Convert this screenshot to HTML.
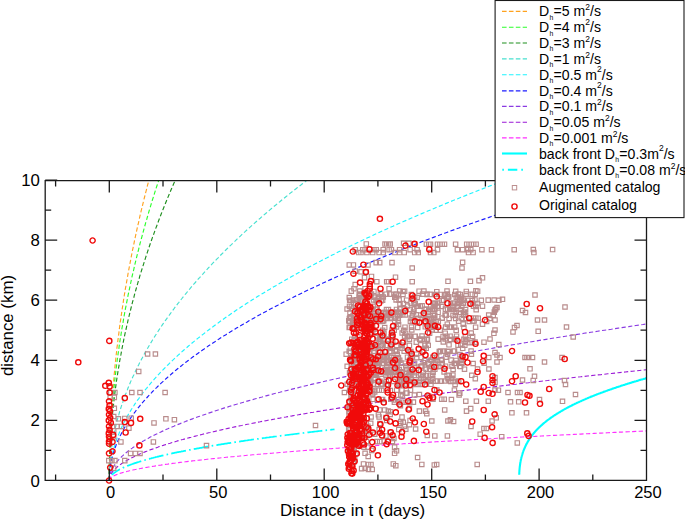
<!DOCTYPE html><html><head><meta charset="utf-8"><title>chart</title><style>html,body{margin:0;padding:0;background:#fff}svg{display:block}text{font-family:"Liberation Sans",sans-serif;fill:#000}</style></head><body>
<svg width="685" height="520" viewBox="0 0 685 520">
<rect width="685" height="520" fill="#fff"/>
<defs><clipPath id="c"><rect x="45.2" y="180.6" width="601.3" height="299.79999999999995"/></clipPath></defs>
<g clip-path="url(#c)" fill="none">
<path d="M109.3,480.4 L109.3,476.7 L109.3,473.0 L109.4,469.3 L109.4,465.6 L109.4,462.0 L109.5,458.3 L109.6,454.6 L109.7,450.9 L109.8,447.2 L109.9,443.5 L110.0,439.8 L110.2,436.1 L110.3,432.5 L110.5,428.8 L110.6,425.1 L110.8,421.4 L111.0,417.7 L111.2,414.0 L111.5,410.3 L111.7,406.6 L111.9,403.0 L112.2,399.3 L112.5,395.6 L112.7,391.9 L113.0,388.2 L113.3,384.5 L113.7,380.8 L114.0,377.1 L114.3,373.5 L114.7,369.8 L115.0,366.1 L115.4,362.4 L115.8,358.7 L116.2,355.0 L116.6,351.3 L117.0,347.6 L117.5,344.0 L117.9,340.3 L118.4,336.6 L118.9,332.9 L119.3,329.2 L119.8,325.5 L120.3,321.8 L120.9,318.1 L121.4,314.5 L121.9,310.8 L122.5,307.1 L123.1,303.4 L123.6,299.7 L124.2,296.0 L124.8,292.3 L125.4,288.6 L126.1,285.0 L126.7,281.3 L127.4,277.6 L128.0,273.9 L128.7,270.2 L129.4,266.5 L130.1,262.8 L130.8,259.1 L131.5,255.5 L132.2,251.8 L133.0,248.1 L133.8,244.4 L134.5,240.7 L135.3,237.0 L136.1,233.3 L136.9,229.6 L137.7,226.0 L138.6,222.3 L139.4,218.6 L140.2,214.9 L141.1,211.2 L142.0,207.5 L142.9,203.8 L143.8,200.1 L144.7,196.5 L145.6,192.8 L146.6,189.1 L147.5,185.4 L148.5,181.7 L149.4,178.0 L150.4,174.3 L151.4,170.6 L152.4,166.9 L153.5,163.3 L154.5,159.6 L155.5,155.9 L156.6,152.2 L157.7,148.5 L158.7,144.8 L159.8,141.1 L160.9,137.4 L162.0,133.8 L163.2,130.1 L164.3,126.4 L165.5,122.7 L166.6,119.0 L167.8,115.3 L169.0,111.6 L170.2,107.9 L171.4,104.3 L172.6,100.6 L173.9,96.9 L175.1,93.2 L176.4,89.5 L177.6,85.8 L178.9,82.1 L180.2,78.4 L181.5,74.8 L182.8,71.1 L184.2,67.4 L185.5,63.7 L186.9,60.0 L188.2,56.3 L189.6,52.6 L191.0,48.9 L192.4,45.3 L193.8,41.6 L195.3,37.9 L196.7,34.2 L198.1,30.5 L199.6,26.8 L201.1,23.1 L202.6,19.4 L204.1,15.8 L205.6,12.1 L207.1,8.4 L208.6,4.7 L210.2,1.0 L211.7,-2.7 L213.3,-6.4 L214.9,-10.1 L216.5,-13.7 L218.1,-17.4 L219.7,-21.1 L221.3,-24.8 L223.0,-28.5 L224.6,-32.2 L226.3,-35.9 L228.0,-39.6 L229.7,-43.2 L231.4,-46.9 L233.1,-50.6 L234.8,-54.3 L236.5,-58.0 L238.3,-61.7 L240.1,-65.4 L241.8,-69.1 L243.6,-72.7 L245.4,-76.4 L247.2,-80.1 L249.0,-83.8 L250.9,-87.5 L252.7,-91.2 L254.6,-94.9 L256.4,-98.6 L258.3,-102.3 L260.2,-105.9 L262.1,-109.6 L264.0,-113.3 L266.0,-117.0 L267.9,-120.7 L269.9,-124.4 L271.8,-128.1 L273.8,-131.8 L275.8,-135.4 L277.8,-139.1 L279.8,-142.8 L281.8,-146.5 L283.9,-150.2 L285.9,-153.9 L288.0,-157.6 L290.0,-161.3 L292.1,-164.9 L294.2,-168.6 L296.3,-172.3 L298.4,-176.0 L300.6,-179.7 L302.7,-183.4 L304.9,-187.1 L307.0,-190.8 L309.2,-194.4 L311.4,-198.1 L313.6,-201.8 L315.8,-205.5 L318.0,-209.2 L320.3,-212.9 L322.5,-216.6 L324.8,-220.3 L327.1,-223.9 L329.4,-227.6 L331.7,-231.3 L334.0,-235.0 L336.3,-238.7 L338.6,-242.4 L341.0,-246.1 L343.3,-249.8 L345.7,-253.4 L348.1,-257.1 L350.5,-260.8 L352.9,-264.5 L355.3,-268.2 L357.7,-271.9 L360.2,-275.6 L362.6,-279.3 L365.1,-282.9 L367.6,-286.6 L370.1,-290.3 L372.6,-294.0 L375.1,-297.7 L377.6,-301.4 L380.1,-305.1 L382.7,-308.8 L385.2,-312.4 L387.8,-316.1 L390.4,-319.8 L393.0,-323.5 L395.6,-327.2 L398.2,-330.9 L400.9,-334.6 L403.5,-338.3 L406.2,-341.9 L408.8,-345.6 L411.5,-349.3 L414.2,-353.0 L416.9,-356.7 L419.6,-360.4 L422.3,-364.1 L425.1,-367.8 L427.8,-371.4 L430.6,-375.1 L433.4,-378.8 L436.2,-382.5 L439.0,-386.2 L441.8,-389.9 L444.6,-393.6 L447.4,-397.3 L450.3,-401.0 L453.1,-404.6 L456.0,-408.3 L458.9,-412.0 L461.8,-415.7 L464.7,-419.4 L467.6,-423.1 L470.5,-426.8 L473.5,-430.5 L476.4,-434.1 L479.4,-437.8 L482.4,-441.5 L485.4,-445.2 L488.4,-448.9 L491.4,-452.6 L494.4,-456.3 L497.5,-460.0 L500.5,-463.6 L503.6,-467.3 L506.7,-471.0 L509.7,-474.7 L512.8,-478.4 L515.9,-482.1 L519.1,-485.8 L522.2,-489.5 L525.3,-493.1 L528.5,-496.8 L531.7,-500.5 L534.9,-504.2 L538.0,-507.9 L541.3,-511.6 L544.5,-515.3 L547.7,-519.0 L550.9,-522.6 L554.2,-526.3 L557.5,-530.0 L560.7,-533.7 L564.0,-537.4 L567.3,-541.1 L570.6,-544.8 L574.0,-548.5 L577.3,-552.1 L580.7,-555.8 L584.0,-559.5 L587.4,-563.2 L590.8,-566.9 L594.2,-570.6 L597.6,-574.3 L601.0,-578.0 L604.4,-581.6 L607.9,-585.3 L611.3,-589.0 L614.8,-592.7 L618.3,-596.4 L621.8,-600.1 L625.3,-603.8 L628.8,-607.5 L632.3,-611.1 L635.9,-614.8 L639.4,-618.5 L643.0,-622.2 L646.5,-625.9" stroke="#ffa21f" stroke-width="1.15" stroke-dasharray="4.2 2.4"/>
<path d="M109.3,480.4 L109.3,477.1 L109.3,473.8 L109.4,470.5 L109.4,467.2 L109.4,463.9 L109.5,460.6 L109.6,457.3 L109.7,454.0 L109.8,450.7 L109.9,447.4 L110.0,444.1 L110.2,440.8 L110.3,437.5 L110.5,434.2 L110.6,430.9 L110.8,427.6 L111.0,424.3 L111.2,421.0 L111.5,417.7 L111.7,414.4 L111.9,411.1 L112.2,407.8 L112.5,404.5 L112.7,401.2 L113.0,397.9 L113.3,394.6 L113.7,391.3 L114.0,388.0 L114.3,384.7 L114.7,381.4 L115.0,378.2 L115.4,374.9 L115.8,371.6 L116.2,368.3 L116.6,365.0 L117.0,361.7 L117.5,358.4 L117.9,355.1 L118.4,351.8 L118.9,348.5 L119.3,345.2 L119.8,341.9 L120.3,338.6 L120.9,335.3 L121.4,332.0 L121.9,328.7 L122.5,325.4 L123.1,322.1 L123.6,318.8 L124.2,315.5 L124.8,312.2 L125.4,308.9 L126.1,305.6 L126.7,302.3 L127.4,299.0 L128.0,295.7 L128.7,292.4 L129.4,289.1 L130.1,285.8 L130.8,282.5 L131.5,279.2 L132.2,275.9 L133.0,272.6 L133.8,269.3 L134.5,266.0 L135.3,262.7 L136.1,259.4 L136.9,256.1 L137.7,252.8 L138.6,249.5 L139.4,246.2 L140.2,242.9 L141.1,239.6 L142.0,236.3 L142.9,233.0 L143.8,229.7 L144.7,226.4 L145.6,223.1 L146.6,219.8 L147.5,216.5 L148.5,213.2 L149.4,209.9 L150.4,206.6 L151.4,203.3 L152.4,200.0 L153.5,196.7 L154.5,193.4 L155.5,190.1 L156.6,186.8 L157.7,183.5 L158.7,180.3 L159.8,177.0 L160.9,173.7 L162.0,170.4 L163.2,167.1 L164.3,163.8 L165.5,160.5 L166.6,157.2 L167.8,153.9 L169.0,150.6 L170.2,147.3 L171.4,144.0 L172.6,140.7 L173.9,137.4 L175.1,134.1 L176.4,130.8 L177.6,127.5 L178.9,124.2 L180.2,120.9 L181.5,117.6 L182.8,114.3 L184.2,111.0 L185.5,107.7 L186.9,104.4 L188.2,101.1 L189.6,97.8 L191.0,94.5 L192.4,91.2 L193.8,87.9 L195.3,84.6 L196.7,81.3 L198.1,78.0 L199.6,74.7 L201.1,71.4 L202.6,68.1 L204.1,64.8 L205.6,61.5 L207.1,58.2 L208.6,54.9 L210.2,51.6 L211.7,48.3 L213.3,45.0 L214.9,41.7 L216.5,38.4 L218.1,35.1 L219.7,31.8 L221.3,28.5 L223.0,25.2 L224.6,21.9 L226.3,18.6 L228.0,15.3 L229.7,12.0 L231.4,8.7 L233.1,5.4 L234.8,2.1 L236.5,-1.2 L238.3,-4.5 L240.1,-7.8 L241.8,-11.1 L243.6,-14.4 L245.4,-17.6 L247.2,-20.9 L249.0,-24.2 L250.9,-27.5 L252.7,-30.8 L254.6,-34.1 L256.4,-37.4 L258.3,-40.7 L260.2,-44.0 L262.1,-47.3 L264.0,-50.6 L266.0,-53.9 L267.9,-57.2 L269.9,-60.5 L271.8,-63.8 L273.8,-67.1 L275.8,-70.4 L277.8,-73.7 L279.8,-77.0 L281.8,-80.3 L283.9,-83.6 L285.9,-86.9 L288.0,-90.2 L290.0,-93.5 L292.1,-96.8 L294.2,-100.1 L296.3,-103.4 L298.4,-106.7 L300.6,-110.0 L302.7,-113.3 L304.9,-116.6 L307.0,-119.9 L309.2,-123.2 L311.4,-126.5 L313.6,-129.8 L315.8,-133.1 L318.0,-136.4 L320.3,-139.7 L322.5,-143.0 L324.8,-146.3 L327.1,-149.6 L329.4,-152.9 L331.7,-156.2 L334.0,-159.5 L336.3,-162.8 L338.6,-166.1 L341.0,-169.4 L343.3,-172.7 L345.7,-176.0 L348.1,-179.3 L350.5,-182.6 L352.9,-185.9 L355.3,-189.2 L357.7,-192.5 L360.2,-195.8 L362.6,-199.1 L365.1,-202.4 L367.6,-205.7 L370.1,-209.0 L372.6,-212.3 L375.1,-215.6 L377.6,-218.8 L380.1,-222.1 L382.7,-225.4 L385.2,-228.7 L387.8,-232.0 L390.4,-235.3 L393.0,-238.6 L395.6,-241.9 L398.2,-245.2 L400.9,-248.5 L403.5,-251.8 L406.2,-255.1 L408.8,-258.4 L411.5,-261.7 L414.2,-265.0 L416.9,-268.3 L419.6,-271.6 L422.3,-274.9 L425.1,-278.2 L427.8,-281.5 L430.6,-284.8 L433.4,-288.1 L436.2,-291.4 L439.0,-294.7 L441.8,-298.0 L444.6,-301.3 L447.4,-304.6 L450.3,-307.9 L453.1,-311.2 L456.0,-314.5 L458.9,-317.8 L461.8,-321.1 L464.7,-324.4 L467.6,-327.7 L470.5,-331.0 L473.5,-334.3 L476.4,-337.6 L479.4,-340.9 L482.4,-344.2 L485.4,-347.5 L488.4,-350.8 L491.4,-354.1 L494.4,-357.4 L497.5,-360.7 L500.5,-364.0 L503.6,-367.3 L506.7,-370.6 L509.7,-373.9 L512.8,-377.2 L515.9,-380.5 L519.1,-383.8 L522.2,-387.1 L525.3,-390.4 L528.5,-393.7 L531.7,-397.0 L534.9,-400.3 L538.0,-403.6 L541.3,-406.9 L544.5,-410.2 L547.7,-413.5 L550.9,-416.7 L554.2,-420.0 L557.5,-423.3 L560.7,-426.6 L564.0,-429.9 L567.3,-433.2 L570.6,-436.5 L574.0,-439.8 L577.3,-443.1 L580.7,-446.4 L584.0,-449.7 L587.4,-453.0 L590.8,-456.3 L594.2,-459.6 L597.6,-462.9 L601.0,-466.2 L604.4,-469.5 L607.9,-472.8 L611.3,-476.1 L614.8,-479.4 L618.3,-482.7 L621.8,-486.0 L625.3,-489.3 L628.8,-492.6 L632.3,-495.9 L635.9,-499.2 L639.4,-502.5 L643.0,-505.8 L646.5,-509.1" stroke="#2bff2b" stroke-width="1.15" stroke-dasharray="4.2 2.4"/>
<path d="M109.3,480.4 L109.3,477.5 L109.3,474.7 L109.4,471.8 L109.4,469.0 L109.4,466.1 L109.5,463.3 L109.6,460.4 L109.7,457.5 L109.8,454.7 L109.9,451.8 L110.0,449.0 L110.2,446.1 L110.3,443.3 L110.5,440.4 L110.6,437.6 L110.8,434.7 L111.0,431.8 L111.2,429.0 L111.5,426.1 L111.7,423.3 L111.9,420.4 L112.2,417.6 L112.5,414.7 L112.7,411.8 L113.0,409.0 L113.3,406.1 L113.7,403.3 L114.0,400.4 L114.3,397.6 L114.7,394.7 L115.0,391.9 L115.4,389.0 L115.8,386.1 L116.2,383.3 L116.6,380.4 L117.0,377.6 L117.5,374.7 L117.9,371.9 L118.4,369.0 L118.9,366.1 L119.3,363.3 L119.8,360.4 L120.3,357.6 L120.9,354.7 L121.4,351.9 L121.9,349.0 L122.5,346.1 L123.1,343.3 L123.6,340.4 L124.2,337.6 L124.8,334.7 L125.4,331.9 L126.1,329.0 L126.7,326.2 L127.4,323.3 L128.0,320.4 L128.7,317.6 L129.4,314.7 L130.1,311.9 L130.8,309.0 L131.5,306.2 L132.2,303.3 L133.0,300.4 L133.8,297.6 L134.5,294.7 L135.3,291.9 L136.1,289.0 L136.9,286.2 L137.7,283.3 L138.6,280.4 L139.4,277.6 L140.2,274.7 L141.1,271.9 L142.0,269.0 L142.9,266.2 L143.8,263.3 L144.7,260.5 L145.6,257.6 L146.6,254.7 L147.5,251.9 L148.5,249.0 L149.4,246.2 L150.4,243.3 L151.4,240.5 L152.4,237.6 L153.5,234.7 L154.5,231.9 L155.5,229.0 L156.6,226.2 L157.7,223.3 L158.7,220.5 L159.8,217.6 L160.9,214.8 L162.0,211.9 L163.2,209.0 L164.3,206.2 L165.5,203.3 L166.6,200.5 L167.8,197.6 L169.0,194.8 L170.2,191.9 L171.4,189.0 L172.6,186.2 L173.9,183.3 L175.1,180.5 L176.4,177.6 L177.6,174.8 L178.9,171.9 L180.2,169.0 L181.5,166.2 L182.8,163.3 L184.2,160.5 L185.5,157.6 L186.9,154.8 L188.2,151.9 L189.6,149.1 L191.0,146.2 L192.4,143.3 L193.8,140.5 L195.3,137.6 L196.7,134.8 L198.1,131.9 L199.6,129.1 L201.1,126.2 L202.6,123.3 L204.1,120.5 L205.6,117.6 L207.1,114.8 L208.6,111.9 L210.2,109.1 L211.7,106.2 L213.3,103.3 L214.9,100.5 L216.5,97.6 L218.1,94.8 L219.7,91.9 L221.3,89.1 L223.0,86.2 L224.6,83.4 L226.3,80.5 L228.0,77.6 L229.7,74.8 L231.4,71.9 L233.1,69.1 L234.8,66.2 L236.5,63.4 L238.3,60.5 L240.1,57.6 L241.8,54.8 L243.6,51.9 L245.4,49.1 L247.2,46.2 L249.0,43.4 L250.9,40.5 L252.7,37.7 L254.6,34.8 L256.4,31.9 L258.3,29.1 L260.2,26.2 L262.1,23.4 L264.0,20.5 L266.0,17.7 L267.9,14.8 L269.9,11.9 L271.8,9.1 L273.8,6.2 L275.8,3.4 L277.8,0.5 L279.8,-2.3 L281.8,-5.2 L283.9,-8.1 L285.9,-10.9 L288.0,-13.8 L290.0,-16.6 L292.1,-19.5 L294.2,-22.3 L296.3,-25.2 L298.4,-28.0 L300.6,-30.9 L302.7,-33.8 L304.9,-36.6 L307.0,-39.5 L309.2,-42.3 L311.4,-45.2 L313.6,-48.0 L315.8,-50.9 L318.0,-53.8 L320.3,-56.6 L322.5,-59.5 L324.8,-62.3 L327.1,-65.2 L329.4,-68.0 L331.7,-70.9 L334.0,-73.8 L336.3,-76.6 L338.6,-79.5 L341.0,-82.3 L343.3,-85.2 L345.7,-88.0 L348.1,-90.9 L350.5,-93.7 L352.9,-96.6 L355.3,-99.5 L357.7,-102.3 L360.2,-105.2 L362.6,-108.0 L365.1,-110.9 L367.6,-113.7 L370.1,-116.6 L372.6,-119.5 L375.1,-122.3 L377.6,-125.2 L380.1,-128.0 L382.7,-130.9 L385.2,-133.7 L387.8,-136.6 L390.4,-139.4 L393.0,-142.3 L395.6,-145.2 L398.2,-148.0 L400.9,-150.9 L403.5,-153.7 L406.2,-156.6 L408.8,-159.4 L411.5,-162.3 L414.2,-165.2 L416.9,-168.0 L419.6,-170.9 L422.3,-173.7 L425.1,-176.6 L427.8,-179.4 L430.6,-182.3 L433.4,-185.2 L436.2,-188.0 L439.0,-190.9 L441.8,-193.7 L444.6,-196.6 L447.4,-199.4 L450.3,-202.3 L453.1,-205.1 L456.0,-208.0 L458.9,-210.9 L461.8,-213.7 L464.7,-216.6 L467.6,-219.4 L470.5,-222.3 L473.5,-225.1 L476.4,-228.0 L479.4,-230.9 L482.4,-233.7 L485.4,-236.6 L488.4,-239.4 L491.4,-242.3 L494.4,-245.1 L497.5,-248.0 L500.5,-250.9 L503.6,-253.7 L506.7,-256.6 L509.7,-259.4 L512.8,-262.3 L515.9,-265.1 L519.1,-268.0 L522.2,-270.8 L525.3,-273.7 L528.5,-276.6 L531.7,-279.4 L534.9,-282.3 L538.0,-285.1 L541.3,-288.0 L544.5,-290.8 L547.7,-293.7 L550.9,-296.6 L554.2,-299.4 L557.5,-302.3 L560.7,-305.1 L564.0,-308.0 L567.3,-310.8 L570.6,-313.7 L574.0,-316.5 L577.3,-319.4 L580.7,-322.3 L584.0,-325.1 L587.4,-328.0 L590.8,-330.8 L594.2,-333.7 L597.6,-336.5 L601.0,-339.4 L604.4,-342.3 L607.9,-345.1 L611.3,-348.0 L614.8,-350.8 L618.3,-353.7 L621.8,-356.5 L625.3,-359.4 L628.8,-362.3 L632.3,-365.1 L635.9,-368.0 L639.4,-370.8 L643.0,-373.7 L646.5,-376.5" stroke="#1f8f1f" stroke-width="1.15" stroke-dasharray="4.2 2.4"/>
<path d="M109.3,480.4 L109.3,478.8 L109.3,477.1 L109.4,475.5 L109.4,473.8 L109.4,472.2 L109.5,470.5 L109.6,468.9 L109.7,467.2 L109.8,465.6 L109.9,463.9 L110.0,462.3 L110.2,460.6 L110.3,459.0 L110.5,457.3 L110.6,455.7 L110.8,454.0 L111.0,452.4 L111.2,450.7 L111.5,449.1 L111.7,447.4 L111.9,445.8 L112.2,444.1 L112.5,442.5 L112.7,440.8 L113.0,439.2 L113.3,437.5 L113.7,435.9 L114.0,434.2 L114.3,432.6 L114.7,430.9 L115.0,429.3 L115.4,427.6 L115.8,426.0 L116.2,424.3 L116.6,422.7 L117.0,421.0 L117.5,419.4 L117.9,417.7 L118.4,416.1 L118.9,414.4 L119.3,412.8 L119.8,411.1 L120.3,409.5 L120.9,407.8 L121.4,406.2 L121.9,404.5 L122.5,402.9 L123.1,401.2 L123.6,399.6 L124.2,397.9 L124.8,396.3 L125.4,394.6 L126.1,393.0 L126.7,391.3 L127.4,389.7 L128.0,388.0 L128.7,386.4 L129.4,384.7 L130.1,383.1 L130.8,381.4 L131.5,379.8 L132.2,378.2 L133.0,376.5 L133.8,374.9 L134.5,373.2 L135.3,371.6 L136.1,369.9 L136.9,368.3 L137.7,366.6 L138.6,365.0 L139.4,363.3 L140.2,361.7 L141.1,360.0 L142.0,358.4 L142.9,356.7 L143.8,355.1 L144.7,353.4 L145.6,351.8 L146.6,350.1 L147.5,348.5 L148.5,346.8 L149.4,345.2 L150.4,343.5 L151.4,341.9 L152.4,340.2 L153.5,338.6 L154.5,336.9 L155.5,335.3 L156.6,333.6 L157.7,332.0 L158.7,330.3 L159.8,328.7 L160.9,327.0 L162.0,325.4 L163.2,323.7 L164.3,322.1 L165.5,320.4 L166.6,318.8 L167.8,317.1 L169.0,315.5 L170.2,313.8 L171.4,312.2 L172.6,310.5 L173.9,308.9 L175.1,307.2 L176.4,305.6 L177.6,303.9 L178.9,302.3 L180.2,300.6 L181.5,299.0 L182.8,297.3 L184.2,295.7 L185.5,294.0 L186.9,292.4 L188.2,290.7 L189.6,289.1 L191.0,287.4 L192.4,285.8 L193.8,284.1 L195.3,282.5 L196.7,280.9 L198.1,279.2 L199.6,277.6 L201.1,275.9 L202.6,274.3 L204.1,272.6 L205.6,271.0 L207.1,269.3 L208.6,267.7 L210.2,266.0 L211.7,264.4 L213.3,262.7 L214.9,261.1 L216.5,259.4 L218.1,257.8 L219.7,256.1 L221.3,254.5 L223.0,252.8 L224.6,251.2 L226.3,249.5 L228.0,247.9 L229.7,246.2 L231.4,244.6 L233.1,242.9 L234.8,241.3 L236.5,239.6 L238.3,238.0 L240.1,236.3 L241.8,234.7 L243.6,233.0 L245.4,231.4 L247.2,229.7 L249.0,228.1 L250.9,226.4 L252.7,224.8 L254.6,223.1 L256.4,221.5 L258.3,219.8 L260.2,218.2 L262.1,216.5 L264.0,214.9 L266.0,213.2 L267.9,211.6 L269.9,209.9 L271.8,208.3 L273.8,206.6 L275.8,205.0 L277.8,203.3 L279.8,201.7 L281.8,200.0 L283.9,198.4 L285.9,196.7 L288.0,195.1 L290.0,193.4 L292.1,191.8 L294.2,190.1 L296.3,188.5 L298.4,186.8 L300.6,185.2 L302.7,183.5 L304.9,181.9 L307.0,180.3 L309.2,178.6 L311.4,177.0 L313.6,175.3 L315.8,173.7 L318.0,172.0 L320.3,170.4 L322.5,168.7 L324.8,167.1 L327.1,165.4 L329.4,163.8 L331.7,162.1 L334.0,160.5 L336.3,158.8 L338.6,157.2 L341.0,155.5 L343.3,153.9 L345.7,152.2 L348.1,150.6 L350.5,148.9 L352.9,147.3 L355.3,145.6 L357.7,144.0 L360.2,142.3 L362.6,140.7 L365.1,139.0 L367.6,137.4 L370.1,135.7 L372.6,134.1 L375.1,132.4 L377.6,130.8 L380.1,129.1 L382.7,127.5 L385.2,125.8 L387.8,124.2 L390.4,122.5 L393.0,120.9 L395.6,119.2 L398.2,117.6 L400.9,115.9 L403.5,114.3 L406.2,112.6 L408.8,111.0 L411.5,109.3 L414.2,107.7 L416.9,106.0 L419.6,104.4 L422.3,102.7 L425.1,101.1 L427.8,99.4 L430.6,97.8 L433.4,96.1 L436.2,94.5 L439.0,92.8 L441.8,91.2 L444.6,89.5 L447.4,87.9 L450.3,86.2 L453.1,84.6 L456.0,82.9 L458.9,81.3 L461.8,79.7 L464.7,78.0 L467.6,76.4 L470.5,74.7 L473.5,73.1 L476.4,71.4 L479.4,69.8 L482.4,68.1 L485.4,66.5 L488.4,64.8 L491.4,63.2 L494.4,61.5 L497.5,59.9 L500.5,58.2 L503.6,56.6 L506.7,54.9 L509.7,53.3 L512.8,51.6 L515.9,50.0 L519.1,48.3 L522.2,46.7 L525.3,45.0 L528.5,43.4 L531.7,41.7 L534.9,40.1 L538.0,38.4 L541.3,36.8 L544.5,35.1 L547.7,33.5 L550.9,31.8 L554.2,30.2 L557.5,28.5 L560.7,26.9 L564.0,25.2 L567.3,23.6 L570.6,21.9 L574.0,20.3 L577.3,18.6 L580.7,17.0 L584.0,15.3 L587.4,13.7 L590.8,12.0 L594.2,10.4 L597.6,8.7 L601.0,7.1 L604.4,5.4 L607.9,3.8 L611.3,2.1 L614.8,0.5 L618.3,-1.2 L621.8,-2.8 L625.3,-4.5 L628.8,-6.1 L632.3,-7.8 L635.9,-9.4 L639.4,-11.1 L643.0,-12.7 L646.5,-14.4" stroke="#48e0d0" stroke-width="1.15" stroke-dasharray="4.2 2.4"/>
<path d="M109.3,480.4 L109.3,479.2 L109.3,478.1 L109.4,476.9 L109.4,475.7 L109.4,474.6 L109.5,473.4 L109.6,472.2 L109.7,471.1 L109.8,469.9 L109.9,468.7 L110.0,467.6 L110.2,466.4 L110.3,465.2 L110.5,464.1 L110.6,462.9 L110.8,461.7 L111.0,460.6 L111.2,459.4 L111.5,458.2 L111.7,457.1 L111.9,455.9 L112.2,454.7 L112.5,453.6 L112.7,452.4 L113.0,451.2 L113.3,450.1 L113.7,448.9 L114.0,447.7 L114.3,446.6 L114.7,445.4 L115.0,444.2 L115.4,443.1 L115.8,441.9 L116.2,440.8 L116.6,439.6 L117.0,438.4 L117.5,437.3 L117.9,436.1 L118.4,434.9 L118.9,433.8 L119.3,432.6 L119.8,431.4 L120.3,430.3 L120.9,429.1 L121.4,427.9 L121.9,426.8 L122.5,425.6 L123.1,424.4 L123.6,423.3 L124.2,422.1 L124.8,420.9 L125.4,419.8 L126.1,418.6 L126.7,417.4 L127.4,416.3 L128.0,415.1 L128.7,413.9 L129.4,412.8 L130.1,411.6 L130.8,410.4 L131.5,409.3 L132.2,408.1 L133.0,406.9 L133.8,405.8 L134.5,404.6 L135.3,403.4 L136.1,402.3 L136.9,401.1 L137.7,399.9 L138.6,398.8 L139.4,397.6 L140.2,396.4 L141.1,395.3 L142.0,394.1 L142.9,392.9 L143.8,391.8 L144.7,390.6 L145.6,389.4 L146.6,388.3 L147.5,387.1 L148.5,385.9 L149.4,384.8 L150.4,383.6 L151.4,382.4 L152.4,381.3 L153.5,380.1 L154.5,378.9 L155.5,377.8 L156.6,376.6 L157.7,375.4 L158.7,374.3 L159.8,373.1 L160.9,371.9 L162.0,370.8 L163.2,369.6 L164.3,368.5 L165.5,367.3 L166.6,366.1 L167.8,365.0 L169.0,363.8 L170.2,362.6 L171.4,361.5 L172.6,360.3 L173.9,359.1 L175.1,358.0 L176.4,356.8 L177.6,355.6 L178.9,354.5 L180.2,353.3 L181.5,352.1 L182.8,351.0 L184.2,349.8 L185.5,348.6 L186.9,347.5 L188.2,346.3 L189.6,345.1 L191.0,344.0 L192.4,342.8 L193.8,341.6 L195.3,340.5 L196.7,339.3 L198.1,338.1 L199.6,337.0 L201.1,335.8 L202.6,334.6 L204.1,333.5 L205.6,332.3 L207.1,331.1 L208.6,330.0 L210.2,328.8 L211.7,327.6 L213.3,326.5 L214.9,325.3 L216.5,324.1 L218.1,323.0 L219.7,321.8 L221.3,320.6 L223.0,319.5 L224.6,318.3 L226.3,317.1 L228.0,316.0 L229.7,314.8 L231.4,313.6 L233.1,312.5 L234.8,311.3 L236.5,310.1 L238.3,309.0 L240.1,307.8 L241.8,306.6 L243.6,305.5 L245.4,304.3 L247.2,303.1 L249.0,302.0 L250.9,300.8 L252.7,299.6 L254.6,298.5 L256.4,297.3 L258.3,296.1 L260.2,295.0 L262.1,293.8 L264.0,292.7 L266.0,291.5 L267.9,290.3 L269.9,289.2 L271.8,288.0 L273.8,286.8 L275.8,285.7 L277.8,284.5 L279.8,283.3 L281.8,282.2 L283.9,281.0 L285.9,279.8 L288.0,278.7 L290.0,277.5 L292.1,276.3 L294.2,275.2 L296.3,274.0 L298.4,272.8 L300.6,271.7 L302.7,270.5 L304.9,269.3 L307.0,268.2 L309.2,267.0 L311.4,265.8 L313.6,264.7 L315.8,263.5 L318.0,262.3 L320.3,261.2 L322.5,260.0 L324.8,258.8 L327.1,257.7 L329.4,256.5 L331.7,255.3 L334.0,254.2 L336.3,253.0 L338.6,251.8 L341.0,250.7 L343.3,249.5 L345.7,248.3 L348.1,247.2 L350.5,246.0 L352.9,244.8 L355.3,243.7 L357.7,242.5 L360.2,241.3 L362.6,240.2 L365.1,239.0 L367.6,237.8 L370.1,236.7 L372.6,235.5 L375.1,234.3 L377.6,233.2 L380.1,232.0 L382.7,230.8 L385.2,229.7 L387.8,228.5 L390.4,227.3 L393.0,226.2 L395.6,225.0 L398.2,223.8 L400.9,222.7 L403.5,221.5 L406.2,220.4 L408.8,219.2 L411.5,218.0 L414.2,216.9 L416.9,215.7 L419.6,214.5 L422.3,213.4 L425.1,212.2 L427.8,211.0 L430.6,209.9 L433.4,208.7 L436.2,207.5 L439.0,206.4 L441.8,205.2 L444.6,204.0 L447.4,202.9 L450.3,201.7 L453.1,200.5 L456.0,199.4 L458.9,198.2 L461.8,197.0 L464.7,195.9 L467.6,194.7 L470.5,193.5 L473.5,192.4 L476.4,191.2 L479.4,190.0 L482.4,188.9 L485.4,187.7 L488.4,186.5 L491.4,185.4 L494.4,184.2 L497.5,183.0 L500.5,181.9 L503.6,180.7 L506.7,179.5 L509.7,178.4 L512.8,177.2 L515.9,176.0 L519.1,174.9 L522.2,173.7 L525.3,172.5 L528.5,171.4 L531.7,170.2 L534.9,169.0 L538.0,167.9 L541.3,166.7 L544.5,165.5 L547.7,164.4 L550.9,163.2 L554.2,162.0 L557.5,160.9 L560.7,159.7 L564.0,158.5 L567.3,157.4 L570.6,156.2 L574.0,155.0 L577.3,153.9 L580.7,152.7 L584.0,151.5 L587.4,150.4 L590.8,149.2 L594.2,148.0 L597.6,146.9 L601.0,145.7 L604.4,144.6 L607.9,143.4 L611.3,142.2 L614.8,141.1 L618.3,139.9 L621.8,138.7 L625.3,137.6 L628.8,136.4 L632.3,135.2 L635.9,134.1 L639.4,132.9 L643.0,131.7 L646.5,130.6" stroke="#1ff4ff" stroke-width="1.15" stroke-dasharray="4.2 2.4"/>
<path d="M109.3,480.4 L109.3,479.4 L109.3,478.3 L109.4,477.3 L109.4,476.2 L109.4,475.2 L109.5,474.1 L109.6,473.1 L109.7,472.1 L109.8,471.0 L109.9,470.0 L110.0,468.9 L110.2,467.9 L110.3,466.8 L110.5,465.8 L110.6,464.8 L110.8,463.7 L111.0,462.7 L111.2,461.6 L111.5,460.6 L111.7,459.5 L111.9,458.5 L112.2,457.5 L112.5,456.4 L112.7,455.4 L113.0,454.3 L113.3,453.3 L113.7,452.2 L114.0,451.2 L114.3,450.2 L114.7,449.1 L115.0,448.1 L115.4,447.0 L115.8,446.0 L116.2,444.9 L116.6,443.9 L117.0,442.9 L117.5,441.8 L117.9,440.8 L118.4,439.7 L118.9,438.7 L119.3,437.6 L119.8,436.6 L120.3,435.5 L120.9,434.5 L121.4,433.5 L121.9,432.4 L122.5,431.4 L123.1,430.3 L123.6,429.3 L124.2,428.2 L124.8,427.2 L125.4,426.2 L126.1,425.1 L126.7,424.1 L127.4,423.0 L128.0,422.0 L128.7,420.9 L129.4,419.9 L130.1,418.9 L130.8,417.8 L131.5,416.8 L132.2,415.7 L133.0,414.7 L133.8,413.6 L134.5,412.6 L135.3,411.6 L136.1,410.5 L136.9,409.5 L137.7,408.4 L138.6,407.4 L139.4,406.3 L140.2,405.3 L141.1,404.3 L142.0,403.2 L142.9,402.2 L143.8,401.1 L144.7,400.1 L145.6,399.0 L146.6,398.0 L147.5,397.0 L148.5,395.9 L149.4,394.9 L150.4,393.8 L151.4,392.8 L152.4,391.7 L153.5,390.7 L154.5,389.7 L155.5,388.6 L156.6,387.6 L157.7,386.5 L158.7,385.5 L159.8,384.4 L160.9,383.4 L162.0,382.4 L163.2,381.3 L164.3,380.3 L165.5,379.2 L166.6,378.2 L167.8,377.1 L169.0,376.1 L170.2,375.1 L171.4,374.0 L172.6,373.0 L173.9,371.9 L175.1,370.9 L176.4,369.8 L177.6,368.8 L178.9,367.8 L180.2,366.7 L181.5,365.7 L182.8,364.6 L184.2,363.6 L185.5,362.5 L186.9,361.5 L188.2,360.5 L189.6,359.4 L191.0,358.4 L192.4,357.3 L193.8,356.3 L195.3,355.2 L196.7,354.2 L198.1,353.2 L199.6,352.1 L201.1,351.1 L202.6,350.0 L204.1,349.0 L205.6,347.9 L207.1,346.9 L208.6,345.8 L210.2,344.8 L211.7,343.8 L213.3,342.7 L214.9,341.7 L216.5,340.6 L218.1,339.6 L219.7,338.5 L221.3,337.5 L223.0,336.5 L224.6,335.4 L226.3,334.4 L228.0,333.3 L229.7,332.3 L231.4,331.2 L233.1,330.2 L234.8,329.2 L236.5,328.1 L238.3,327.1 L240.1,326.0 L241.8,325.0 L243.6,323.9 L245.4,322.9 L247.2,321.9 L249.0,320.8 L250.9,319.8 L252.7,318.7 L254.6,317.7 L256.4,316.6 L258.3,315.6 L260.2,314.6 L262.1,313.5 L264.0,312.5 L266.0,311.4 L267.9,310.4 L269.9,309.3 L271.8,308.3 L273.8,307.3 L275.8,306.2 L277.8,305.2 L279.8,304.1 L281.8,303.1 L283.9,302.0 L285.9,301.0 L288.0,300.0 L290.0,298.9 L292.1,297.9 L294.2,296.8 L296.3,295.8 L298.4,294.7 L300.6,293.7 L302.7,292.7 L304.9,291.6 L307.0,290.6 L309.2,289.5 L311.4,288.5 L313.6,287.4 L315.8,286.4 L318.0,285.4 L320.3,284.3 L322.5,283.3 L324.8,282.2 L327.1,281.2 L329.4,280.1 L331.7,279.1 L334.0,278.1 L336.3,277.0 L338.6,276.0 L341.0,274.9 L343.3,273.9 L345.7,272.8 L348.1,271.8 L350.5,270.8 L352.9,269.7 L355.3,268.7 L357.7,267.6 L360.2,266.6 L362.6,265.5 L365.1,264.5 L367.6,263.5 L370.1,262.4 L372.6,261.4 L375.1,260.3 L377.6,259.3 L380.1,258.2 L382.7,257.2 L385.2,256.1 L387.8,255.1 L390.4,254.1 L393.0,253.0 L395.6,252.0 L398.2,250.9 L400.9,249.9 L403.5,248.8 L406.2,247.8 L408.8,246.8 L411.5,245.7 L414.2,244.7 L416.9,243.6 L419.6,242.6 L422.3,241.5 L425.1,240.5 L427.8,239.5 L430.6,238.4 L433.4,237.4 L436.2,236.3 L439.0,235.3 L441.8,234.2 L444.6,233.2 L447.4,232.2 L450.3,231.1 L453.1,230.1 L456.0,229.0 L458.9,228.0 L461.8,226.9 L464.7,225.9 L467.6,224.9 L470.5,223.8 L473.5,222.8 L476.4,221.7 L479.4,220.7 L482.4,219.6 L485.4,218.6 L488.4,217.6 L491.4,216.5 L494.4,215.5 L497.5,214.4 L500.5,213.4 L503.6,212.3 L506.7,211.3 L509.7,210.3 L512.8,209.2 L515.9,208.2 L519.1,207.1 L522.2,206.1 L525.3,205.0 L528.5,204.0 L531.7,203.0 L534.9,201.9 L538.0,200.9 L541.3,199.8 L544.5,198.8 L547.7,197.7 L550.9,196.7 L554.2,195.7 L557.5,194.6 L560.7,193.6 L564.0,192.5 L567.3,191.5 L570.6,190.4 L574.0,189.4 L577.3,188.4 L580.7,187.3 L584.0,186.3 L587.4,185.2 L590.8,184.2 L594.2,183.1 L597.6,182.1 L601.0,181.1 L604.4,180.0 L607.9,179.0 L611.3,177.9 L614.8,176.9 L618.3,175.8 L621.8,174.8 L625.3,173.7 L628.8,172.7 L632.3,171.7 L635.9,170.6 L639.4,169.6 L643.0,168.5 L646.5,167.5" stroke="#1c1cff" stroke-width="1.15" stroke-dasharray="4.2 2.4"/>
<path d="M109.3,480.4 L109.3,479.9 L109.3,479.4 L109.4,478.8 L109.4,478.3 L109.4,477.8 L109.5,477.3 L109.6,476.7 L109.7,476.2 L109.8,475.7 L109.9,475.2 L110.0,474.7 L110.2,474.1 L110.3,473.6 L110.5,473.1 L110.6,472.6 L110.8,472.1 L111.0,471.5 L111.2,471.0 L111.5,470.5 L111.7,470.0 L111.9,469.4 L112.2,468.9 L112.5,468.4 L112.7,467.9 L113.0,467.4 L113.3,466.8 L113.7,466.3 L114.0,465.8 L114.3,465.3 L114.7,464.8 L115.0,464.2 L115.4,463.7 L115.8,463.2 L116.2,462.7 L116.6,462.1 L117.0,461.6 L117.5,461.1 L117.9,460.6 L118.4,460.1 L118.9,459.5 L119.3,459.0 L119.8,458.5 L120.3,458.0 L120.9,457.5 L121.4,456.9 L121.9,456.4 L122.5,455.9 L123.1,455.4 L123.6,454.8 L124.2,454.3 L124.8,453.8 L125.4,453.3 L126.1,452.8 L126.7,452.2 L127.4,451.7 L128.0,451.2 L128.7,450.7 L129.4,450.2 L130.1,449.6 L130.8,449.1 L131.5,448.6 L132.2,448.1 L133.0,447.5 L133.8,447.0 L134.5,446.5 L135.3,446.0 L136.1,445.5 L136.9,444.9 L137.7,444.4 L138.6,443.9 L139.4,443.4 L140.2,442.9 L141.1,442.3 L142.0,441.8 L142.9,441.3 L143.8,440.8 L144.7,440.2 L145.6,439.7 L146.6,439.2 L147.5,438.7 L148.5,438.2 L149.4,437.6 L150.4,437.1 L151.4,436.6 L152.4,436.1 L153.5,435.5 L154.5,435.0 L155.5,434.5 L156.6,434.0 L157.7,433.5 L158.7,432.9 L159.8,432.4 L160.9,431.9 L162.0,431.4 L163.2,430.9 L164.3,430.3 L165.5,429.8 L166.6,429.3 L167.8,428.8 L169.0,428.2 L170.2,427.7 L171.4,427.2 L172.6,426.7 L173.9,426.2 L175.1,425.6 L176.4,425.1 L177.6,424.6 L178.9,424.1 L180.2,423.6 L181.5,423.0 L182.8,422.5 L184.2,422.0 L185.5,421.5 L186.9,420.9 L188.2,420.4 L189.6,419.9 L191.0,419.4 L192.4,418.9 L193.8,418.3 L195.3,417.8 L196.7,417.3 L198.1,416.8 L199.6,416.3 L201.1,415.7 L202.6,415.2 L204.1,414.7 L205.6,414.2 L207.1,413.6 L208.6,413.1 L210.2,412.6 L211.7,412.1 L213.3,411.6 L214.9,411.0 L216.5,410.5 L218.1,410.0 L219.7,409.5 L221.3,409.0 L223.0,408.4 L224.6,407.9 L226.3,407.4 L228.0,406.9 L229.7,406.3 L231.4,405.8 L233.1,405.3 L234.8,404.8 L236.5,404.3 L238.3,403.7 L240.1,403.2 L241.8,402.7 L243.6,402.2 L245.4,401.7 L247.2,401.1 L249.0,400.6 L250.9,400.1 L252.7,399.6 L254.6,399.0 L256.4,398.5 L258.3,398.0 L260.2,397.5 L262.1,397.0 L264.0,396.4 L266.0,395.9 L267.9,395.4 L269.9,394.9 L271.8,394.4 L273.8,393.8 L275.8,393.3 L277.8,392.8 L279.8,392.3 L281.8,391.7 L283.9,391.2 L285.9,390.7 L288.0,390.2 L290.0,389.7 L292.1,389.1 L294.2,388.6 L296.3,388.1 L298.4,387.6 L300.6,387.0 L302.7,386.5 L304.9,386.0 L307.0,385.5 L309.2,385.0 L311.4,384.4 L313.6,383.9 L315.8,383.4 L318.0,382.9 L320.3,382.4 L322.5,381.8 L324.8,381.3 L327.1,380.8 L329.4,380.3 L331.7,379.7 L334.0,379.2 L336.3,378.7 L338.6,378.2 L341.0,377.7 L343.3,377.1 L345.7,376.6 L348.1,376.1 L350.5,375.6 L352.9,375.1 L355.3,374.5 L357.7,374.0 L360.2,373.5 L362.6,373.0 L365.1,372.4 L367.6,371.9 L370.1,371.4 L372.6,370.9 L375.1,370.4 L377.6,369.8 L380.1,369.3 L382.7,368.8 L385.2,368.3 L387.8,367.8 L390.4,367.2 L393.0,366.7 L395.6,366.2 L398.2,365.7 L400.9,365.1 L403.5,364.6 L406.2,364.1 L408.8,363.6 L411.5,363.1 L414.2,362.5 L416.9,362.0 L419.6,361.5 L422.3,361.0 L425.1,360.5 L427.8,359.9 L430.6,359.4 L433.4,358.9 L436.2,358.4 L439.0,357.8 L441.8,357.3 L444.6,356.8 L447.4,356.3 L450.3,355.8 L453.1,355.2 L456.0,354.7 L458.9,354.2 L461.8,353.7 L464.7,353.2 L467.6,352.6 L470.5,352.1 L473.5,351.6 L476.4,351.1 L479.4,350.5 L482.4,350.0 L485.4,349.5 L488.4,349.0 L491.4,348.5 L494.4,347.9 L497.5,347.4 L500.5,346.9 L503.6,346.4 L506.7,345.8 L509.7,345.3 L512.8,344.8 L515.9,344.3 L519.1,343.8 L522.2,343.2 L525.3,342.7 L528.5,342.2 L531.7,341.7 L534.9,341.2 L538.0,340.6 L541.3,340.1 L544.5,339.6 L547.7,339.1 L550.9,338.5 L554.2,338.0 L557.5,337.5 L560.7,337.0 L564.0,336.5 L567.3,335.9 L570.6,335.4 L574.0,334.9 L577.3,334.4 L580.7,333.9 L584.0,333.3 L587.4,332.8 L590.8,332.3 L594.2,331.8 L597.6,331.2 L601.0,330.7 L604.4,330.2 L607.9,329.7 L611.3,329.2 L614.8,328.6 L618.3,328.1 L621.8,327.6 L625.3,327.1 L628.8,326.6 L632.3,326.0 L635.9,325.5 L639.4,325.0 L643.0,324.5 L646.5,323.9" stroke="#8a3be2" stroke-width="1.15" stroke-dasharray="4.2 2.4"/>
<path d="M109.3,480.4 L109.3,480.0 L109.3,479.7 L109.4,479.3 L109.4,478.9 L109.4,478.6 L109.5,478.2 L109.6,477.8 L109.7,477.4 L109.8,477.1 L109.9,476.7 L110.0,476.3 L110.2,476.0 L110.3,475.6 L110.5,475.2 L110.6,474.9 L110.8,474.5 L111.0,474.1 L111.2,473.8 L111.5,473.4 L111.7,473.0 L111.9,472.7 L112.2,472.3 L112.5,471.9 L112.7,471.5 L113.0,471.2 L113.3,470.8 L113.7,470.4 L114.0,470.1 L114.3,469.7 L114.7,469.3 L115.0,469.0 L115.4,468.6 L115.8,468.2 L116.2,467.9 L116.6,467.5 L117.0,467.1 L117.5,466.8 L117.9,466.4 L118.4,466.0 L118.9,465.6 L119.3,465.3 L119.8,464.9 L120.3,464.5 L120.9,464.2 L121.4,463.8 L121.9,463.4 L122.5,463.1 L123.1,462.7 L123.6,462.3 L124.2,462.0 L124.8,461.6 L125.4,461.2 L126.1,460.9 L126.7,460.5 L127.4,460.1 L128.0,459.7 L128.7,459.4 L129.4,459.0 L130.1,458.6 L130.8,458.3 L131.5,457.9 L132.2,457.5 L133.0,457.2 L133.8,456.8 L134.5,456.4 L135.3,456.1 L136.1,455.7 L136.9,455.3 L137.7,455.0 L138.6,454.6 L139.4,454.2 L140.2,453.8 L141.1,453.5 L142.0,453.1 L142.9,452.7 L143.8,452.4 L144.7,452.0 L145.6,451.6 L146.6,451.3 L147.5,450.9 L148.5,450.5 L149.4,450.2 L150.4,449.8 L151.4,449.4 L152.4,449.1 L153.5,448.7 L154.5,448.3 L155.5,447.9 L156.6,447.6 L157.7,447.2 L158.7,446.8 L159.8,446.5 L160.9,446.1 L162.0,445.7 L163.2,445.4 L164.3,445.0 L165.5,444.6 L166.6,444.3 L167.8,443.9 L169.0,443.5 L170.2,443.2 L171.4,442.8 L172.6,442.4 L173.9,442.0 L175.1,441.7 L176.4,441.3 L177.6,440.9 L178.9,440.6 L180.2,440.2 L181.5,439.8 L182.8,439.5 L184.2,439.1 L185.5,438.7 L186.9,438.4 L188.2,438.0 L189.6,437.6 L191.0,437.3 L192.4,436.9 L193.8,436.5 L195.3,436.1 L196.7,435.8 L198.1,435.4 L199.6,435.0 L201.1,434.7 L202.6,434.3 L204.1,433.9 L205.6,433.6 L207.1,433.2 L208.6,432.8 L210.2,432.5 L211.7,432.1 L213.3,431.7 L214.9,431.4 L216.5,431.0 L218.1,430.6 L219.7,430.2 L221.3,429.9 L223.0,429.5 L224.6,429.1 L226.3,428.8 L228.0,428.4 L229.7,428.0 L231.4,427.7 L233.1,427.3 L234.8,426.9 L236.5,426.6 L238.3,426.2 L240.1,425.8 L241.8,425.5 L243.6,425.1 L245.4,424.7 L247.2,424.3 L249.0,424.0 L250.9,423.6 L252.7,423.2 L254.6,422.9 L256.4,422.5 L258.3,422.1 L260.2,421.8 L262.1,421.4 L264.0,421.0 L266.0,420.7 L267.9,420.3 L269.9,419.9 L271.8,419.6 L273.8,419.2 L275.8,418.8 L277.8,418.4 L279.8,418.1 L281.8,417.7 L283.9,417.3 L285.9,417.0 L288.0,416.6 L290.0,416.2 L292.1,415.9 L294.2,415.5 L296.3,415.1 L298.4,414.8 L300.6,414.4 L302.7,414.0 L304.9,413.7 L307.0,413.3 L309.2,412.9 L311.4,412.5 L313.6,412.2 L315.8,411.8 L318.0,411.4 L320.3,411.1 L322.5,410.7 L324.8,410.3 L327.1,410.0 L329.4,409.6 L331.7,409.2 L334.0,408.9 L336.3,408.5 L338.6,408.1 L341.0,407.8 L343.3,407.4 L345.7,407.0 L348.1,406.6 L350.5,406.3 L352.9,405.9 L355.3,405.5 L357.7,405.2 L360.2,404.8 L362.6,404.4 L365.1,404.1 L367.6,403.7 L370.1,403.3 L372.6,403.0 L375.1,402.6 L377.6,402.2 L380.1,401.9 L382.7,401.5 L385.2,401.1 L387.8,400.7 L390.4,400.4 L393.0,400.0 L395.6,399.6 L398.2,399.3 L400.9,398.9 L403.5,398.5 L406.2,398.2 L408.8,397.8 L411.5,397.4 L414.2,397.1 L416.9,396.7 L419.6,396.3 L422.3,396.0 L425.1,395.6 L427.8,395.2 L430.6,394.8 L433.4,394.5 L436.2,394.1 L439.0,393.7 L441.8,393.4 L444.6,393.0 L447.4,392.6 L450.3,392.3 L453.1,391.9 L456.0,391.5 L458.9,391.2 L461.8,390.8 L464.7,390.4 L467.6,390.1 L470.5,389.7 L473.5,389.3 L476.4,388.9 L479.4,388.6 L482.4,388.2 L485.4,387.8 L488.4,387.5 L491.4,387.1 L494.4,386.7 L497.5,386.4 L500.5,386.0 L503.6,385.6 L506.7,385.3 L509.7,384.9 L512.8,384.5 L515.9,384.2 L519.1,383.8 L522.2,383.4 L525.3,383.0 L528.5,382.7 L531.7,382.3 L534.9,381.9 L538.0,381.6 L541.3,381.2 L544.5,380.8 L547.7,380.5 L550.9,380.1 L554.2,379.7 L557.5,379.4 L560.7,379.0 L564.0,378.6 L567.3,378.3 L570.6,377.9 L574.0,377.5 L577.3,377.1 L580.7,376.8 L584.0,376.4 L587.4,376.0 L590.8,375.7 L594.2,375.3 L597.6,374.9 L601.0,374.6 L604.4,374.2 L607.9,373.8 L611.3,373.5 L614.8,373.1 L618.3,372.7 L621.8,372.4 L625.3,372.0 L628.8,371.6 L632.3,371.2 L635.9,370.9 L639.4,370.5 L643.0,370.1 L646.5,369.8" stroke="#9a18d6" stroke-width="1.15" stroke-dasharray="4.2 2.4"/>
<path d="M109.3,480.4 L109.3,480.2 L109.3,480.1 L109.4,479.9 L109.4,479.7 L109.4,479.6 L109.5,479.4 L109.6,479.2 L109.7,479.1 L109.8,478.9 L109.9,478.8 L110.0,478.6 L110.2,478.4 L110.3,478.3 L110.5,478.1 L110.6,477.9 L110.8,477.8 L111.0,477.6 L111.2,477.4 L111.5,477.3 L111.7,477.1 L111.9,476.9 L112.2,476.8 L112.5,476.6 L112.7,476.4 L113.0,476.3 L113.3,476.1 L113.7,475.9 L114.0,475.8 L114.3,475.6 L114.7,475.5 L115.0,475.3 L115.4,475.1 L115.8,475.0 L116.2,474.8 L116.6,474.6 L117.0,474.5 L117.5,474.3 L117.9,474.1 L118.4,474.0 L118.9,473.8 L119.3,473.6 L119.8,473.5 L120.3,473.3 L120.9,473.1 L121.4,473.0 L121.9,472.8 L122.5,472.6 L123.1,472.5 L123.6,472.3 L124.2,472.2 L124.8,472.0 L125.4,471.8 L126.1,471.7 L126.7,471.5 L127.4,471.3 L128.0,471.2 L128.7,471.0 L129.4,470.8 L130.1,470.7 L130.8,470.5 L131.5,470.3 L132.2,470.2 L133.0,470.0 L133.8,469.8 L134.5,469.7 L135.3,469.5 L136.1,469.4 L136.9,469.2 L137.7,469.0 L138.6,468.9 L139.4,468.7 L140.2,468.5 L141.1,468.4 L142.0,468.2 L142.9,468.0 L143.8,467.9 L144.7,467.7 L145.6,467.5 L146.6,467.4 L147.5,467.2 L148.5,467.0 L149.4,466.9 L150.4,466.7 L151.4,466.5 L152.4,466.4 L153.5,466.2 L154.5,466.1 L155.5,465.9 L156.6,465.7 L157.7,465.6 L158.7,465.4 L159.8,465.2 L160.9,465.1 L162.0,464.9 L163.2,464.7 L164.3,464.6 L165.5,464.4 L166.6,464.2 L167.8,464.1 L169.0,463.9 L170.2,463.7 L171.4,463.6 L172.6,463.4 L173.9,463.2 L175.1,463.1 L176.4,462.9 L177.6,462.8 L178.9,462.6 L180.2,462.4 L181.5,462.3 L182.8,462.1 L184.2,461.9 L185.5,461.8 L186.9,461.6 L188.2,461.4 L189.6,461.3 L191.0,461.1 L192.4,460.9 L193.8,460.8 L195.3,460.6 L196.7,460.4 L198.1,460.3 L199.6,460.1 L201.1,460.0 L202.6,459.8 L204.1,459.6 L205.6,459.5 L207.1,459.3 L208.6,459.1 L210.2,459.0 L211.7,458.8 L213.3,458.6 L214.9,458.5 L216.5,458.3 L218.1,458.1 L219.7,458.0 L221.3,457.8 L223.0,457.6 L224.6,457.5 L226.3,457.3 L228.0,457.1 L229.7,457.0 L231.4,456.8 L233.1,456.7 L234.8,456.5 L236.5,456.3 L238.3,456.2 L240.1,456.0 L241.8,455.8 L243.6,455.7 L245.4,455.5 L247.2,455.3 L249.0,455.2 L250.9,455.0 L252.7,454.8 L254.6,454.7 L256.4,454.5 L258.3,454.3 L260.2,454.2 L262.1,454.0 L264.0,453.8 L266.0,453.7 L267.9,453.5 L269.9,453.4 L271.8,453.2 L273.8,453.0 L275.8,452.9 L277.8,452.7 L279.8,452.5 L281.8,452.4 L283.9,452.2 L285.9,452.0 L288.0,451.9 L290.0,451.7 L292.1,451.5 L294.2,451.4 L296.3,451.2 L298.4,451.0 L300.6,450.9 L302.7,450.7 L304.9,450.5 L307.0,450.4 L309.2,450.2 L311.4,450.1 L313.6,449.9 L315.8,449.7 L318.0,449.6 L320.3,449.4 L322.5,449.2 L324.8,449.1 L327.1,448.9 L329.4,448.7 L331.7,448.6 L334.0,448.4 L336.3,448.2 L338.6,448.1 L341.0,447.9 L343.3,447.7 L345.7,447.6 L348.1,447.4 L350.5,447.3 L352.9,447.1 L355.3,446.9 L357.7,446.8 L360.2,446.6 L362.6,446.4 L365.1,446.3 L367.6,446.1 L370.1,445.9 L372.6,445.8 L375.1,445.6 L377.6,445.4 L380.1,445.3 L382.7,445.1 L385.2,444.9 L387.8,444.8 L390.4,444.6 L393.0,444.4 L395.6,444.3 L398.2,444.1 L400.9,444.0 L403.5,443.8 L406.2,443.6 L408.8,443.5 L411.5,443.3 L414.2,443.1 L416.9,443.0 L419.6,442.8 L422.3,442.6 L425.1,442.5 L427.8,442.3 L430.6,442.1 L433.4,442.0 L436.2,441.8 L439.0,441.6 L441.8,441.5 L444.6,441.3 L447.4,441.1 L450.3,441.0 L453.1,440.8 L456.0,440.7 L458.9,440.5 L461.8,440.3 L464.7,440.2 L467.6,440.0 L470.5,439.8 L473.5,439.7 L476.4,439.5 L479.4,439.3 L482.4,439.2 L485.4,439.0 L488.4,438.8 L491.4,438.7 L494.4,438.5 L497.5,438.3 L500.5,438.2 L503.6,438.0 L506.7,437.9 L509.7,437.7 L512.8,437.5 L515.9,437.4 L519.1,437.2 L522.2,437.0 L525.3,436.9 L528.5,436.7 L531.7,436.5 L534.9,436.4 L538.0,436.2 L541.3,436.0 L544.5,435.9 L547.7,435.7 L550.9,435.5 L554.2,435.4 L557.5,435.2 L560.7,435.0 L564.0,434.9 L567.3,434.7 L570.6,434.6 L574.0,434.4 L577.3,434.2 L580.7,434.1 L584.0,433.9 L587.4,433.7 L590.8,433.6 L594.2,433.4 L597.6,433.2 L601.0,433.1 L604.4,432.9 L607.9,432.7 L611.3,432.6 L614.8,432.4 L618.3,432.2 L621.8,432.1 L625.3,431.9 L628.8,431.7 L632.3,431.6 L635.9,431.4 L639.4,431.3 L643.0,431.1 L646.5,430.9" stroke="#ff30ff" stroke-width="1.15" stroke-dasharray="4.2 2.4"/>
<path d="M519.2,474.8 L519.2,474.7 L519.2,474.7 L519.2,474.6 L519.2,474.4 L519.2,474.2 L519.2,474.0 L519.2,473.8 L519.3,473.5 L519.3,473.2 L519.3,472.9 L519.3,472.6 L519.3,472.2 L519.3,471.9 L519.4,471.6 L519.4,471.2 L519.4,470.8 L519.4,470.5 L519.5,470.1 L519.5,469.7 L519.5,469.4 L519.6,469.0 L519.6,468.6 L519.6,468.2 L519.7,467.9 L519.7,467.5 L519.7,467.1 L519.8,466.7 L519.8,466.4 L519.9,466.0 L519.9,465.6 L520.0,465.3 L520.0,464.9 L520.1,464.5 L520.1,464.2 L520.2,463.8 L520.2,463.4 L520.3,463.1 L520.3,462.7 L520.4,462.3 L520.5,462.0 L520.5,461.6 L520.6,461.3 L520.7,460.9 L520.7,460.6 L520.8,460.2 L520.9,459.9 L521.0,459.5 L521.0,459.2 L521.1,458.8 L521.2,458.5 L521.3,458.1 L521.4,457.8 L521.4,457.5 L521.5,457.1 L521.6,456.8 L521.7,456.5 L521.8,456.1 L521.9,455.8 L522.0,455.5 L522.1,455.1 L522.2,454.8 L522.3,454.5 L522.4,454.1 L522.5,453.8 L522.6,453.5 L522.7,453.2 L522.8,452.8 L522.9,452.5 L523.0,452.2 L523.1,451.9 L523.2,451.6 L523.3,451.3 L523.4,450.9 L523.6,450.6 L523.7,450.3 L523.8,450.0 L523.9,449.7 L524.0,449.4 L524.2,449.1 L524.3,448.8 L524.4,448.5 L524.6,448.2 L524.7,447.9 L524.8,447.6 L525.0,447.3 L525.1,447.0 L525.2,446.7 L525.4,446.4 L525.5,446.1 L525.6,445.8 L525.8,445.5 L525.9,445.2 L526.1,444.9 L526.2,444.6 L526.4,444.3 L526.5,444.0 L526.7,443.7 L526.8,443.4 L527.0,443.1 L527.2,442.9 L527.3,442.6 L527.5,442.3 L527.6,442.0 L527.8,441.7 L528.0,441.4 L528.1,441.2 L528.3,440.9 L528.5,440.6 L528.7,440.3 L528.8,440.0 L529.0,439.8 L529.2,439.5 L529.4,439.2 L529.5,438.9 L529.7,438.7 L529.9,438.4 L530.1,438.1 L530.3,437.8 L530.5,437.6 L530.7,437.3 L530.9,437.0 L531.0,436.8 L531.2,436.5 L531.4,436.2 L531.6,436.0 L531.8,435.7 L532.0,435.4 L532.2,435.2 L532.4,434.9 L532.7,434.6 L532.9,434.4 L533.1,434.1 L533.3,433.8 L533.5,433.6 L533.7,433.3 L533.9,433.1 L534.1,432.8 L534.4,432.6 L534.6,432.3 L534.8,432.0 L535.0,431.8 L535.2,431.5 L535.5,431.3 L535.7,431.0 L535.9,430.8 L536.2,430.5 L536.4,430.3 L536.6,430.0 L536.9,429.8 L537.1,429.5 L537.3,429.3 L537.6,429.0 L537.8,428.8 L538.1,428.5 L538.3,428.3 L538.6,428.0 L538.8,427.8 L539.1,427.5 L539.3,427.3 L539.6,427.0 L539.8,426.8 L540.1,426.6 L540.3,426.3 L540.6,426.1 L540.9,425.8 L541.1,425.6 L541.4,425.3 L541.7,425.1 L541.9,424.9 L542.2,424.6 L542.5,424.4 L542.7,424.2 L543.0,423.9 L543.3,423.7 L543.6,423.4 L543.9,423.2 L544.1,423.0 L544.4,422.7 L544.7,422.5 L545.0,422.3 L545.3,422.0 L545.6,421.8 L545.9,421.6 L546.1,421.3 L546.4,421.1 L546.7,420.9 L547.0,420.6 L547.3,420.4 L547.6,420.2 L547.9,420.0 L548.2,419.7 L548.5,419.5 L548.8,419.3 L549.2,419.0 L549.5,418.8 L549.8,418.6 L550.1,418.4 L550.4,418.1 L550.7,417.9 L551.0,417.7 L551.4,417.5 L551.7,417.2 L552.0,417.0 L552.3,416.8 L552.6,416.6 L553.0,416.3 L553.3,416.1 L553.6,415.9 L554.0,415.7 L554.3,415.5 L554.6,415.2 L555.0,415.0 L555.3,414.8 L555.7,414.6 L556.0,414.4 L556.3,414.1 L556.7,413.9 L557.0,413.7 L557.4,413.5 L557.7,413.3 L558.1,413.0 L558.4,412.8 L558.8,412.6 L559.1,412.4 L559.5,412.2 L559.9,412.0 L560.2,411.8 L560.6,411.5 L560.9,411.3 L561.3,411.1 L561.7,410.9 L562.0,410.7 L562.4,410.5 L562.8,410.3 L563.2,410.0 L563.5,409.8 L563.9,409.6 L564.3,409.4 L564.7,409.2 L565.0,409.0 L565.4,408.8 L565.8,408.6 L566.2,408.4 L566.6,408.1 L567.0,407.9 L567.4,407.7 L567.8,407.5 L568.2,407.3 L568.5,407.1 L568.9,406.9 L569.3,406.7 L569.7,406.5 L570.1,406.3 L570.6,406.1 L571.0,405.9 L571.4,405.7 L571.8,405.5 L572.2,405.2 L572.6,405.0 L573.0,404.8 L573.4,404.6 L573.8,404.4 L574.3,404.2 L574.7,404.0 L575.1,403.8 L575.5,403.6 L575.9,403.4 L576.4,403.2 L576.8,403.0 L577.2,402.8 L577.7,402.6 L578.1,402.4 L578.5,402.2 L579.0,402.0 L579.4,401.8 L579.8,401.6 L580.3,401.4 L580.7,401.2 L581.2,401.0 L581.6,400.8 L582.0,400.6 L582.5,400.4 L582.9,400.2 L583.4,400.0 L583.9,399.8 L584.3,399.6 L584.8,399.4 L585.2,399.2 L585.7,399.0 L586.1,398.8 L586.6,398.6 L587.1,398.4 L587.5,398.2 L588.0,398.0 L588.5,397.8 L588.9,397.6 L589.4,397.4 L589.9,397.2 L590.4,397.0 L590.8,396.8 L591.3,396.6 L591.8,396.5 L592.3,396.3 L592.8,396.1 L593.2,395.9 L593.7,395.7 L594.2,395.5 L594.7,395.3 L595.2,395.1 L595.7,394.9 L596.2,394.7 L596.7,394.5 L597.2,394.3 L597.7,394.1 L598.2,393.9 L598.7,393.7 L599.2,393.6 L599.7,393.4 L600.2,393.2 L600.7,393.0 L601.2,392.8 L601.7,392.6 L602.2,392.4 L602.8,392.2 L603.3,392.0 L603.8,391.8 L604.3,391.6 L604.8,391.5 L605.4,391.3 L605.9,391.1 L606.4,390.9 L606.9,390.7 L607.5,390.5 L608.0,390.3 L608.5,390.1 L609.1,389.9 L609.6,389.7 L610.1,389.6 L610.7,389.4 L611.2,389.2 L611.8,389.0 L612.3,388.8 L612.8,388.6 L613.4,388.4 L613.9,388.2 L614.5,388.1 L615.0,387.9 L615.6,387.7 L616.1,387.5 L616.7,387.3 L617.3,387.1 L617.8,386.9 L618.4,386.7 L618.9,386.6 L619.5,386.4 L620.1,386.2 L620.6,386.0 L621.2,385.8 L621.8,385.6 L622.4,385.4 L622.9,385.3 L623.5,385.1 L624.1,384.9 L624.7,384.7 L625.2,384.5 L625.8,384.3 L626.4,384.2 L627.0,384.0 L627.6,383.8 L628.2,383.6 L628.8,383.4 L629.3,383.2 L629.9,383.0 L630.5,382.9 L631.1,382.7 L631.7,382.5 L632.3,382.3 L632.9,382.1 L633.5,382.0 L634.1,381.8 L634.7,381.6 L635.3,381.4 L636.0,381.2 L636.6,381.0 L637.2,380.9 L637.8,380.7 L638.4,380.5 L639.0,380.3 L639.6,380.1 L640.3,379.9 L640.9,379.8 L641.5,379.6 L642.1,379.4 L642.8,379.2 L643.4,379.0 L644.0,378.9 L644.6,378.7 L645.3,378.5 L645.9,378.3 L646.5,378.1" stroke="#00ffff" stroke-width="2.1"/>
<path d="M111.9,474.9 L111.9,474.9 L111.9,474.9 L111.9,474.9 L111.9,474.9 L111.9,474.9 L112.0,474.8 L112.0,474.8 L112.0,474.8 L112.1,474.7 L112.1,474.7 L112.2,474.6 L112.2,474.6 L112.3,474.5 L112.4,474.4 L112.4,474.4 L112.5,474.3 L112.6,474.2 L112.7,474.1 L112.8,474.1 L112.9,474.0 L113.0,473.9 L113.1,473.8 L113.2,473.7 L113.3,473.6 L113.4,473.5 L113.6,473.4 L113.7,473.3 L113.8,473.2 L114.0,473.0 L114.1,472.9 L114.3,472.8 L114.4,472.7 L114.6,472.6 L114.7,472.5 L114.9,472.3 L115.1,472.2 L115.3,472.1 L115.5,472.0 L115.6,471.8 L115.8,471.7 L116.0,471.6 L116.2,471.4 L116.5,471.3 L116.7,471.2 L116.9,471.0 L117.1,470.9 L117.3,470.7 L117.6,470.6 L117.8,470.5 L118.1,470.3 L118.3,470.2 L118.6,470.0 L118.8,469.9 L119.1,469.7 L119.4,469.6 L119.6,469.4 L119.9,469.3 L120.2,469.2 L120.5,469.0 L120.8,468.9 L121.1,468.7 L121.4,468.6 L121.7,468.4 L122.0,468.3 L122.3,468.1 L122.7,468.0 L123.0,467.8 L123.3,467.6 L123.7,467.5 L124.0,467.3 L124.3,467.2 L124.7,467.0 L125.1,466.9 L125.4,466.7 L125.8,466.6 L126.2,466.4 L126.5,466.3 L126.9,466.1 L127.3,465.9 L127.7,465.8 L128.1,465.6 L128.5,465.5 L128.9,465.3 L129.3,465.2 L129.8,465.0 L130.2,464.8 L130.6,464.7 L131.0,464.5 L131.5,464.4 L131.9,464.2 L132.4,464.0 L132.8,463.9 L133.3,463.7 L133.7,463.6 L134.2,463.4 L134.7,463.2 L135.2,463.1 L135.6,462.9 L136.1,462.8 L136.6,462.6 L137.1,462.4 L137.6,462.3 L138.1,462.1 L138.6,462.0 L139.2,461.8 L139.7,461.6 L140.2,461.5 L140.7,461.3 L141.3,461.1 L141.8,461.0 L142.4,460.8 L142.9,460.7 L143.5,460.5 L144.0,460.3 L144.6,460.2 L145.2,460.0 L145.7,459.8 L146.3,459.7 L146.9,459.5 L147.5,459.3 L148.1,459.2 L148.7,459.0 L149.3,458.9 L149.9,458.7 L150.5,458.5 L151.2,458.4 L151.8,458.2 L152.4,458.0 L153.0,457.9 L153.7,457.7 L154.3,457.5 L155.0,457.4 L155.6,457.2 L156.3,457.0 L157.0,456.9 L157.6,456.7 L158.3,456.6 L159.0,456.4 L159.7,456.2 L160.4,456.1 L161.1,455.9 L161.8,455.7 L162.5,455.6 L163.2,455.4 L163.9,455.2 L164.6,455.1 L165.3,454.9 L166.1,454.7 L166.8,454.6 L167.5,454.4 L168.3,454.2 L169.0,454.1 L169.8,453.9 L170.5,453.7 L171.3,453.6 L172.1,453.4 L172.9,453.2 L173.6,453.1 L174.4,452.9 L175.2,452.7 L176.0,452.6 L176.8,452.4 L177.6,452.2 L178.4,452.1 L179.2,451.9 L180.0,451.8 L180.9,451.6 L181.7,451.4 L182.5,451.3 L183.4,451.1 L184.2,450.9 L185.1,450.8 L185.9,450.6 L186.8,450.4 L187.6,450.3 L188.5,450.1 L189.4,449.9 L190.3,449.8 L191.1,449.6 L192.0,449.4 L192.9,449.3 L193.8,449.1 L194.7,448.9 L195.6,448.8 L196.5,448.6 L197.5,448.4 L198.4,448.3 L199.3,448.1 L200.2,447.9 L201.2,447.8 L202.1,447.6 L203.1,447.4 L204.0,447.2 L205.0,447.1 L205.9,446.9 L206.9,446.7 L207.9,446.6 L208.9,446.4 L209.8,446.2 L210.8,446.1 L211.8,445.9 L212.8,445.7 L213.8,445.6 L214.8,445.4 L215.8,445.2 L216.9,445.1 L217.9,444.9 L218.9,444.7 L219.9,444.6 L221.0,444.4 L222.0,444.2 L223.1,444.1 L224.1,443.9 L225.2,443.7 L226.2,443.6 L227.3,443.4 L228.4,443.2 L229.4,443.1 L230.5,442.9 L231.6,442.7 L232.7,442.6 L233.8,442.4 L234.9,442.2 L236.0,442.1 L237.1,441.9 L238.2,441.7 L239.3,441.6 L240.5,441.4 L241.6,441.2 L242.7,441.1 L243.9,440.9 L245.0,440.7 L246.2,440.5 L247.3,440.4 L248.5,440.2 L249.7,440.0 L250.8,439.9 L252.0,439.7 L253.2,439.5 L254.4,439.4 L255.6,439.2 L256.8,439.0 L258.0,438.9 L259.2,438.7 L260.4,438.5 L261.6,438.4 L262.8,438.2 L264.0,438.0 L265.3,437.9 L266.5,437.7 L267.7,437.5 L269.0,437.4 L270.2,437.2 L271.5,437.0 L272.7,436.9 L274.0,436.7 L275.3,436.5 L276.5,436.4 L277.8,436.2 L279.1,436.0 L280.4,435.8 L281.7,435.7 L283.0,435.5 L284.3,435.3 L285.6,435.2 L286.9,435.0 L288.2,434.8 L289.6,434.7 L290.9,434.5 L292.2,434.3 L293.6,434.2 L294.9,434.0 L296.2,433.8 L297.6,433.7 L299.0,433.5 L300.3,433.3 L301.7,433.2 L303.1,433.0 L304.4,432.8 L305.8,432.7 L307.2,432.5 L308.6,432.3 L310.0,432.1 L311.4,432.0 L312.8,431.8 L314.2,431.6 L315.6,431.5 L317.1,431.3 L318.5,431.1 L319.9,431.0 L321.4,430.8 L322.8,430.6 L324.2,430.5 L325.7,430.3 L327.2,430.1 L328.6,430.0 L330.1,429.8 L331.6,429.6 L333.0,429.5 L334.5,429.3" stroke="#00ffff" stroke-width="1.75" stroke-dasharray="15 3.2 1.6 3.2" stroke-dashoffset="5"/>
</g>
<path d="M145.4,351.8h4.4v4.4h-4.4zM153.2,351.8h4.4v4.4h-4.4zM136.5,369.2h4.4v4.4h-4.4zM129.6,390.3h4.4v4.4h-4.4zM137.8,390.3h4.4v4.4h-4.4zM162.9,390.3h4.4v4.4h-4.4zM112.7,390.3h4.4v4.4h-4.4zM108.6,390.3h4.4v4.4h-4.4zM112.1,395.2h4.4v4.4h-4.4zM112.1,406.1h4.4v4.4h-4.4zM116.2,416.6h4.4v4.4h-4.4zM122.6,416.2h4.4v4.4h-4.4zM129.0,416.0h4.4v4.4h-4.4zM163.7,416.6h4.4v4.4h-4.4zM172.2,417.5h4.4v4.4h-4.4zM151.8,420.7h4.4v4.4h-4.4zM115.0,424.2h4.4v4.4h-4.4zM119.1,424.2h4.4v4.4h-4.4zM126.7,425.9h4.4v4.4h-4.4zM110.3,424.2h4.4v4.4h-4.4zM111.5,414.3h4.4v4.4h-4.4zM108.0,395.2h4.4v4.4h-4.4zM118.7,439.7h4.4v4.4h-4.4zM151.2,439.7h4.4v4.4h-4.4zM128.4,451.2h4.4v4.4h-4.4zM133.1,451.2h4.4v4.4h-4.4zM137.8,451.2h4.4v4.4h-4.4zM106.6,458.4h4.4v4.4h-4.4zM109.7,458.4h4.4v4.4h-4.4zM112.7,458.4h4.4v4.4h-4.4zM122.6,458.4h4.4v4.4h-4.4zM111.5,466.0h4.4v4.4h-4.4zM111.5,428.6h4.4v4.4h-4.4zM111.5,434.5h4.4v4.4h-4.4zM204.3,443.4h4.4v4.4h-4.4zM313.3,423.3h4.4v4.4h-4.4zM364.1,241.7h4.4v4.4h-4.4zM382.8,241.9h4.4v4.4h-4.4zM384.5,241.9h4.4v4.4h-4.4zM386.3,241.9h4.4v4.4h-4.4zM388.0,241.9h4.4v4.4h-4.4zM401.4,241.1h4.4v4.4h-4.4zM406.7,241.1h4.4v4.4h-4.4zM412.5,241.7h4.4v4.4h-4.4zM353.0,247.5h4.4v4.4h-4.4zM360.6,247.5h4.4v4.4h-4.4zM362.9,247.5h4.4v4.4h-4.4zM371.7,247.5h4.4v4.4h-4.4zM374.0,247.5h4.4v4.4h-4.4zM381.0,247.5h4.4v4.4h-4.4zM386.9,247.5h4.4v4.4h-4.4zM389.2,247.5h4.4v4.4h-4.4zM397.4,247.5h4.4v4.4h-4.4zM407.9,247.5h4.4v4.4h-4.4zM414.9,247.5h4.4v4.4h-4.4zM356.5,250.4h4.4v4.4h-4.4zM358.8,250.4h4.4v4.4h-4.4zM364.7,250.4h4.4v4.4h-4.4zM370.5,250.4h4.4v4.4h-4.4zM376.9,250.4h4.4v4.4h-4.4zM381.0,250.4h4.4v4.4h-4.4zM392.7,250.4h4.4v4.4h-4.4zM397.4,250.4h4.4v4.4h-4.4zM402.0,250.4h4.4v4.4h-4.4zM412.5,250.4h4.4v4.4h-4.4zM416.0,250.4h4.4v4.4h-4.4zM347.1,262.7h4.4v4.4h-4.4zM351.2,262.7h4.4v4.4h-4.4zM365.8,262.7h4.4v4.4h-4.4zM374.0,260.4h4.4v4.4h-4.4zM377.5,260.4h4.4v4.4h-4.4zM389.8,260.4h4.4v4.4h-4.4zM410.0,265.8h4.4v4.4h-4.4zM424.2,242.0h4.4v4.4h-4.4zM426.6,242.0h4.4v4.4h-4.4zM428.3,242.0h4.4v4.4h-4.4zM435.3,242.0h4.4v4.4h-4.4zM437.7,242.0h4.4v4.4h-4.4zM440.0,242.0h4.4v4.4h-4.4zM442.3,242.0h4.4v4.4h-4.4zM453.4,242.0h4.4v4.4h-4.4zM464.5,242.0h4.4v4.4h-4.4zM466.9,242.0h4.4v4.4h-4.4zM469.2,242.0h4.4v4.4h-4.4zM471.5,242.0h4.4v4.4h-4.4zM473.9,242.0h4.4v4.4h-4.4zM435.3,247.5h4.4v4.4h-4.4zM455.2,247.5h4.4v4.4h-4.4zM460.4,247.5h4.4v4.4h-4.4zM465.7,247.5h4.4v4.4h-4.4zM468.6,247.5h4.4v4.4h-4.4zM479.7,247.5h4.4v4.4h-4.4zM489.3,247.5h4.4v4.4h-4.4zM428.3,250.4h4.4v4.4h-4.4zM431.6,250.4h4.4v4.4h-4.4zM466.3,250.4h4.4v4.4h-4.4zM470.9,250.4h4.4v4.4h-4.4zM460.4,260.1h4.4v4.4h-4.4zM459.8,265.8h4.4v4.4h-4.4zM512.0,247.5h4.4v4.4h-4.4zM531.1,247.3h4.4v4.4h-4.4zM531.7,250.4h4.4v4.4h-4.4zM550.4,247.3h4.4v4.4h-4.4zM363.7,269.6h4.4v4.4h-4.4zM358.8,269.6h4.4v4.4h-4.4zM353.0,269.0h4.4v4.4h-4.4zM369.3,274.2h4.4v4.4h-4.4zM362.3,275.4h4.4v4.4h-4.4zM393.3,275.0h4.4v4.4h-4.4zM374.6,279.5h4.4v4.4h-4.4zM384.5,279.5h4.4v4.4h-4.4zM386.3,279.5h4.4v4.4h-4.4zM410.0,279.5h4.4v4.4h-4.4zM353.0,282.4h4.4v4.4h-4.4zM351.8,286.5h4.4v4.4h-4.4zM362.9,286.5h4.4v4.4h-4.4zM386.9,286.5h4.4v4.4h-4.4zM445.8,279.1h4.4v4.4h-4.4zM468.2,279.1h4.4v4.4h-4.4zM476.8,278.4h4.4v4.4h-4.4zM480.3,275.6h4.4v4.4h-4.4zM500.3,297.1h4.4v4.4h-4.4zM532.8,292.8h4.4v4.4h-4.4zM494.8,305.3h4.4v4.4h-4.4zM492.8,307.8h4.4v4.4h-4.4zM520.3,308.3h4.4v4.4h-4.4zM523.3,310.3h4.4v4.4h-4.4zM562.8,304.8h4.4v4.4h-4.4zM535.3,317.8h4.4v4.4h-4.4zM542.3,317.8h4.4v4.4h-4.4zM492.8,317.8h4.4v4.4h-4.4zM514.8,323.3h4.4v4.4h-4.4zM512.3,325.3h4.4v4.4h-4.4zM564.3,324.8h4.4v4.4h-4.4zM510.8,329.8h4.4v4.4h-4.4zM536.0,329.1h4.4v4.4h-4.4zM492.8,327.8h4.4v4.4h-4.4zM571.0,334.8h4.4v4.4h-4.4zM496.6,342.3h4.4v4.4h-4.4zM492.8,350.3h4.4v4.4h-4.4zM494.8,352.8h4.4v4.4h-4.4zM497.8,355.3h4.4v4.4h-4.4zM494.8,359.8h4.4v4.4h-4.4zM522.8,355.3h4.4v4.4h-4.4zM524.8,355.3h4.4v4.4h-4.4zM526.5,355.3h4.4v4.4h-4.4zM530.3,355.3h4.4v4.4h-4.4zM542.3,359.8h4.4v4.4h-4.4zM559.8,355.3h4.4v4.4h-4.4zM527.8,366.6h4.4v4.4h-4.4zM532.3,374.1h4.4v4.4h-4.4zM520.3,377.8h4.4v4.4h-4.4zM531.0,378.3h4.4v4.4h-4.4zM562.3,378.3h4.4v4.4h-4.4zM563.3,382.3h4.4v4.4h-4.4zM492.8,375.3h4.4v4.4h-4.4zM492.8,380.3h4.4v4.4h-4.4zM505.8,390.3h4.4v4.4h-4.4zM515.3,390.3h4.4v4.4h-4.4zM517.8,390.3h4.4v4.4h-4.4zM492.8,387.8h4.4v4.4h-4.4zM573.3,392.3h4.4v4.4h-4.4zM537.3,397.3h4.4v4.4h-4.4zM508.3,399.6h4.4v4.4h-4.4zM516.5,399.6h4.4v4.4h-4.4zM560.3,399.1h4.4v4.4h-4.4zM342.2,390.3h4.4v4.4h-4.4zM372.5,389.8h4.4v4.4h-4.4zM398.6,392.8h4.4v4.4h-4.4zM404.8,390.8h4.4v4.4h-4.4zM412.2,392.8h4.4v4.4h-4.4zM417.2,392.3h4.4v4.4h-4.4zM456.9,392.8h4.4v4.4h-4.4zM439.5,397.0h4.4v4.4h-4.4zM442.0,397.0h4.4v4.4h-4.4zM463.6,399.0h4.4v4.4h-4.4zM474.2,399.0h4.4v4.4h-4.4zM486.1,399.0h4.4v4.4h-4.4zM377.5,407.7h4.4v4.4h-4.4zM382.4,407.7h4.4v4.4h-4.4zM386.1,408.9h4.4v4.4h-4.4zM417.2,408.9h4.4v4.4h-4.4zM423.4,408.9h4.4v4.4h-4.4zM424.6,411.4h4.4v4.4h-4.4zM442.5,407.7h4.4v4.4h-4.4zM468.5,406.4h4.4v4.4h-4.4zM464.3,408.9h4.4v4.4h-4.4zM376.2,412.6h4.4v4.4h-4.4zM398.6,419.3h4.4v4.4h-4.4zM401.0,420.1h4.4v4.4h-4.4zM407.2,422.5h4.4v4.4h-4.4zM429.6,418.8h4.4v4.4h-4.4zM445.7,418.8h4.4v4.4h-4.4zM448.2,417.6h4.4v4.4h-4.4zM451.4,419.3h4.4v4.4h-4.4zM489.9,418.8h4.4v4.4h-4.4zM468.8,424.3h4.4v4.4h-4.4zM481.7,426.3h4.4v4.4h-4.4zM484.2,426.3h4.4v4.4h-4.4zM413.4,426.8h4.4v4.4h-4.4zM372.5,432.0h4.4v4.4h-4.4zM383.7,433.7h4.4v4.4h-4.4zM425.1,433.2h4.4v4.4h-4.4zM432.6,433.7h4.4v4.4h-4.4zM445.2,433.7h4.4v4.4h-4.4zM478.0,432.0h4.4v4.4h-4.4zM499.5,434.5h4.4v4.4h-4.4zM375.0,439.4h4.4v4.4h-4.4zM392.4,444.9h4.4v4.4h-4.4zM394.3,448.6h4.4v4.4h-4.4zM392.4,451.1h4.4v4.4h-4.4zM415.4,455.3h4.4v4.4h-4.4zM361.3,461.7h4.4v4.4h-4.4zM366.3,462.2h4.4v4.4h-4.4zM368.8,462.2h4.4v4.4h-4.4zM391.1,461.7h4.4v4.4h-4.4zM393.6,463.5h4.4v4.4h-4.4zM419.6,462.2h4.4v4.4h-4.4zM432.1,462.7h4.4v4.4h-4.4zM434.5,462.2h4.4v4.4h-4.4zM475.0,462.2h4.4v4.4h-4.4zM366.3,467.2h4.4v4.4h-4.4zM370.0,467.2h4.4v4.4h-4.4zM509.7,410.6h4.4v4.4h-4.4zM524.3,410.6h4.4v4.4h-4.4zM494.0,415.6h4.4v4.4h-4.4zM515.1,440.7h4.4v4.4h-4.4zM355.6,346.0h4.4v4.4h-4.4zM421.8,348.9h4.4v4.4h-4.4zM384.3,307.3h4.4v4.4h-4.4zM369.7,343.1h4.4v4.4h-4.4zM399.7,343.0h4.4v4.4h-4.4zM356.6,370.3h4.4v4.4h-4.4zM421.3,313.1h4.4v4.4h-4.4zM388.8,334.4h4.4v4.4h-4.4zM373.4,313.0h4.4v4.4h-4.4zM458.6,342.8h4.4v4.4h-4.4zM400.5,312.8h4.4v4.4h-4.4zM461.3,310.2h4.4v4.4h-4.4zM421.2,370.2h4.4v4.4h-4.4zM398.8,378.9h4.4v4.4h-4.4zM351.0,354.9h4.4v4.4h-4.4zM487.8,336.8h4.4v4.4h-4.4zM378.9,343.1h4.4v4.4h-4.4zM473.6,304.2h4.4v4.4h-4.4zM459.5,297.8h4.4v4.4h-4.4zM398.0,310.3h4.4v4.4h-4.4zM362.6,319.2h4.4v4.4h-4.4zM357.7,393.8h4.4v4.4h-4.4zM381.5,310.6h4.4v4.4h-4.4zM352.0,388.2h4.4v4.4h-4.4zM359.5,319.4h4.4v4.4h-4.4zM368.5,355.2h4.4v4.4h-4.4zM389.7,357.9h4.4v4.4h-4.4zM491.7,331.1h4.4v4.4h-4.4zM427.0,316.4h4.4v4.4h-4.4zM440.0,361.1h4.4v4.4h-4.4zM393.9,297.4h4.4v4.4h-4.4zM360.4,373.3h4.4v4.4h-4.4zM453.0,313.3h4.4v4.4h-4.4zM473.7,288.6h4.4v4.4h-4.4zM486.7,366.8h4.4v4.4h-4.4zM351.2,373.3h4.4v4.4h-4.4zM367.7,385.0h4.4v4.4h-4.4zM385.4,369.9h4.4v4.4h-4.4zM419.8,363.7h4.4v4.4h-4.4zM429.5,316.3h4.4v4.4h-4.4zM417.5,337.2h4.4v4.4h-4.4zM464.1,289.2h4.4v4.4h-4.4zM462.1,298.0h4.4v4.4h-4.4zM347.0,349.1h4.4v4.4h-4.4zM473.6,315.8h4.4v4.4h-4.4zM355.2,309.8h4.4v4.4h-4.4zM376.1,339.9h4.4v4.4h-4.4zM454.0,310.1h4.4v4.4h-4.4zM376.4,348.8h4.4v4.4h-4.4zM384.2,358.2h4.4v4.4h-4.4zM378.3,334.2h4.4v4.4h-4.4zM386.1,337.2h4.4v4.4h-4.4zM426.3,361.5h4.4v4.4h-4.4zM381.7,337.4h4.4v4.4h-4.4zM354.4,355.0h4.4v4.4h-4.4zM454.0,328.1h4.4v4.4h-4.4zM470.4,334.3h4.4v4.4h-4.4zM419.8,333.8h4.4v4.4h-4.4zM405.8,334.1h4.4v4.4h-4.4zM434.0,327.9h4.4v4.4h-4.4zM458.1,307.2h4.4v4.4h-4.4zM359.8,366.7h4.4v4.4h-4.4zM432.2,292.3h4.4v4.4h-4.4zM481.9,361.0h4.4v4.4h-4.4zM380.2,381.8h4.4v4.4h-4.4zM415.7,316.0h4.4v4.4h-4.4zM439.8,315.9h4.4v4.4h-4.4zM390.7,358.2h4.4v4.4h-4.4zM367.0,328.1h4.4v4.4h-4.4zM414.9,295.3h4.4v4.4h-4.4zM371.7,289.2h4.4v4.4h-4.4zM362.6,358.0h4.4v4.4h-4.4zM359.0,361.0h4.4v4.4h-4.4zM372.4,388.0h4.4v4.4h-4.4zM432.1,307.3h4.4v4.4h-4.4zM452.6,292.2h4.4v4.4h-4.4zM357.0,292.3h4.4v4.4h-4.4zM366.8,376.0h4.4v4.4h-4.4zM433.6,319.0h4.4v4.4h-4.4zM462.6,343.1h4.4v4.4h-4.4zM366.0,354.9h4.4v4.4h-4.4zM369.2,322.2h4.4v4.4h-4.4zM484.4,319.2h4.4v4.4h-4.4zM380.4,397.2h4.4v4.4h-4.4zM398.6,369.6h4.4v4.4h-4.4zM470.0,340.3h4.4v4.4h-4.4zM389.3,315.8h4.4v4.4h-4.4zM349.1,288.9h4.4v4.4h-4.4zM367.8,342.8h4.4v4.4h-4.4zM431.7,360.9h4.4v4.4h-4.4zM491.9,297.8h4.4v4.4h-4.4zM391.0,379.2h4.4v4.4h-4.4zM352.8,370.1h4.4v4.4h-4.4zM431.7,316.2h4.4v4.4h-4.4zM411.8,361.2h4.4v4.4h-4.4zM469.2,352.0h4.4v4.4h-4.4zM405.3,355.0h4.4v4.4h-4.4zM444.1,313.1h4.4v4.4h-4.4zM487.6,316.3h4.4v4.4h-4.4zM470.2,298.3h4.4v4.4h-4.4zM382.1,355.1h4.4v4.4h-4.4zM418.8,355.2h4.4v4.4h-4.4zM369.3,291.8h4.4v4.4h-4.4zM370.4,355.3h4.4v4.4h-4.4zM370.9,397.1h4.4v4.4h-4.4zM454.0,361.1h4.4v4.4h-4.4zM461.2,300.9h4.4v4.4h-4.4zM355.4,367.1h4.4v4.4h-4.4zM378.7,339.7h4.4v4.4h-4.4zM355.5,370.6h4.4v4.4h-4.4zM426.3,309.9h4.4v4.4h-4.4zM374.0,373.0h4.4v4.4h-4.4zM360.0,354.8h4.4v4.4h-4.4zM408.4,370.2h4.4v4.4h-4.4zM402.2,306.8h4.4v4.4h-4.4zM395.3,367.3h4.4v4.4h-4.4zM427.9,292.1h4.4v4.4h-4.4zM470.2,292.2h4.4v4.4h-4.4zM349.5,355.4h4.4v4.4h-4.4zM442.4,378.8h4.4v4.4h-4.4zM408.2,319.2h4.4v4.4h-4.4zM429.6,358.1h4.4v4.4h-4.4zM380.3,345.8h4.4v4.4h-4.4zM363.3,313.0h4.4v4.4h-4.4zM418.6,376.1h4.4v4.4h-4.4zM422.2,337.2h4.4v4.4h-4.4zM370.4,322.2h4.4v4.4h-4.4zM437.9,328.0h4.4v4.4h-4.4zM408.9,376.0h4.4v4.4h-4.4zM387.0,360.9h4.4v4.4h-4.4zM408.9,301.1h4.4v4.4h-4.4zM425.7,378.9h4.4v4.4h-4.4zM348.7,373.2h4.4v4.4h-4.4zM375.0,397.4h4.4v4.4h-4.4zM427.4,331.1h4.4v4.4h-4.4zM383.8,310.2h4.4v4.4h-4.4zM447.1,325.0h4.4v4.4h-4.4zM366.1,336.7h4.4v4.4h-4.4zM400.1,370.3h4.4v4.4h-4.4zM387.6,373.3h4.4v4.4h-4.4zM395.3,360.9h4.4v4.4h-4.4zM384.3,382.3h4.4v4.4h-4.4zM364.2,391.2h4.4v4.4h-4.4zM385.3,336.9h4.4v4.4h-4.4zM406.2,373.3h4.4v4.4h-4.4zM428.9,316.1h4.4v4.4h-4.4zM397.2,379.0h4.4v4.4h-4.4zM416.4,373.0h4.4v4.4h-4.4zM401.2,310.0h4.4v4.4h-4.4zM363.9,325.1h4.4v4.4h-4.4zM357.6,288.9h4.4v4.4h-4.4zM431.9,301.0h4.4v4.4h-4.4zM351.0,375.8h4.4v4.4h-4.4zM396.1,309.9h4.4v4.4h-4.4zM430.0,327.8h4.4v4.4h-4.4zM422.2,307.3h4.4v4.4h-4.4zM450.7,307.2h4.4v4.4h-4.4zM392.0,328.0h4.4v4.4h-4.4zM364.1,307.1h4.4v4.4h-4.4zM455.8,300.8h4.4v4.4h-4.4zM355.5,316.1h4.4v4.4h-4.4zM398.4,372.8h4.4v4.4h-4.4zM403.1,370.0h4.4v4.4h-4.4zM364.0,292.2h4.4v4.4h-4.4zM430.5,322.2h4.4v4.4h-4.4zM450.9,379.1h4.4v4.4h-4.4zM369.6,343.2h4.4v4.4h-4.4zM379.5,388.1h4.4v4.4h-4.4zM388.1,343.7h4.4v4.4h-4.4zM393.4,369.9h4.4v4.4h-4.4zM357.0,343.2h4.4v4.4h-4.4zM387.3,367.3h4.4v4.4h-4.4zM444.8,334.0h4.4v4.4h-4.4zM355.3,357.9h4.4v4.4h-4.4zM415.2,319.3h4.4v4.4h-4.4zM445.8,376.6h4.4v4.4h-4.4zM461.0,297.8h4.4v4.4h-4.4zM467.7,340.4h4.4v4.4h-4.4zM381.7,310.2h4.4v4.4h-4.4zM432.8,306.7h4.4v4.4h-4.4zM391.7,292.1h4.4v4.4h-4.4zM457.9,298.3h4.4v4.4h-4.4zM351.8,312.9h4.4v4.4h-4.4zM411.8,301.1h4.4v4.4h-4.4zM379.3,397.2h4.4v4.4h-4.4zM405.0,334.6h4.4v4.4h-4.4zM441.9,369.8h4.4v4.4h-4.4zM449.1,324.9h4.4v4.4h-4.4zM470.3,300.8h4.4v4.4h-4.4zM369.4,364.3h4.4v4.4h-4.4zM402.8,325.0h4.4v4.4h-4.4zM373.7,367.3h4.4v4.4h-4.4zM472.8,297.7h4.4v4.4h-4.4zM400.0,330.8h4.4v4.4h-4.4zM357.5,373.4h4.4v4.4h-4.4zM350.7,355.1h4.4v4.4h-4.4zM424.1,379.4h4.4v4.4h-4.4zM430.4,373.0h4.4v4.4h-4.4zM358.4,379.0h4.4v4.4h-4.4zM354.7,349.2h4.4v4.4h-4.4zM432.1,325.0h4.4v4.4h-4.4zM357.7,355.5h4.4v4.4h-4.4zM378.7,382.2h4.4v4.4h-4.4zM353.1,382.2h4.4v4.4h-4.4zM437.1,349.4h4.4v4.4h-4.4zM361.5,361.3h4.4v4.4h-4.4zM396.9,382.4h4.4v4.4h-4.4zM364.5,343.0h4.4v4.4h-4.4zM371.6,349.0h4.4v4.4h-4.4zM366.0,315.9h4.4v4.4h-4.4zM450.8,313.2h4.4v4.4h-4.4zM382.1,354.8h4.4v4.4h-4.4zM383.9,354.9h4.4v4.4h-4.4zM398.5,379.2h4.4v4.4h-4.4zM457.6,364.1h4.4v4.4h-4.4zM376.9,357.8h4.4v4.4h-4.4zM384.9,382.1h4.4v4.4h-4.4zM360.0,360.9h4.4v4.4h-4.4zM473.1,376.4h4.4v4.4h-4.4zM410.0,355.1h4.4v4.4h-4.4zM400.2,382.1h4.4v4.4h-4.4zM375.4,382.3h4.4v4.4h-4.4zM403.7,391.0h4.4v4.4h-4.4zM368.6,355.0h4.4v4.4h-4.4zM459.7,360.9h4.4v4.4h-4.4zM433.6,378.9h4.4v4.4h-4.4zM492.1,309.9h4.4v4.4h-4.4zM386.0,373.2h4.4v4.4h-4.4zM400.2,393.8h4.4v4.4h-4.4zM388.0,313.1h4.4v4.4h-4.4zM473.4,325.0h4.4v4.4h-4.4zM363.5,312.9h4.4v4.4h-4.4zM468.9,348.9h4.4v4.4h-4.4zM356.3,357.8h4.4v4.4h-4.4zM415.5,325.2h4.4v4.4h-4.4zM424.7,337.4h4.4v4.4h-4.4zM404.8,379.2h4.4v4.4h-4.4zM353.3,388.1h4.4v4.4h-4.4zM453.6,336.9h4.4v4.4h-4.4zM418.0,303.9h4.4v4.4h-4.4zM422.7,358.3h4.4v4.4h-4.4zM390.7,334.1h4.4v4.4h-4.4zM362.1,327.6h4.4v4.4h-4.4zM453.5,316.2h4.4v4.4h-4.4zM427.0,361.3h4.4v4.4h-4.4zM348.9,315.4h4.4v4.4h-4.4zM384.3,316.0h4.4v4.4h-4.4zM392.7,295.0h4.4v4.4h-4.4zM388.1,372.8h4.4v4.4h-4.4zM414.0,370.4h4.4v4.4h-4.4zM445.3,352.1h4.4v4.4h-4.4zM467.0,319.3h4.4v4.4h-4.4zM376.1,312.6h4.4v4.4h-4.4zM354.4,361.0h4.4v4.4h-4.4zM413.0,301.2h4.4v4.4h-4.4zM373.0,313.1h4.4v4.4h-4.4zM401.3,340.1h4.4v4.4h-4.4zM378.9,298.5h4.4v4.4h-4.4zM457.2,297.9h4.4v4.4h-4.4zM364.9,397.1h4.4v4.4h-4.4zM368.7,378.8h4.4v4.4h-4.4zM374.2,312.8h4.4v4.4h-4.4zM379.6,292.0h4.4v4.4h-4.4zM371.3,382.1h4.4v4.4h-4.4zM434.6,387.9h4.4v4.4h-4.4zM435.3,378.8h4.4v4.4h-4.4zM385.4,316.3h4.4v4.4h-4.4zM441.1,339.7h4.4v4.4h-4.4zM418.6,364.4h4.4v4.4h-4.4zM382.0,337.0h4.4v4.4h-4.4zM447.0,373.1h4.4v4.4h-4.4zM373.3,343.1h4.4v4.4h-4.4zM456.4,319.0h4.4v4.4h-4.4zM381.5,318.5h4.4v4.4h-4.4zM425.7,325.1h4.4v4.4h-4.4zM371.3,297.8h4.4v4.4h-4.4zM361.0,355.1h4.4v4.4h-4.4zM360.9,361.0h4.4v4.4h-4.4zM434.8,300.8h4.4v4.4h-4.4zM456.2,291.9h4.4v4.4h-4.4zM443.4,364.0h4.4v4.4h-4.4zM386.2,307.4h4.4v4.4h-4.4zM455.7,294.9h4.4v4.4h-4.4zM388.9,292.0h4.4v4.4h-4.4zM463.2,337.1h4.4v4.4h-4.4zM390.3,373.2h4.4v4.4h-4.4zM371.6,349.1h4.4v4.4h-4.4zM397.8,301.6h4.4v4.4h-4.4zM386.0,370.4h4.4v4.4h-4.4zM390.4,339.7h4.4v4.4h-4.4zM384.2,316.1h4.4v4.4h-4.4zM372.9,370.2h4.4v4.4h-4.4zM470.5,319.0h4.4v4.4h-4.4zM404.3,382.3h4.4v4.4h-4.4zM381.1,294.8h4.4v4.4h-4.4zM419.9,333.9h4.4v4.4h-4.4zM401.5,328.1h4.4v4.4h-4.4zM436.0,336.9h4.4v4.4h-4.4zM425.9,379.1h4.4v4.4h-4.4zM459.8,316.3h4.4v4.4h-4.4zM357.3,375.7h4.4v4.4h-4.4zM397.5,373.2h4.4v4.4h-4.4zM408.7,358.2h4.4v4.4h-4.4zM394.5,343.3h4.4v4.4h-4.4zM347.8,382.3h4.4v4.4h-4.4zM350.8,325.1h4.4v4.4h-4.4zM428.2,319.0h4.4v4.4h-4.4zM376.0,294.9h4.4v4.4h-4.4zM355.5,319.3h4.4v4.4h-4.4zM486.0,297.9h4.4v4.4h-4.4zM460.6,355.1h4.4v4.4h-4.4zM453.8,358.2h4.4v4.4h-4.4zM351.9,337.3h4.4v4.4h-4.4zM347.5,378.9h4.4v4.4h-4.4zM362.3,319.0h4.4v4.4h-4.4zM354.9,397.0h4.4v4.4h-4.4zM443.0,331.0h4.4v4.4h-4.4zM367.4,379.2h4.4v4.4h-4.4zM397.6,307.0h4.4v4.4h-4.4zM442.1,348.9h4.4v4.4h-4.4zM416.8,379.0h4.4v4.4h-4.4zM408.0,307.2h4.4v4.4h-4.4zM394.2,291.8h4.4v4.4h-4.4zM392.1,397.7h4.4v4.4h-4.4zM348.3,349.2h4.4v4.4h-4.4zM347.1,295.3h4.4v4.4h-4.4zM395.6,397.4h4.4v4.4h-4.4zM363.5,370.2h4.4v4.4h-4.4zM445.5,307.2h4.4v4.4h-4.4zM368.2,307.2h4.4v4.4h-4.4zM371.0,343.0h4.4v4.4h-4.4zM355.6,334.4h4.4v4.4h-4.4zM471.2,315.9h4.4v4.4h-4.4zM396.9,297.9h4.4v4.4h-4.4zM353.7,301.0h4.4v4.4h-4.4zM423.9,306.8h4.4v4.4h-4.4zM376.8,298.0h4.4v4.4h-4.4zM380.4,333.9h4.4v4.4h-4.4zM357.4,348.8h4.4v4.4h-4.4zM376.1,364.1h4.4v4.4h-4.4zM353.6,367.3h4.4v4.4h-4.4zM388.6,397.1h4.4v4.4h-4.4zM455.0,301.2h4.4v4.4h-4.4zM422.7,343.2h4.4v4.4h-4.4zM424.9,316.0h4.4v4.4h-4.4zM448.9,357.9h4.4v4.4h-4.4zM413.1,334.1h4.4v4.4h-4.4zM411.3,309.8h4.4v4.4h-4.4zM461.7,325.3h4.4v4.4h-4.4zM382.0,355.0h4.4v4.4h-4.4zM395.9,361.1h4.4v4.4h-4.4zM496.7,298.1h4.4v4.4h-4.4zM360.9,297.9h4.4v4.4h-4.4zM397.5,358.0h4.4v4.4h-4.4zM415.8,382.2h4.4v4.4h-4.4zM449.8,364.1h4.4v4.4h-4.4zM372.9,361.3h4.4v4.4h-4.4zM372.7,346.3h4.4v4.4h-4.4zM429.3,357.7h4.4v4.4h-4.4zM470.9,361.3h4.4v4.4h-4.4zM356.8,295.0h4.4v4.4h-4.4zM350.8,372.7h4.4v4.4h-4.4zM361.0,318.9h4.4v4.4h-4.4zM412.7,364.0h4.4v4.4h-4.4zM405.4,303.8h4.4v4.4h-4.4zM379.7,376.4h4.4v4.4h-4.4zM433.3,360.9h4.4v4.4h-4.4zM359.8,343.2h4.4v4.4h-4.4zM402.9,376.3h4.4v4.4h-4.4zM363.1,366.4h4.4v4.4h-4.4zM352.3,373.1h4.4v4.4h-4.4zM408.4,361.0h4.4v4.4h-4.4zM383.8,349.5h4.4v4.4h-4.4zM348.8,357.8h4.4v4.4h-4.4zM366.6,321.9h4.4v4.4h-4.4zM373.9,331.1h4.4v4.4h-4.4zM406.2,372.7h4.4v4.4h-4.4zM377.5,336.9h4.4v4.4h-4.4zM425.2,336.9h4.4v4.4h-4.4zM454.1,295.0h4.4v4.4h-4.4zM349.2,304.1h4.4v4.4h-4.4zM367.5,379.2h4.4v4.4h-4.4zM408.4,355.0h4.4v4.4h-4.4zM389.3,355.2h4.4v4.4h-4.4zM359.7,378.9h4.4v4.4h-4.4zM385.9,358.3h4.4v4.4h-4.4zM361.3,361.1h4.4v4.4h-4.4zM432.6,313.1h4.4v4.4h-4.4zM392.5,319.0h4.4v4.4h-4.4zM422.9,316.6h4.4v4.4h-4.4zM496.2,388.0h4.4v4.4h-4.4zM432.4,325.0h4.4v4.4h-4.4zM397.1,367.4h4.4v4.4h-4.4zM414.1,339.9h4.4v4.4h-4.4zM493.5,306.8h4.4v4.4h-4.4zM423.1,324.6h4.4v4.4h-4.4zM356.7,349.3h4.4v4.4h-4.4zM427.3,367.1h4.4v4.4h-4.4zM356.5,325.0h4.4v4.4h-4.4zM365.2,379.1h4.4v4.4h-4.4zM448.5,301.2h4.4v4.4h-4.4zM463.3,340.0h4.4v4.4h-4.4zM452.4,301.0h4.4v4.4h-4.4zM395.9,318.8h4.4v4.4h-4.4zM404.5,381.9h4.4v4.4h-4.4zM363.0,295.0h4.4v4.4h-4.4zM394.4,343.1h4.4v4.4h-4.4zM370.8,327.6h4.4v4.4h-4.4zM464.6,337.3h4.4v4.4h-4.4zM356.9,349.0h4.4v4.4h-4.4zM420.4,291.9h4.4v4.4h-4.4zM374.9,306.8h4.4v4.4h-4.4zM399.3,379.0h4.4v4.4h-4.4zM397.3,313.0h4.4v4.4h-4.4zM442.9,336.8h4.4v4.4h-4.4zM456.8,310.2h4.4v4.4h-4.4zM364.4,372.9h4.4v4.4h-4.4zM431.5,315.9h4.4v4.4h-4.4zM350.4,382.1h4.4v4.4h-4.4zM364.4,328.1h4.4v4.4h-4.4zM382.8,349.0h4.4v4.4h-4.4zM353.0,319.1h4.4v4.4h-4.4zM404.9,379.1h4.4v4.4h-4.4zM366.6,334.1h4.4v4.4h-4.4zM410.2,318.7h4.4v4.4h-4.4zM424.0,346.1h4.4v4.4h-4.4zM396.4,322.2h4.4v4.4h-4.4zM364.7,313.2h4.4v4.4h-4.4zM414.6,355.4h4.4v4.4h-4.4zM416.1,304.1h4.4v4.4h-4.4zM439.9,298.3h4.4v4.4h-4.4zM365.2,313.3h4.4v4.4h-4.4zM413.2,379.6h4.4v4.4h-4.4zM396.2,355.2h4.4v4.4h-4.4zM385.3,355.1h4.4v4.4h-4.4zM357.2,316.4h4.4v4.4h-4.4zM396.1,316.1h4.4v4.4h-4.4zM452.2,388.0h4.4v4.4h-4.4zM371.6,315.9h4.4v4.4h-4.4zM385.5,382.3h4.4v4.4h-4.4zM359.9,397.2h4.4v4.4h-4.4zM423.9,307.0h4.4v4.4h-4.4zM481.8,340.0h4.4v4.4h-4.4zM370.2,361.2h4.4v4.4h-4.4zM388.1,388.3h4.4v4.4h-4.4zM352.7,379.1h4.4v4.4h-4.4zM408.7,349.3h4.4v4.4h-4.4zM443.6,378.7h4.4v4.4h-4.4zM348.4,316.1h4.4v4.4h-4.4zM403.1,400.1h4.4v4.4h-4.4zM456.5,379.2h4.4v4.4h-4.4zM350.3,319.1h4.4v4.4h-4.4zM450.9,367.3h4.4v4.4h-4.4zM453.8,361.3h4.4v4.4h-4.4zM366.7,316.0h4.4v4.4h-4.4zM382.6,355.1h4.4v4.4h-4.4zM452.5,324.9h4.4v4.4h-4.4zM366.2,354.9h4.4v4.4h-4.4zM380.4,358.3h4.4v4.4h-4.4zM459.3,358.0h4.4v4.4h-4.4zM357.6,291.9h4.4v4.4h-4.4zM428.6,319.0h4.4v4.4h-4.4zM438.8,378.9h4.4v4.4h-4.4zM456.4,378.8h4.4v4.4h-4.4zM348.8,298.1h4.4v4.4h-4.4zM365.0,325.1h4.4v4.4h-4.4zM377.9,369.9h4.4v4.4h-4.4zM372.8,319.0h4.4v4.4h-4.4zM366.6,291.9h4.4v4.4h-4.4zM347.2,316.2h4.4v4.4h-4.4zM377.8,379.0h4.4v4.4h-4.4zM395.0,357.8h4.4v4.4h-4.4zM404.4,298.0h4.4v4.4h-4.4zM427.5,307.1h4.4v4.4h-4.4zM399.7,387.9h4.4v4.4h-4.4zM350.8,297.9h4.4v4.4h-4.4zM463.5,316.2h4.4v4.4h-4.4zM461.6,312.9h4.4v4.4h-4.4zM400.8,292.2h4.4v4.4h-4.4zM357.5,307.1h4.4v4.4h-4.4zM421.3,376.0h4.4v4.4h-4.4zM443.7,354.9h4.4v4.4h-4.4zM403.2,361.0h4.4v4.4h-4.4zM380.4,319.1h4.4v4.4h-4.4zM363.1,318.7h4.4v4.4h-4.4zM362.6,340.0h4.4v4.4h-4.4zM389.0,397.1h4.4v4.4h-4.4zM486.5,312.9h4.4v4.4h-4.4zM359.8,298.0h4.4v4.4h-4.4zM396.2,382.0h4.4v4.4h-4.4zM439.0,358.2h4.4v4.4h-4.4zM443.2,306.9h4.4v4.4h-4.4zM449.3,324.8h4.4v4.4h-4.4zM351.5,360.9h4.4v4.4h-4.4zM353.5,300.9h4.4v4.4h-4.4zM356.9,319.0h4.4v4.4h-4.4zM354.1,367.0h4.4v4.4h-4.4zM424.0,367.1h4.4v4.4h-4.4zM428.7,373.0h4.4v4.4h-4.4zM358.0,297.9h4.4v4.4h-4.4zM353.6,361.1h4.4v4.4h-4.4zM352.8,364.4h4.4v4.4h-4.4zM409.0,367.0h4.4v4.4h-4.4zM411.6,298.1h4.4v4.4h-4.4zM374.5,361.1h4.4v4.4h-4.4zM360.1,376.0h4.4v4.4h-4.4zM439.8,357.9h4.4v4.4h-4.4zM381.9,358.1h4.4v4.4h-4.4zM351.8,370.2h4.4v4.4h-4.4zM348.8,394.1h4.4v4.4h-4.4zM472.9,339.9h4.4v4.4h-4.4zM445.6,349.0h4.4v4.4h-4.4zM360.7,349.1h4.4v4.4h-4.4zM410.2,313.1h4.4v4.4h-4.4zM446.8,342.6h4.4v4.4h-4.4zM424.9,292.3h4.4v4.4h-4.4zM393.5,370.1h4.4v4.4h-4.4zM453.1,379.2h4.4v4.4h-4.4zM388.7,358.0h4.4v4.4h-4.4zM352.1,373.4h4.4v4.4h-4.4zM395.3,313.1h4.4v4.4h-4.4zM382.8,367.3h4.4v4.4h-4.4zM386.0,310.3h4.4v4.4h-4.4zM387.4,349.1h4.4v4.4h-4.4zM392.8,367.2h4.4v4.4h-4.4zM407.2,343.1h4.4v4.4h-4.4zM351.7,376.3h4.4v4.4h-4.4zM347.5,319.3h4.4v4.4h-4.4zM431.8,304.2h4.4v4.4h-4.4zM394.4,349.1h4.4v4.4h-4.4zM394.5,361.4h4.4v4.4h-4.4zM384.5,343.1h4.4v4.4h-4.4zM449.7,307.1h4.4v4.4h-4.4zM445.1,322.0h4.4v4.4h-4.4zM491.0,313.3h4.4v4.4h-4.4zM368.8,361.0h4.4v4.4h-4.4zM347.8,310.2h4.4v4.4h-4.4zM408.9,315.9h4.4v4.4h-4.4zM354.6,319.0h4.4v4.4h-4.4zM383.2,292.0h4.4v4.4h-4.4zM370.9,304.1h4.4v4.4h-4.4zM423.4,373.2h4.4v4.4h-4.4zM475.3,366.9h4.4v4.4h-4.4zM462.3,367.0h4.4v4.4h-4.4zM409.3,325.0h4.4v4.4h-4.4zM360.6,366.8h4.4v4.4h-4.4zM420.3,373.1h4.4v4.4h-4.4zM354.0,307.1h4.4v4.4h-4.4zM404.4,367.1h4.4v4.4h-4.4zM400.0,370.1h4.4v4.4h-4.4zM450.6,307.2h4.4v4.4h-4.4zM448.4,337.2h4.4v4.4h-4.4zM358.1,319.2h4.4v4.4h-4.4zM356.2,307.0h4.4v4.4h-4.4zM412.5,294.7h4.4v4.4h-4.4zM348.9,367.0h4.4v4.4h-4.4zM398.2,381.7h4.4v4.4h-4.4zM364.6,313.1h4.4v4.4h-4.4zM460.5,346.1h4.4v4.4h-4.4zM354.4,343.2h4.4v4.4h-4.4zM457.8,352.4h4.4v4.4h-4.4zM375.7,357.9h4.4v4.4h-4.4zM426.8,321.9h4.4v4.4h-4.4zM434.3,355.0h4.4v4.4h-4.4zM380.4,297.9h4.4v4.4h-4.4zM480.3,321.9h4.4v4.4h-4.4zM412.4,319.0h4.4v4.4h-4.4zM364.4,379.5h4.4v4.4h-4.4zM355.6,348.8h4.4v4.4h-4.4zM419.9,382.3h4.4v4.4h-4.4zM409.1,292.3h4.4v4.4h-4.4zM373.1,343.3h4.4v4.4h-4.4zM381.5,360.9h4.4v4.4h-4.4zM403.0,312.8h4.4v4.4h-4.4zM357.6,291.8h4.4v4.4h-4.4zM366.8,354.8h4.4v4.4h-4.4zM371.9,388.1h4.4v4.4h-4.4zM346.9,400.6h4.4v4.4h-4.4zM360.6,382.2h4.4v4.4h-4.4zM418.6,342.7h4.4v4.4h-4.4zM438.1,292.2h4.4v4.4h-4.4zM364.6,381.9h4.4v4.4h-4.4zM426.1,361.3h4.4v4.4h-4.4zM395.9,318.9h4.4v4.4h-4.4zM434.4,364.4h4.4v4.4h-4.4zM408.3,387.9h4.4v4.4h-4.4zM440.9,334.2h4.4v4.4h-4.4zM456.1,304.1h4.4v4.4h-4.4zM400.4,375.8h4.4v4.4h-4.4zM364.2,343.3h4.4v4.4h-4.4zM424.4,379.1h4.4v4.4h-4.4zM358.5,349.0h4.4v4.4h-4.4zM442.9,312.8h4.4v4.4h-4.4zM416.9,289.0h4.4v4.4h-4.4zM371.5,370.2h4.4v4.4h-4.4zM444.9,373.1h4.4v4.4h-4.4zM424.1,382.1h4.4v4.4h-4.4zM403.6,363.8h4.4v4.4h-4.4zM450.7,373.0h4.4v4.4h-4.4zM380.1,361.3h4.4v4.4h-4.4zM405.3,378.5h4.4v4.4h-4.4zM486.6,355.3h4.4v4.4h-4.4zM364.5,361.3h4.4v4.4h-4.4zM363.0,358.0h4.4v4.4h-4.4zM440.1,315.8h4.4v4.4h-4.4zM432.5,292.2h4.4v4.4h-4.4zM430.6,355.1h4.4v4.4h-4.4zM451.7,307.1h4.4v4.4h-4.4zM394.7,373.1h4.4v4.4h-4.4zM429.2,364.2h4.4v4.4h-4.4zM370.9,381.9h4.4v4.4h-4.4zM479.1,298.1h4.4v4.4h-4.4zM381.8,331.1h4.4v4.4h-4.4zM443.4,324.9h4.4v4.4h-4.4zM387.4,370.4h4.4v4.4h-4.4zM385.5,367.1h4.4v4.4h-4.4zM441.4,298.0h4.4v4.4h-4.4zM417.2,379.1h4.4v4.4h-4.4zM351.3,300.9h4.4v4.4h-4.4zM360.9,322.1h4.4v4.4h-4.4zM351.4,379.1h4.4v4.4h-4.4zM375.1,363.8h4.4v4.4h-4.4zM427.5,324.9h4.4v4.4h-4.4zM374.7,370.3h4.4v4.4h-4.4zM369.7,388.3h4.4v4.4h-4.4zM450.4,304.1h4.4v4.4h-4.4zM405.3,376.0h4.4v4.4h-4.4zM382.1,370.3h4.4v4.4h-4.4zM384.0,379.3h4.4v4.4h-4.4zM363.4,337.4h4.4v4.4h-4.4zM393.1,348.7h4.4v4.4h-4.4zM430.9,370.0h4.4v4.4h-4.4zM426.0,343.1h4.4v4.4h-4.4zM431.2,300.8h4.4v4.4h-4.4zM463.9,291.9h4.4v4.4h-4.4zM407.7,372.9h4.4v4.4h-4.4zM368.8,355.4h4.4v4.4h-4.4zM368.6,316.0h4.4v4.4h-4.4zM408.4,367.5h4.4v4.4h-4.4zM461.7,337.1h4.4v4.4h-4.4zM370.1,313.5h4.4v4.4h-4.4zM452.9,382.2h4.4v4.4h-4.4zM383.8,292.0h4.4v4.4h-4.4zM372.9,375.9h4.4v4.4h-4.4zM387.8,315.9h4.4v4.4h-4.4zM349.6,337.0h4.4v4.4h-4.4zM350.6,370.3h4.4v4.4h-4.4zM463.4,313.0h4.4v4.4h-4.4zM436.6,364.3h4.4v4.4h-4.4zM392.2,309.7h4.4v4.4h-4.4zM364.6,355.1h4.4v4.4h-4.4zM355.4,355.0h4.4v4.4h-4.4zM374.4,319.1h4.4v4.4h-4.4zM402.4,289.0h4.4v4.4h-4.4zM397.5,288.7h4.4v4.4h-4.4zM361.9,349.2h4.4v4.4h-4.4zM407.3,349.0h4.4v4.4h-4.4zM379.0,298.1h4.4v4.4h-4.4zM386.8,370.2h4.4v4.4h-4.4zM449.5,376.1h4.4v4.4h-4.4zM361.8,319.1h4.4v4.4h-4.4zM347.2,319.2h4.4v4.4h-4.4zM421.1,360.5h4.4v4.4h-4.4zM362.2,361.0h4.4v4.4h-4.4zM463.2,334.2h4.4v4.4h-4.4zM350.6,391.1h4.4v4.4h-4.4zM379.6,294.6h4.4v4.4h-4.4zM368.6,358.5h4.4v4.4h-4.4zM366.1,316.0h4.4v4.4h-4.4zM414.3,352.0h4.4v4.4h-4.4zM360.3,370.2h4.4v4.4h-4.4zM391.9,370.4h4.4v4.4h-4.4zM453.3,361.1h4.4v4.4h-4.4zM398.8,360.9h4.4v4.4h-4.4zM358.7,313.5h4.4v4.4h-4.4zM402.0,348.9h4.4v4.4h-4.4zM455.8,342.9h4.4v4.4h-4.4zM447.9,334.0h4.4v4.4h-4.4zM432.6,367.1h4.4v4.4h-4.4zM424.6,337.0h4.4v4.4h-4.4zM392.5,318.7h4.4v4.4h-4.4zM396.6,382.1h4.4v4.4h-4.4zM360.1,343.1h4.4v4.4h-4.4zM383.8,373.1h4.4v4.4h-4.4zM469.0,330.9h4.4v4.4h-4.4zM368.0,291.9h4.4v4.4h-4.4zM390.0,346.1h4.4v4.4h-4.4zM386.9,367.1h4.4v4.4h-4.4zM347.5,298.0h4.4v4.4h-4.4zM352.9,373.2h4.4v4.4h-4.4zM369.2,370.4h4.4v4.4h-4.4zM350.5,306.8h4.4v4.4h-4.4zM368.2,382.0h4.4v4.4h-4.4zM430.8,397.0h4.4v4.4h-4.4zM448.6,307.0h4.4v4.4h-4.4zM372.6,319.0h4.4v4.4h-4.4zM411.8,306.9h4.4v4.4h-4.4zM435.9,304.0h4.4v4.4h-4.4zM348.2,346.2h4.4v4.4h-4.4zM448.6,379.2h4.4v4.4h-4.4zM352.6,313.3h4.4v4.4h-4.4zM413.6,382.3h4.4v4.4h-4.4zM392.1,361.2h4.4v4.4h-4.4zM353.2,322.4h4.4v4.4h-4.4zM462.4,309.9h4.4v4.4h-4.4zM377.1,388.0h4.4v4.4h-4.4zM444.8,295.0h4.4v4.4h-4.4zM375.1,298.6h4.4v4.4h-4.4zM351.0,313.3h4.4v4.4h-4.4zM389.6,333.7h4.4v4.4h-4.4zM372.9,313.1h4.4v4.4h-4.4zM471.9,318.8h4.4v4.4h-4.4zM435.9,310.1h4.4v4.4h-4.4zM352.6,313.0h4.4v4.4h-4.4zM367.7,349.4h4.4v4.4h-4.4zM440.4,349.0h4.4v4.4h-4.4zM430.6,376.3h4.4v4.4h-4.4zM408.1,369.6h4.4v4.4h-4.4zM393.0,316.0h4.4v4.4h-4.4zM372.6,295.0h4.4v4.4h-4.4zM387.8,316.3h4.4v4.4h-4.4zM377.7,319.2h4.4v4.4h-4.4zM407.2,337.0h4.4v4.4h-4.4zM408.1,379.3h4.4v4.4h-4.4zM412.6,334.1h4.4v4.4h-4.4zM409.6,327.8h4.4v4.4h-4.4zM377.5,315.9h4.4v4.4h-4.4zM446.9,316.2h4.4v4.4h-4.4zM354.5,297.6h4.4v4.4h-4.4zM354.9,307.1h4.4v4.4h-4.4zM362.3,357.8h4.4v4.4h-4.4zM418.1,382.0h4.4v4.4h-4.4zM373.9,318.7h4.4v4.4h-4.4zM404.4,367.0h4.4v4.4h-4.4zM349.1,361.4h4.4v4.4h-4.4zM374.8,333.8h4.4v4.4h-4.4zM384.6,364.2h4.4v4.4h-4.4zM373.8,298.0h4.4v4.4h-4.4zM375.1,361.3h4.4v4.4h-4.4zM428.7,382.1h4.4v4.4h-4.4zM430.2,306.9h4.4v4.4h-4.4zM398.7,309.7h4.4v4.4h-4.4zM347.6,315.8h4.4v4.4h-4.4zM375.4,316.0h4.4v4.4h-4.4zM392.6,294.9h4.4v4.4h-4.4zM469.6,373.1h4.4v4.4h-4.4zM421.7,288.9h4.4v4.4h-4.4zM384.1,354.8h4.4v4.4h-4.4zM394.5,388.0h4.4v4.4h-4.4zM459.6,361.1h4.4v4.4h-4.4zM396.0,292.0h4.4v4.4h-4.4zM377.9,345.9h4.4v4.4h-4.4zM365.7,327.9h4.4v4.4h-4.4zM378.1,291.9h4.4v4.4h-4.4zM454.3,334.0h4.4v4.4h-4.4zM433.9,319.3h4.4v4.4h-4.4zM426.4,393.9h4.4v4.4h-4.4zM430.9,313.3h4.4v4.4h-4.4zM426.7,313.0h4.4v4.4h-4.4zM366.4,388.0h4.4v4.4h-4.4zM385.9,382.3h4.4v4.4h-4.4zM421.9,319.1h4.4v4.4h-4.4zM426.0,310.0h4.4v4.4h-4.4zM348.4,349.1h4.4v4.4h-4.4zM400.9,289.3h4.4v4.4h-4.4zM404.3,382.3h4.4v4.4h-4.4zM351.2,325.2h4.4v4.4h-4.4zM356.8,358.0h4.4v4.4h-4.4zM451.3,349.0h4.4v4.4h-4.4zM380.9,316.4h4.4v4.4h-4.4zM401.1,301.2h4.4v4.4h-4.4zM386.5,313.1h4.4v4.4h-4.4zM393.9,297.8h4.4v4.4h-4.4zM403.4,331.0h4.4v4.4h-4.4zM394.3,324.8h4.4v4.4h-4.4zM351.8,396.9h4.4v4.4h-4.4zM352.5,367.3h4.4v4.4h-4.4zM457.6,390.9h4.4v4.4h-4.4zM356.4,367.0h4.4v4.4h-4.4zM458.4,364.2h4.4v4.4h-4.4zM369.8,367.1h4.4v4.4h-4.4zM452.3,348.9h4.4v4.4h-4.4zM475.3,301.2h4.4v4.4h-4.4zM370.5,391.5h4.4v4.4h-4.4zM446.3,349.3h4.4v4.4h-4.4zM360.6,312.7h4.4v4.4h-4.4zM461.0,321.9h4.4v4.4h-4.4zM385.0,361.0h4.4v4.4h-4.4zM410.7,379.0h4.4v4.4h-4.4zM427.9,378.9h4.4v4.4h-4.4zM407.3,333.9h4.4v4.4h-4.4zM411.9,373.1h4.4v4.4h-4.4zM465.4,298.1h4.4v4.4h-4.4zM361.7,343.3h4.4v4.4h-4.4zM374.8,355.2h4.4v4.4h-4.4zM449.2,397.3h4.4v4.4h-4.4zM375.8,379.0h4.4v4.4h-4.4zM368.0,304.1h4.4v4.4h-4.4zM448.5,378.8h4.4v4.4h-4.4zM436.1,318.9h4.4v4.4h-4.4zM375.2,313.2h4.4v4.4h-4.4zM459.1,295.0h4.4v4.4h-4.4zM414.7,304.1h4.4v4.4h-4.4zM352.6,334.0h4.4v4.4h-4.4zM418.6,336.8h4.4v4.4h-4.4zM364.0,361.1h4.4v4.4h-4.4zM438.3,348.9h4.4v4.4h-4.4zM407.4,358.1h4.4v4.4h-4.4zM353.7,322.1h4.4v4.4h-4.4zM435.2,358.1h4.4v4.4h-4.4zM368.8,316.0h4.4v4.4h-4.4zM394.3,307.2h4.4v4.4h-4.4zM376.2,361.0h4.4v4.4h-4.4zM381.9,313.2h4.4v4.4h-4.4zM385.3,343.1h4.4v4.4h-4.4zM476.0,316.0h4.4v4.4h-4.4zM351.4,366.9h4.4v4.4h-4.4zM350.5,324.7h4.4v4.4h-4.4zM372.0,372.8h4.4v4.4h-4.4zM419.2,364.2h4.4v4.4h-4.4zM402.4,333.9h4.4v4.4h-4.4zM400.1,346.1h4.4v4.4h-4.4zM452.1,361.1h4.4v4.4h-4.4zM390.8,310.0h4.4v4.4h-4.4zM362.7,310.1h4.4v4.4h-4.4zM414.1,312.6h4.4v4.4h-4.4zM383.1,310.1h4.4v4.4h-4.4zM445.2,291.9h4.4v4.4h-4.4zM388.7,349.4h4.4v4.4h-4.4zM393.4,367.2h4.4v4.4h-4.4zM359.9,363.7h4.4v4.4h-4.4zM452.0,337.2h4.4v4.4h-4.4zM391.8,355.4h4.4v4.4h-4.4zM380.4,328.1h4.4v4.4h-4.4zM352.2,355.2h4.4v4.4h-4.4zM428.5,304.3h4.4v4.4h-4.4zM369.8,312.9h4.4v4.4h-4.4zM351.5,316.0h4.4v4.4h-4.4zM389.9,327.9h4.4v4.4h-4.4zM395.0,352.0h4.4v4.4h-4.4zM403.1,382.1h4.4v4.4h-4.4zM394.9,364.0h4.4v4.4h-4.4zM359.7,298.2h4.4v4.4h-4.4zM373.7,307.1h4.4v4.4h-4.4zM354.5,340.0h4.4v4.4h-4.4zM382.5,325.3h4.4v4.4h-4.4zM428.9,319.2h4.4v4.4h-4.4zM396.9,400.2h4.4v4.4h-4.4zM428.7,358.0h4.4v4.4h-4.4zM418.6,312.9h4.4v4.4h-4.4zM442.3,292.5h4.4v4.4h-4.4zM443.3,292.3h4.4v4.4h-4.4zM468.6,292.1h4.4v4.4h-4.4zM424.8,291.8h4.4v4.4h-4.4zM434.6,289.5h4.4v4.4h-4.4zM446.1,295.0h4.4v4.4h-4.4zM458.0,292.2h4.4v4.4h-4.4zM429.2,292.2h4.4v4.4h-4.4zM453.5,289.1h4.4v4.4h-4.4zM446.6,294.5h4.4v4.4h-4.4zM444.8,288.8h4.4v4.4h-4.4zM472.9,292.1h4.4v4.4h-4.4zM475.4,289.0h4.4v4.4h-4.4zM420.9,292.0h4.4v4.4h-4.4zM419.9,303.6h4.4v4.4h-4.4zM433.1,301.2h4.4v4.4h-4.4zM463.4,307.3h4.4v4.4h-4.4zM474.0,307.4h4.4v4.4h-4.4zM471.3,304.0h4.4v4.4h-4.4zM459.6,303.9h4.4v4.4h-4.4zM439.6,304.3h4.4v4.4h-4.4zM467.5,301.2h4.4v4.4h-4.4zM451.1,300.9h4.4v4.4h-4.4zM480.3,304.0h4.4v4.4h-4.4zM369.0,406.1h4.4v4.4h-4.4zM357.6,406.1h4.4v4.4h-4.4zM388.0,412.2h4.4v4.4h-4.4zM350.8,415.0h4.4v4.4h-4.4zM349.5,402.9h4.4v4.4h-4.4zM354.0,403.1h4.4v4.4h-4.4zM368.9,414.8h4.4v4.4h-4.4zM351.4,397.2h4.4v4.4h-4.4zM348.8,430.1h4.4v4.4h-4.4zM358.8,409.0h4.4v4.4h-4.4zM362.7,427.2h4.4v4.4h-4.4zM354.4,424.2h4.4v4.4h-4.4zM364.6,433.3h4.4v4.4h-4.4zM411.2,399.9h4.4v4.4h-4.4zM362.1,402.9h4.4v4.4h-4.4zM349.7,400.0h4.4v4.4h-4.4zM365.6,424.0h4.4v4.4h-4.4zM377.0,427.3h4.4v4.4h-4.4zM383.7,415.3h4.4v4.4h-4.4zM348.0,406.5h4.4v4.4h-4.4zM353.1,421.1h4.4v4.4h-4.4zM368.5,421.1h4.4v4.4h-4.4zM381.6,400.1h4.4v4.4h-4.4zM361.4,400.0h4.4v4.4h-4.4zM402.2,424.2h4.4v4.4h-4.4zM350.3,411.9h4.4v4.4h-4.4zM349.3,400.1h4.4v4.4h-4.4zM361.6,397.1h4.4v4.4h-4.4zM390.2,439.3h4.4v4.4h-4.4zM355.5,409.2h4.4v4.4h-4.4zM361.4,424.2h4.4v4.4h-4.4zM346.9,412.0h4.4v4.4h-4.4zM382.2,439.0h4.4v4.4h-4.4zM361.2,421.2h4.4v4.4h-4.4zM347.5,436.2h4.4v4.4h-4.4zM347.0,409.1h4.4v4.4h-4.4zM351.5,430.3h4.4v4.4h-4.4zM354.6,402.9h4.4v4.4h-4.4zM361.3,415.3h4.4v4.4h-4.4zM388.5,409.6h4.4v4.4h-4.4zM354.5,408.9h4.4v4.4h-4.4zM391.7,436.3h4.4v4.4h-4.4zM349.3,402.8h4.4v4.4h-4.4zM365.1,427.5h4.4v4.4h-4.4zM399.8,414.9h4.4v4.4h-4.4zM377.5,439.4h4.4v4.4h-4.4zM356.3,438.8h4.4v4.4h-4.4zM377.6,421.2h4.4v4.4h-4.4zM404.8,400.1h4.4v4.4h-4.4zM398.2,403.4h4.4v4.4h-4.4zM392.2,400.0h4.4v4.4h-4.4zM384.5,418.3h4.4v4.4h-4.4zM403.6,427.0h4.4v4.4h-4.4zM361.6,433.3h4.4v4.4h-4.4zM357.7,403.1h4.4v4.4h-4.4zM396.6,427.3h4.4v4.4h-4.4zM355.2,415.5h4.4v4.4h-4.4zM354.4,435.8h4.4v4.4h-4.4zM348.6,438.9h4.4v4.4h-4.4zM347.8,427.6h4.4v4.4h-4.4zM398.3,421.2h4.4v4.4h-4.4zM407.2,406.3h4.4v4.4h-4.4zM359.4,424.1h4.4v4.4h-4.4zM407.7,400.3h4.4v4.4h-4.4zM376.9,414.7h4.4v4.4h-4.4zM387.9,430.2h4.4v4.4h-4.4zM347.3,430.2h4.4v4.4h-4.4zM354.5,427.1h4.4v4.4h-4.4zM407.9,418.2h4.4v4.4h-4.4zM355.8,433.1h4.4v4.4h-4.4zM365.7,445.0h4.4v4.4h-4.4zM362.9,451.1h4.4v4.4h-4.4zM351.4,460.1h4.4v4.4h-4.4zM361.8,445.0h4.4v4.4h-4.4zM355.1,442.0h4.4v4.4h-4.4zM347.9,448.3h4.4v4.4h-4.4zM352.0,447.7h4.4v4.4h-4.4zM369.5,448.2h4.4v4.4h-4.4zM348.5,439.4h4.4v4.4h-4.4zM362.9,466.0h4.4v4.4h-4.4zM353.0,442.3h4.4v4.4h-4.4zM364.3,439.3h4.4v4.4h-4.4zM353.7,439.2h4.4v4.4h-4.4zM359.4,466.4h4.4v4.4h-4.4zM351.4,445.3h4.4v4.4h-4.4zM347.2,439.2h4.4v4.4h-4.4zM348.3,453.8h4.4v4.4h-4.4zM354.8,439.3h4.4v4.4h-4.4zM348.7,460.5h4.4v4.4h-4.4zM350.0,448.1h4.4v4.4h-4.4zM353.7,451.1h4.4v4.4h-4.4zM347.1,463.3h4.4v4.4h-4.4zM352.5,457.2h4.4v4.4h-4.4zM346.8,448.3h4.4v4.4h-4.4zM366.0,454.2h4.4v4.4h-4.4zM347.0,325.3h4.4v4.4h-4.4zM346.5,426.6h4.4v4.4h-4.4zM348.1,316.2h4.4v4.4h-4.4zM349.3,394.0h4.4v4.4h-4.4zM347.8,325.1h4.4v4.4h-4.4zM346.6,318.6h4.4v4.4h-4.4zM347.4,370.4h4.4v4.4h-4.4zM347.5,388.0h4.4v4.4h-4.4zM345.1,382.0h4.4v4.4h-4.4zM349.4,421.0h4.4v4.4h-4.4zM347.3,304.0h4.4v4.4h-4.4zM346.8,406.2h4.4v4.4h-4.4zM345.0,364.1h4.4v4.4h-4.4zM347.5,433.2h4.4v4.4h-4.4zM346.7,409.2h4.4v4.4h-4.4zM344.0,352.0h4.4v4.4h-4.4zM344.9,306.8h4.4v4.4h-4.4zM348.4,369.8h4.4v4.4h-4.4z" fill="none" stroke="#b98c8c" stroke-width="1.15"/>
<path d="M90.0,240.5a2.6,2.6 0 1,0 5.2,0a2.6,2.6 0 1,0 -5.2,0M106.7,340.9a2.6,2.6 0 1,0 5.2,0a2.6,2.6 0 1,0 -5.2,0M75.7,362.3a2.6,2.6 0 1,0 5.2,0a2.6,2.6 0 1,0 -5.2,0M106.2,382.9a2.6,2.6 0 1,0 5.2,0a2.6,2.6 0 1,0 -5.2,0M102.7,385.8a2.6,2.6 0 1,0 5.2,0a2.6,2.6 0 1,0 -5.2,0M107.0,386.4a2.6,2.6 0 1,0 5.2,0a2.6,2.6 0 1,0 -5.2,0M122.2,398.1a2.6,2.6 0 1,0 5.2,0a2.6,2.6 0 1,0 -5.2,0M137.6,418.8a2.6,2.6 0 1,0 5.2,0a2.6,2.6 0 1,0 -5.2,0M122.2,422.1a2.6,2.6 0 1,0 5.2,0a2.6,2.6 0 1,0 -5.2,0M128.4,422.9a2.6,2.6 0 1,0 5.2,0a2.6,2.6 0 1,0 -5.2,0M123.0,432.5a2.6,2.6 0 1,0 5.2,0a2.6,2.6 0 1,0 -5.2,0M107.0,392.5a2.6,2.6 0 1,0 5.2,0a2.6,2.6 0 1,0 -5.2,0M106.4,401.3a2.6,2.6 0 1,0 5.2,0a2.6,2.6 0 1,0 -5.2,0M107.0,405.4a2.6,2.6 0 1,0 5.2,0a2.6,2.6 0 1,0 -5.2,0M106.2,408.9a2.6,2.6 0 1,0 5.2,0a2.6,2.6 0 1,0 -5.2,0M107.3,411.2a2.6,2.6 0 1,0 5.2,0a2.6,2.6 0 1,0 -5.2,0M106.4,414.7a2.6,2.6 0 1,0 5.2,0a2.6,2.6 0 1,0 -5.2,0M107.6,417.6a2.6,2.6 0 1,0 5.2,0a2.6,2.6 0 1,0 -5.2,0M106.2,420.5a2.6,2.6 0 1,0 5.2,0a2.6,2.6 0 1,0 -5.2,0M108.2,422.9a2.6,2.6 0 1,0 5.2,0a2.6,2.6 0 1,0 -5.2,0M106.4,426.4a2.6,2.6 0 1,0 5.2,0a2.6,2.6 0 1,0 -5.2,0M107.0,429.9a2.6,2.6 0 1,0 5.2,0a2.6,2.6 0 1,0 -5.2,0M106.2,433.4a2.6,2.6 0 1,0 5.2,0a2.6,2.6 0 1,0 -5.2,0M136.8,445.4a2.6,2.6 0 1,0 5.2,0a2.6,2.6 0 1,0 -5.2,0M106.4,480.5a2.6,2.6 0 1,0 5.2,0a2.6,2.6 0 1,0 -5.2,0M107.6,467.6a2.6,2.6 0 1,0 5.2,0a2.6,2.6 0 1,0 -5.2,0M106.4,453.3a2.6,2.6 0 1,0 5.2,0a2.6,2.6 0 1,0 -5.2,0M109.9,451.3a2.6,2.6 0 1,0 5.2,0a2.6,2.6 0 1,0 -5.2,0M110.5,434.9a2.6,2.6 0 1,0 5.2,0a2.6,2.6 0 1,0 -5.2,0M106.4,436.7a2.6,2.6 0 1,0 5.2,0a2.6,2.6 0 1,0 -5.2,0M106.4,441.4a2.6,2.6 0 1,0 5.2,0a2.6,2.6 0 1,0 -5.2,0M109.9,441.9a2.6,2.6 0 1,0 5.2,0a2.6,2.6 0 1,0 -5.2,0M106.4,443.7a2.6,2.6 0 1,0 5.2,0a2.6,2.6 0 1,0 -5.2,0M106.9,439.0a2.6,2.6 0 1,0 5.2,0a2.6,2.6 0 1,0 -5.2,0M377.3,218.8a2.6,2.6 0 1,0 5.2,0a2.6,2.6 0 1,0 -5.2,0M350.2,251.5a2.6,2.6 0 1,0 5.2,0a2.6,2.6 0 1,0 -5.2,0M366.9,249.4a2.6,2.6 0 1,0 5.2,0a2.6,2.6 0 1,0 -5.2,0M402.8,245.6a2.6,2.6 0 1,0 5.2,0a2.6,2.6 0 1,0 -5.2,0M411.9,243.9a2.6,2.6 0 1,0 5.2,0a2.6,2.6 0 1,0 -5.2,0M360.8,264.7a2.6,2.6 0 1,0 5.2,0a2.6,2.6 0 1,0 -5.2,0M426.7,249.4a2.6,2.6 0 1,0 5.2,0a2.6,2.6 0 1,0 -5.2,0M350.8,273.7a2.6,2.6 0 1,0 5.2,0a2.6,2.6 0 1,0 -5.2,0M363.3,272.1a2.6,2.6 0 1,0 5.2,0a2.6,2.6 0 1,0 -5.2,0M357.5,282.6a2.6,2.6 0 1,0 5.2,0a2.6,2.6 0 1,0 -5.2,0M368.3,281.1a2.6,2.6 0 1,0 5.2,0a2.6,2.6 0 1,0 -5.2,0M367.2,284.0a2.6,2.6 0 1,0 5.2,0a2.6,2.6 0 1,0 -5.2,0M367.2,286.4a2.6,2.6 0 1,0 5.2,0a2.6,2.6 0 1,0 -5.2,0M367.2,288.7a2.6,2.6 0 1,0 5.2,0a2.6,2.6 0 1,0 -5.2,0M390.0,281.7a2.6,2.6 0 1,0 5.2,0a2.6,2.6 0 1,0 -5.2,0M377.9,288.7a2.6,2.6 0 1,0 5.2,0a2.6,2.6 0 1,0 -5.2,0M361.9,292.8a2.6,2.6 0 1,0 5.2,0a2.6,2.6 0 1,0 -5.2,0M363.7,295.1a2.6,2.6 0 1,0 5.2,0a2.6,2.6 0 1,0 -5.2,0M409.8,295.5a2.6,2.6 0 1,0 5.2,0a2.6,2.6 0 1,0 -5.2,0M409.8,298.6a2.6,2.6 0 1,0 5.2,0a2.6,2.6 0 1,0 -5.2,0M376.5,303.3a2.6,2.6 0 1,0 5.2,0a2.6,2.6 0 1,0 -5.2,0M363.1,301.5a2.6,2.6 0 1,0 5.2,0a2.6,2.6 0 1,0 -5.2,0M360.8,307.4a2.6,2.6 0 1,0 5.2,0a2.6,2.6 0 1,0 -5.2,0M366.0,307.4a2.6,2.6 0 1,0 5.2,0a2.6,2.6 0 1,0 -5.2,0M366.6,309.7a2.6,2.6 0 1,0 5.2,0a2.6,2.6 0 1,0 -5.2,0M375.7,311.8a2.6,2.6 0 1,0 5.2,0a2.6,2.6 0 1,0 -5.2,0M388.8,312.6a2.6,2.6 0 1,0 5.2,0a2.6,2.6 0 1,0 -5.2,0M402.6,310.9a2.6,2.6 0 1,0 5.2,0a2.6,2.6 0 1,0 -5.2,0M356.7,315.3a2.6,2.6 0 1,0 5.2,0a2.6,2.6 0 1,0 -5.2,0M361.9,315.5a2.6,2.6 0 1,0 5.2,0a2.6,2.6 0 1,0 -5.2,0M365.4,315.0a2.6,2.6 0 1,0 5.2,0a2.6,2.6 0 1,0 -5.2,0M373.6,319.1a2.6,2.6 0 1,0 5.2,0a2.6,2.6 0 1,0 -5.2,0M378.0,319.1a2.6,2.6 0 1,0 5.2,0a2.6,2.6 0 1,0 -5.2,0M412.4,321.4a2.6,2.6 0 1,0 5.2,0a2.6,2.6 0 1,0 -5.2,0M416.8,322.6a2.6,2.6 0 1,0 5.2,0a2.6,2.6 0 1,0 -5.2,0M367.8,323.1a2.6,2.6 0 1,0 5.2,0a2.6,2.6 0 1,0 -5.2,0M373.4,325.8a2.6,2.6 0 1,0 5.2,0a2.6,2.6 0 1,0 -5.2,0M390.5,326.1a2.6,2.6 0 1,0 5.2,0a2.6,2.6 0 1,0 -5.2,0M350.0,328.4a2.6,2.6 0 1,0 5.2,0a2.6,2.6 0 1,0 -5.2,0M359.6,321.4a2.6,2.6 0 1,0 5.2,0a2.6,2.6 0 1,0 -5.2,0M359.6,324.9a2.6,2.6 0 1,0 5.2,0a2.6,2.6 0 1,0 -5.2,0M359.0,328.4a2.6,2.6 0 1,0 5.2,0a2.6,2.6 0 1,0 -5.2,0M366.6,327.2a2.6,2.6 0 1,0 5.2,0a2.6,2.6 0 1,0 -5.2,0M434.1,296.5a2.6,2.6 0 1,0 5.2,0a2.6,2.6 0 1,0 -5.2,0M426.1,301.8a2.6,2.6 0 1,0 5.2,0a2.6,2.6 0 1,0 -5.2,0M444.9,303.2a2.6,2.6 0 1,0 5.2,0a2.6,2.6 0 1,0 -5.2,0M467.9,303.8a2.6,2.6 0 1,0 5.2,0a2.6,2.6 0 1,0 -5.2,0M421.1,313.0a2.6,2.6 0 1,0 5.2,0a2.6,2.6 0 1,0 -5.2,0M367.4,316.2a2.6,2.6 0 1,0 5.2,0a2.6,2.6 0 1,0 -5.2,0M422.9,321.2a2.6,2.6 0 1,0 5.2,0a2.6,2.6 0 1,0 -5.2,0M466.6,318.2a2.6,2.6 0 1,0 5.2,0a2.6,2.6 0 1,0 -5.2,0M482.4,320.0a2.6,2.6 0 1,0 5.2,0a2.6,2.6 0 1,0 -5.2,0M424.9,325.8a2.6,2.6 0 1,0 5.2,0a2.6,2.6 0 1,0 -5.2,0M432.4,325.8a2.6,2.6 0 1,0 5.2,0a2.6,2.6 0 1,0 -5.2,0M435.6,327.0a2.6,2.6 0 1,0 5.2,0a2.6,2.6 0 1,0 -5.2,0M377.9,332.5a2.6,2.6 0 1,0 5.2,0a2.6,2.6 0 1,0 -5.2,0M389.4,332.5a2.6,2.6 0 1,0 5.2,0a2.6,2.6 0 1,0 -5.2,0M425.4,332.5a2.6,2.6 0 1,0 5.2,0a2.6,2.6 0 1,0 -5.2,0M462.4,332.0a2.6,2.6 0 1,0 5.2,0a2.6,2.6 0 1,0 -5.2,0M379.9,335.5a2.6,2.6 0 1,0 5.2,0a2.6,2.6 0 1,0 -5.2,0M389.9,335.5a2.6,2.6 0 1,0 5.2,0a2.6,2.6 0 1,0 -5.2,0M385.4,340.8a2.6,2.6 0 1,0 5.2,0a2.6,2.6 0 1,0 -5.2,0M393.1,341.5a2.6,2.6 0 1,0 5.2,0a2.6,2.6 0 1,0 -5.2,0M399.9,342.5a2.6,2.6 0 1,0 5.2,0a2.6,2.6 0 1,0 -5.2,0M454.9,340.8a2.6,2.6 0 1,0 5.2,0a2.6,2.6 0 1,0 -5.2,0M346.6,343.2a2.6,2.6 0 1,0 5.2,0a2.6,2.6 0 1,0 -5.2,0M388.6,344.5a2.6,2.6 0 1,0 5.2,0a2.6,2.6 0 1,0 -5.2,0M472.9,343.8a2.6,2.6 0 1,0 5.2,0a2.6,2.6 0 1,0 -5.2,0M416.1,348.8a2.6,2.6 0 1,0 5.2,0a2.6,2.6 0 1,0 -5.2,0M419.9,352.0a2.6,2.6 0 1,0 5.2,0a2.6,2.6 0 1,0 -5.2,0M422.9,355.0a2.6,2.6 0 1,0 5.2,0a2.6,2.6 0 1,0 -5.2,0M377.4,352.5a2.6,2.6 0 1,0 5.2,0a2.6,2.6 0 1,0 -5.2,0M382.4,352.0a2.6,2.6 0 1,0 5.2,0a2.6,2.6 0 1,0 -5.2,0M409.1,353.8a2.6,2.6 0 1,0 5.2,0a2.6,2.6 0 1,0 -5.2,0M431.9,355.5a2.6,2.6 0 1,0 5.2,0a2.6,2.6 0 1,0 -5.2,0M459.9,356.2a2.6,2.6 0 1,0 5.2,0a2.6,2.6 0 1,0 -5.2,0M462.9,357.0a2.6,2.6 0 1,0 5.2,0a2.6,2.6 0 1,0 -5.2,0M481.1,355.8a2.6,2.6 0 1,0 5.2,0a2.6,2.6 0 1,0 -5.2,0M392.4,360.0a2.6,2.6 0 1,0 5.2,0a2.6,2.6 0 1,0 -5.2,0M407.4,360.5a2.6,2.6 0 1,0 5.2,0a2.6,2.6 0 1,0 -5.2,0M390.4,362.5a2.6,2.6 0 1,0 5.2,0a2.6,2.6 0 1,0 -5.2,0M406.9,362.5a2.6,2.6 0 1,0 5.2,0a2.6,2.6 0 1,0 -5.2,0M464.9,362.5a2.6,2.6 0 1,0 5.2,0a2.6,2.6 0 1,0 -5.2,0M480.4,361.2a2.6,2.6 0 1,0 5.2,0a2.6,2.6 0 1,0 -5.2,0M392.4,368.0a2.6,2.6 0 1,0 5.2,0a2.6,2.6 0 1,0 -5.2,0M409.9,369.5a2.6,2.6 0 1,0 5.2,0a2.6,2.6 0 1,0 -5.2,0M416.1,370.0a2.6,2.6 0 1,0 5.2,0a2.6,2.6 0 1,0 -5.2,0M431.6,367.0a2.6,2.6 0 1,0 5.2,0a2.6,2.6 0 1,0 -5.2,0M441.9,368.8a2.6,2.6 0 1,0 5.2,0a2.6,2.6 0 1,0 -5.2,0M474.9,372.0a2.6,2.6 0 1,0 5.2,0a2.6,2.6 0 1,0 -5.2,0M378.6,371.2a2.6,2.6 0 1,0 5.2,0a2.6,2.6 0 1,0 -5.2,0M397.9,375.0a2.6,2.6 0 1,0 5.2,0a2.6,2.6 0 1,0 -5.2,0M392.4,379.2a2.6,2.6 0 1,0 5.2,0a2.6,2.6 0 1,0 -5.2,0M403.6,379.2a2.6,2.6 0 1,0 5.2,0a2.6,2.6 0 1,0 -5.2,0M489.9,376.2a2.6,2.6 0 1,0 5.2,0a2.6,2.6 0 1,0 -5.2,0M489.9,380.0a2.6,2.6 0 1,0 5.2,0a2.6,2.6 0 1,0 -5.2,0M338.6,385.5a2.6,2.6 0 1,0 5.2,0a2.6,2.6 0 1,0 -5.2,0M458.6,381.2a2.6,2.6 0 1,0 5.2,0a2.6,2.6 0 1,0 -5.2,0M463.6,384.5a2.6,2.6 0 1,0 5.2,0a2.6,2.6 0 1,0 -5.2,0M385.4,385.0a2.6,2.6 0 1,0 5.2,0a2.6,2.6 0 1,0 -5.2,0M394.9,385.5a2.6,2.6 0 1,0 5.2,0a2.6,2.6 0 1,0 -5.2,0M403.1,385.5a2.6,2.6 0 1,0 5.2,0a2.6,2.6 0 1,0 -5.2,0M407.4,385.0a2.6,2.6 0 1,0 5.2,0a2.6,2.6 0 1,0 -5.2,0M411.9,382.5a2.6,2.6 0 1,0 5.2,0a2.6,2.6 0 1,0 -5.2,0M422.4,384.5a2.6,2.6 0 1,0 5.2,0a2.6,2.6 0 1,0 -5.2,0M489.9,383.0a2.6,2.6 0 1,0 5.2,0a2.6,2.6 0 1,0 -5.2,0M481.1,387.0a2.6,2.6 0 1,0 5.2,0a2.6,2.6 0 1,0 -5.2,0M384.9,390.0a2.6,2.6 0 1,0 5.2,0a2.6,2.6 0 1,0 -5.2,0M390.4,395.0a2.6,2.6 0 1,0 5.2,0a2.6,2.6 0 1,0 -5.2,0M389.4,397.5a2.6,2.6 0 1,0 5.2,0a2.6,2.6 0 1,0 -5.2,0M431.9,390.0a2.6,2.6 0 1,0 5.2,0a2.6,2.6 0 1,0 -5.2,0M436.9,392.5a2.6,2.6 0 1,0 5.2,0a2.6,2.6 0 1,0 -5.2,0M478.1,391.8a2.6,2.6 0 1,0 5.2,0a2.6,2.6 0 1,0 -5.2,0M486.1,393.0a2.6,2.6 0 1,0 5.2,0a2.6,2.6 0 1,0 -5.2,0M489.9,393.8a2.6,2.6 0 1,0 5.2,0a2.6,2.6 0 1,0 -5.2,0M424.9,395.5a2.6,2.6 0 1,0 5.2,0a2.6,2.6 0 1,0 -5.2,0M426.9,398.0a2.6,2.6 0 1,0 5.2,0a2.6,2.6 0 1,0 -5.2,0M430.4,397.5a2.6,2.6 0 1,0 5.2,0a2.6,2.6 0 1,0 -5.2,0M381.1,402.5a2.6,2.6 0 1,0 5.2,0a2.6,2.6 0 1,0 -5.2,0M396.9,404.5a2.6,2.6 0 1,0 5.2,0a2.6,2.6 0 1,0 -5.2,0M405.6,401.2a2.6,2.6 0 1,0 5.2,0a2.6,2.6 0 1,0 -5.2,0M419.9,401.2a2.6,2.6 0 1,0 5.2,0a2.6,2.6 0 1,0 -5.2,0M424.9,404.5a2.6,2.6 0 1,0 5.2,0a2.6,2.6 0 1,0 -5.2,0M406.1,409.5a2.6,2.6 0 1,0 5.2,0a2.6,2.6 0 1,0 -5.2,0M481.1,410.0a2.6,2.6 0 1,0 5.2,0a2.6,2.6 0 1,0 -5.2,0M524.1,304.0a2.6,2.6 0 1,0 5.2,0a2.6,2.6 0 1,0 -5.2,0M537.4,308.2a2.6,2.6 0 1,0 5.2,0a2.6,2.6 0 1,0 -5.2,0M509.4,351.0a2.6,2.6 0 1,0 5.2,0a2.6,2.6 0 1,0 -5.2,0M562.1,359.0a2.6,2.6 0 1,0 5.2,0a2.6,2.6 0 1,0 -5.2,0M513.1,376.2a2.6,2.6 0 1,0 5.2,0a2.6,2.6 0 1,0 -5.2,0M509.4,381.2a2.6,2.6 0 1,0 5.2,0a2.6,2.6 0 1,0 -5.2,0M546.6,389.0a2.6,2.6 0 1,0 5.2,0a2.6,2.6 0 1,0 -5.2,0M524.9,395.0a2.6,2.6 0 1,0 5.2,0a2.6,2.6 0 1,0 -5.2,0M526.9,395.8a2.6,2.6 0 1,0 5.2,0a2.6,2.6 0 1,0 -5.2,0M522.4,402.5a2.6,2.6 0 1,0 5.2,0a2.6,2.6 0 1,0 -5.2,0M537.4,403.8a2.6,2.6 0 1,0 5.2,0a2.6,2.6 0 1,0 -5.2,0M385.0,392.5a2.6,2.6 0 1,0 5.2,0a2.6,2.6 0 1,0 -5.2,0M393.2,412.3a2.6,2.6 0 1,0 5.2,0a2.6,2.6 0 1,0 -5.2,0M492.0,414.3a2.6,2.6 0 1,0 5.2,0a2.6,2.6 0 1,0 -5.2,0M383.8,417.8a2.6,2.6 0 1,0 5.2,0a2.6,2.6 0 1,0 -5.2,0M410.1,418.5a2.6,2.6 0 1,0 5.2,0a2.6,2.6 0 1,0 -5.2,0M387.5,421.5a2.6,2.6 0 1,0 5.2,0a2.6,2.6 0 1,0 -5.2,0M412.3,422.3a2.6,2.6 0 1,0 5.2,0a2.6,2.6 0 1,0 -5.2,0M421.2,424.0a2.6,2.6 0 1,0 5.2,0a2.6,2.6 0 1,0 -5.2,0M469.6,421.5a2.6,2.6 0 1,0 5.2,0a2.6,2.6 0 1,0 -5.2,0M489.5,427.2a2.6,2.6 0 1,0 5.2,0a2.6,2.6 0 1,0 -5.2,0M379.5,429.7a2.6,2.6 0 1,0 5.2,0a2.6,2.6 0 1,0 -5.2,0M388.2,432.2a2.6,2.6 0 1,0 5.2,0a2.6,2.6 0 1,0 -5.2,0M399.4,432.2a2.6,2.6 0 1,0 5.2,0a2.6,2.6 0 1,0 -5.2,0M423.7,431.7a2.6,2.6 0 1,0 5.2,0a2.6,2.6 0 1,0 -5.2,0M390.0,435.2a2.6,2.6 0 1,0 5.2,0a2.6,2.6 0 1,0 -5.2,0M398.9,436.7a2.6,2.6 0 1,0 5.2,0a2.6,2.6 0 1,0 -5.2,0M482.0,437.9a2.6,2.6 0 1,0 5.2,0a2.6,2.6 0 1,0 -5.2,0M366.6,434.7a2.6,2.6 0 1,0 5.2,0a2.6,2.6 0 1,0 -5.2,0M369.6,442.1a2.6,2.6 0 1,0 5.2,0a2.6,2.6 0 1,0 -5.2,0M385.3,441.6a2.6,2.6 0 1,0 5.2,0a2.6,2.6 0 1,0 -5.2,0M411.3,440.9a2.6,2.6 0 1,0 5.2,0a2.6,2.6 0 1,0 -5.2,0M490.0,442.9a2.6,2.6 0 1,0 5.2,0a2.6,2.6 0 1,0 -5.2,0M370.1,448.8a2.6,2.6 0 1,0 5.2,0a2.6,2.6 0 1,0 -5.2,0M375.3,455.3a2.6,2.6 0 1,0 5.2,0a2.6,2.6 0 1,0 -5.2,0M524.7,433.4a2.6,2.6 0 1,0 5.2,0a2.6,2.6 0 1,0 -5.2,0M525.9,435.9a2.6,2.6 0 1,0 5.2,0a2.6,2.6 0 1,0 -5.2,0M362.7,302.2a2.6,2.6 0 1,0 5.2,0a2.6,2.6 0 1,0 -5.2,0M366.5,295.8a2.6,2.6 0 1,0 5.2,0a2.6,2.6 0 1,0 -5.2,0M365.0,297.4a2.6,2.6 0 1,0 5.2,0a2.6,2.6 0 1,0 -5.2,0M362.8,294.0a2.6,2.6 0 1,0 5.2,0a2.6,2.6 0 1,0 -5.2,0M365.1,291.0a2.6,2.6 0 1,0 5.2,0a2.6,2.6 0 1,0 -5.2,0M364.4,303.3a2.6,2.6 0 1,0 5.2,0a2.6,2.6 0 1,0 -5.2,0M363.0,306.1a2.6,2.6 0 1,0 5.2,0a2.6,2.6 0 1,0 -5.2,0M359.1,317.2a2.6,2.6 0 1,0 5.2,0a2.6,2.6 0 1,0 -5.2,0M356.6,315.6a2.6,2.6 0 1,0 5.2,0a2.6,2.6 0 1,0 -5.2,0M360.0,324.7a2.6,2.6 0 1,0 5.2,0a2.6,2.6 0 1,0 -5.2,0M363.5,340.1a2.6,2.6 0 1,0 5.2,0a2.6,2.6 0 1,0 -5.2,0M354.6,324.9a2.6,2.6 0 1,0 5.2,0a2.6,2.6 0 1,0 -5.2,0M354.8,313.1a2.6,2.6 0 1,0 5.2,0a2.6,2.6 0 1,0 -5.2,0M367.6,324.9a2.6,2.6 0 1,0 5.2,0a2.6,2.6 0 1,0 -5.2,0M359.4,309.6a2.6,2.6 0 1,0 5.2,0a2.6,2.6 0 1,0 -5.2,0M367.8,307.2a2.6,2.6 0 1,0 5.2,0a2.6,2.6 0 1,0 -5.2,0M365.3,305.7a2.6,2.6 0 1,0 5.2,0a2.6,2.6 0 1,0 -5.2,0M357.9,317.0a2.6,2.6 0 1,0 5.2,0a2.6,2.6 0 1,0 -5.2,0M372.8,331.8a2.6,2.6 0 1,0 5.2,0a2.6,2.6 0 1,0 -5.2,0M362.1,324.1a2.6,2.6 0 1,0 5.2,0a2.6,2.6 0 1,0 -5.2,0M361.9,328.6a2.6,2.6 0 1,0 5.2,0a2.6,2.6 0 1,0 -5.2,0M361.4,308.3a2.6,2.6 0 1,0 5.2,0a2.6,2.6 0 1,0 -5.2,0M352.4,311.4a2.6,2.6 0 1,0 5.2,0a2.6,2.6 0 1,0 -5.2,0M361.7,327.0a2.6,2.6 0 1,0 5.2,0a2.6,2.6 0 1,0 -5.2,0M361.3,329.5a2.6,2.6 0 1,0 5.2,0a2.6,2.6 0 1,0 -5.2,0M378.6,316.0a2.6,2.6 0 1,0 5.2,0a2.6,2.6 0 1,0 -5.2,0M357.0,340.2a2.6,2.6 0 1,0 5.2,0a2.6,2.6 0 1,0 -5.2,0M370.1,338.7a2.6,2.6 0 1,0 5.2,0a2.6,2.6 0 1,0 -5.2,0M354.4,318.3a2.6,2.6 0 1,0 5.2,0a2.6,2.6 0 1,0 -5.2,0M354.3,321.6a2.6,2.6 0 1,0 5.2,0a2.6,2.6 0 1,0 -5.2,0M360.4,306.0a2.6,2.6 0 1,0 5.2,0a2.6,2.6 0 1,0 -5.2,0M362.7,342.0a2.6,2.6 0 1,0 5.2,0a2.6,2.6 0 1,0 -5.2,0M348.1,342.5a2.6,2.6 0 1,0 5.2,0a2.6,2.6 0 1,0 -5.2,0M368.7,324.9a2.6,2.6 0 1,0 5.2,0a2.6,2.6 0 1,0 -5.2,0M367.8,334.7a2.6,2.6 0 1,0 5.2,0a2.6,2.6 0 1,0 -5.2,0M362.6,332.6a2.6,2.6 0 1,0 5.2,0a2.6,2.6 0 1,0 -5.2,0M355.8,323.2a2.6,2.6 0 1,0 5.2,0a2.6,2.6 0 1,0 -5.2,0M364.3,309.3a2.6,2.6 0 1,0 5.2,0a2.6,2.6 0 1,0 -5.2,0M355.5,305.5a2.6,2.6 0 1,0 5.2,0a2.6,2.6 0 1,0 -5.2,0M361.6,315.1a2.6,2.6 0 1,0 5.2,0a2.6,2.6 0 1,0 -5.2,0M351.5,329.0a2.6,2.6 0 1,0 5.2,0a2.6,2.6 0 1,0 -5.2,0M363.1,327.9a2.6,2.6 0 1,0 5.2,0a2.6,2.6 0 1,0 -5.2,0M364.5,334.2a2.6,2.6 0 1,0 5.2,0a2.6,2.6 0 1,0 -5.2,0M360.2,309.6a2.6,2.6 0 1,0 5.2,0a2.6,2.6 0 1,0 -5.2,0M357.7,311.6a2.6,2.6 0 1,0 5.2,0a2.6,2.6 0 1,0 -5.2,0M363.0,332.9a2.6,2.6 0 1,0 5.2,0a2.6,2.6 0 1,0 -5.2,0M362.0,322.6a2.6,2.6 0 1,0 5.2,0a2.6,2.6 0 1,0 -5.2,0M363.2,325.7a2.6,2.6 0 1,0 5.2,0a2.6,2.6 0 1,0 -5.2,0M362.9,324.9a2.6,2.6 0 1,0 5.2,0a2.6,2.6 0 1,0 -5.2,0M353.4,332.9a2.6,2.6 0 1,0 5.2,0a2.6,2.6 0 1,0 -5.2,0M351.3,332.9a2.6,2.6 0 1,0 5.2,0a2.6,2.6 0 1,0 -5.2,0M361.8,340.4a2.6,2.6 0 1,0 5.2,0a2.6,2.6 0 1,0 -5.2,0M365.2,337.8a2.6,2.6 0 1,0 5.2,0a2.6,2.6 0 1,0 -5.2,0M368.5,327.1a2.6,2.6 0 1,0 5.2,0a2.6,2.6 0 1,0 -5.2,0M367.9,328.9a2.6,2.6 0 1,0 5.2,0a2.6,2.6 0 1,0 -5.2,0M365.4,315.1a2.6,2.6 0 1,0 5.2,0a2.6,2.6 0 1,0 -5.2,0M367.5,333.7a2.6,2.6 0 1,0 5.2,0a2.6,2.6 0 1,0 -5.2,0M357.2,306.9a2.6,2.6 0 1,0 5.2,0a2.6,2.6 0 1,0 -5.2,0M355.1,341.9a2.6,2.6 0 1,0 5.2,0a2.6,2.6 0 1,0 -5.2,0M362.3,335.7a2.6,2.6 0 1,0 5.2,0a2.6,2.6 0 1,0 -5.2,0M356.9,335.2a2.6,2.6 0 1,0 5.2,0a2.6,2.6 0 1,0 -5.2,0M350.1,342.9a2.6,2.6 0 1,0 5.2,0a2.6,2.6 0 1,0 -5.2,0M362.1,343.4a2.6,2.6 0 1,0 5.2,0a2.6,2.6 0 1,0 -5.2,0M363.9,358.5a2.6,2.6 0 1,0 5.2,0a2.6,2.6 0 1,0 -5.2,0M357.3,346.6a2.6,2.6 0 1,0 5.2,0a2.6,2.6 0 1,0 -5.2,0M360.9,368.5a2.6,2.6 0 1,0 5.2,0a2.6,2.6 0 1,0 -5.2,0M361.3,371.5a2.6,2.6 0 1,0 5.2,0a2.6,2.6 0 1,0 -5.2,0M351.6,373.2a2.6,2.6 0 1,0 5.2,0a2.6,2.6 0 1,0 -5.2,0M358.0,355.4a2.6,2.6 0 1,0 5.2,0a2.6,2.6 0 1,0 -5.2,0M353.3,355.3a2.6,2.6 0 1,0 5.2,0a2.6,2.6 0 1,0 -5.2,0M358.7,369.9a2.6,2.6 0 1,0 5.2,0a2.6,2.6 0 1,0 -5.2,0M359.1,342.5a2.6,2.6 0 1,0 5.2,0a2.6,2.6 0 1,0 -5.2,0M351.8,355.3a2.6,2.6 0 1,0 5.2,0a2.6,2.6 0 1,0 -5.2,0M362.6,347.2a2.6,2.6 0 1,0 5.2,0a2.6,2.6 0 1,0 -5.2,0M370.3,367.9a2.6,2.6 0 1,0 5.2,0a2.6,2.6 0 1,0 -5.2,0M356.4,367.9a2.6,2.6 0 1,0 5.2,0a2.6,2.6 0 1,0 -5.2,0M355.2,367.5a2.6,2.6 0 1,0 5.2,0a2.6,2.6 0 1,0 -5.2,0M350.4,374.9a2.6,2.6 0 1,0 5.2,0a2.6,2.6 0 1,0 -5.2,0M364.9,350.5a2.6,2.6 0 1,0 5.2,0a2.6,2.6 0 1,0 -5.2,0M370.6,370.0a2.6,2.6 0 1,0 5.2,0a2.6,2.6 0 1,0 -5.2,0M352.7,351.6a2.6,2.6 0 1,0 5.2,0a2.6,2.6 0 1,0 -5.2,0M367.3,363.1a2.6,2.6 0 1,0 5.2,0a2.6,2.6 0 1,0 -5.2,0M362.9,364.5a2.6,2.6 0 1,0 5.2,0a2.6,2.6 0 1,0 -5.2,0M370.2,359.2a2.6,2.6 0 1,0 5.2,0a2.6,2.6 0 1,0 -5.2,0M364.6,370.4a2.6,2.6 0 1,0 5.2,0a2.6,2.6 0 1,0 -5.2,0M363.4,365.4a2.6,2.6 0 1,0 5.2,0a2.6,2.6 0 1,0 -5.2,0M347.5,359.9a2.6,2.6 0 1,0 5.2,0a2.6,2.6 0 1,0 -5.2,0M358.6,345.8a2.6,2.6 0 1,0 5.2,0a2.6,2.6 0 1,0 -5.2,0M364.5,351.3a2.6,2.6 0 1,0 5.2,0a2.6,2.6 0 1,0 -5.2,0M362.1,346.3a2.6,2.6 0 1,0 5.2,0a2.6,2.6 0 1,0 -5.2,0M364.6,346.5a2.6,2.6 0 1,0 5.2,0a2.6,2.6 0 1,0 -5.2,0M351.8,348.9a2.6,2.6 0 1,0 5.2,0a2.6,2.6 0 1,0 -5.2,0M353.4,346.3a2.6,2.6 0 1,0 5.2,0a2.6,2.6 0 1,0 -5.2,0M364.0,354.3a2.6,2.6 0 1,0 5.2,0a2.6,2.6 0 1,0 -5.2,0M358.2,362.5a2.6,2.6 0 1,0 5.2,0a2.6,2.6 0 1,0 -5.2,0M353.8,368.9a2.6,2.6 0 1,0 5.2,0a2.6,2.6 0 1,0 -5.2,0M363.8,369.0a2.6,2.6 0 1,0 5.2,0a2.6,2.6 0 1,0 -5.2,0M362.0,359.6a2.6,2.6 0 1,0 5.2,0a2.6,2.6 0 1,0 -5.2,0M363.8,345.9a2.6,2.6 0 1,0 5.2,0a2.6,2.6 0 1,0 -5.2,0M366.3,374.9a2.6,2.6 0 1,0 5.2,0a2.6,2.6 0 1,0 -5.2,0M350.9,373.9a2.6,2.6 0 1,0 5.2,0a2.6,2.6 0 1,0 -5.2,0M348.3,361.2a2.6,2.6 0 1,0 5.2,0a2.6,2.6 0 1,0 -5.2,0M359.1,357.6a2.6,2.6 0 1,0 5.2,0a2.6,2.6 0 1,0 -5.2,0M368.1,372.8a2.6,2.6 0 1,0 5.2,0a2.6,2.6 0 1,0 -5.2,0M358.7,344.4a2.6,2.6 0 1,0 5.2,0a2.6,2.6 0 1,0 -5.2,0M375.6,356.3a2.6,2.6 0 1,0 5.2,0a2.6,2.6 0 1,0 -5.2,0M353.2,350.2a2.6,2.6 0 1,0 5.2,0a2.6,2.6 0 1,0 -5.2,0M364.0,356.7a2.6,2.6 0 1,0 5.2,0a2.6,2.6 0 1,0 -5.2,0M359.6,353.7a2.6,2.6 0 1,0 5.2,0a2.6,2.6 0 1,0 -5.2,0M364.3,345.6a2.6,2.6 0 1,0 5.2,0a2.6,2.6 0 1,0 -5.2,0M361.0,351.2a2.6,2.6 0 1,0 5.2,0a2.6,2.6 0 1,0 -5.2,0M361.6,374.1a2.6,2.6 0 1,0 5.2,0a2.6,2.6 0 1,0 -5.2,0M359.4,344.8a2.6,2.6 0 1,0 5.2,0a2.6,2.6 0 1,0 -5.2,0M350.7,373.7a2.6,2.6 0 1,0 5.2,0a2.6,2.6 0 1,0 -5.2,0M359.8,346.6a2.6,2.6 0 1,0 5.2,0a2.6,2.6 0 1,0 -5.2,0M360.1,357.3a2.6,2.6 0 1,0 5.2,0a2.6,2.6 0 1,0 -5.2,0M363.0,344.3a2.6,2.6 0 1,0 5.2,0a2.6,2.6 0 1,0 -5.2,0M356.9,372.9a2.6,2.6 0 1,0 5.2,0a2.6,2.6 0 1,0 -5.2,0M360.7,343.4a2.6,2.6 0 1,0 5.2,0a2.6,2.6 0 1,0 -5.2,0M362.1,352.6a2.6,2.6 0 1,0 5.2,0a2.6,2.6 0 1,0 -5.2,0M362.8,349.4a2.6,2.6 0 1,0 5.2,0a2.6,2.6 0 1,0 -5.2,0M358.3,361.5a2.6,2.6 0 1,0 5.2,0a2.6,2.6 0 1,0 -5.2,0M354.1,342.9a2.6,2.6 0 1,0 5.2,0a2.6,2.6 0 1,0 -5.2,0M363.6,352.3a2.6,2.6 0 1,0 5.2,0a2.6,2.6 0 1,0 -5.2,0M358.5,373.2a2.6,2.6 0 1,0 5.2,0a2.6,2.6 0 1,0 -5.2,0M357.1,359.9a2.6,2.6 0 1,0 5.2,0a2.6,2.6 0 1,0 -5.2,0M375.8,370.5a2.6,2.6 0 1,0 5.2,0a2.6,2.6 0 1,0 -5.2,0M364.5,342.5a2.6,2.6 0 1,0 5.2,0a2.6,2.6 0 1,0 -5.2,0M368.3,357.5a2.6,2.6 0 1,0 5.2,0a2.6,2.6 0 1,0 -5.2,0M355.6,344.7a2.6,2.6 0 1,0 5.2,0a2.6,2.6 0 1,0 -5.2,0M362.4,345.9a2.6,2.6 0 1,0 5.2,0a2.6,2.6 0 1,0 -5.2,0M362.6,343.7a2.6,2.6 0 1,0 5.2,0a2.6,2.6 0 1,0 -5.2,0M372.4,345.0a2.6,2.6 0 1,0 5.2,0a2.6,2.6 0 1,0 -5.2,0M364.5,351.7a2.6,2.6 0 1,0 5.2,0a2.6,2.6 0 1,0 -5.2,0M352.5,369.0a2.6,2.6 0 1,0 5.2,0a2.6,2.6 0 1,0 -5.2,0M405.4,350.1a2.6,2.6 0 1,0 5.2,0a2.6,2.6 0 1,0 -5.2,0M361.2,372.3a2.6,2.6 0 1,0 5.2,0a2.6,2.6 0 1,0 -5.2,0M357.8,349.5a2.6,2.6 0 1,0 5.2,0a2.6,2.6 0 1,0 -5.2,0M360.6,345.4a2.6,2.6 0 1,0 5.2,0a2.6,2.6 0 1,0 -5.2,0M369.0,346.2a2.6,2.6 0 1,0 5.2,0a2.6,2.6 0 1,0 -5.2,0M359.9,361.0a2.6,2.6 0 1,0 5.2,0a2.6,2.6 0 1,0 -5.2,0M357.7,365.4a2.6,2.6 0 1,0 5.2,0a2.6,2.6 0 1,0 -5.2,0M373.3,359.2a2.6,2.6 0 1,0 5.2,0a2.6,2.6 0 1,0 -5.2,0M360.4,356.2a2.6,2.6 0 1,0 5.2,0a2.6,2.6 0 1,0 -5.2,0M348.8,369.2a2.6,2.6 0 1,0 5.2,0a2.6,2.6 0 1,0 -5.2,0M366.1,342.5a2.6,2.6 0 1,0 5.2,0a2.6,2.6 0 1,0 -5.2,0M363.4,376.3a2.6,2.6 0 1,0 5.2,0a2.6,2.6 0 1,0 -5.2,0M364.1,375.7a2.6,2.6 0 1,0 5.2,0a2.6,2.6 0 1,0 -5.2,0M349.3,382.8a2.6,2.6 0 1,0 5.2,0a2.6,2.6 0 1,0 -5.2,0M357.6,404.7a2.6,2.6 0 1,0 5.2,0a2.6,2.6 0 1,0 -5.2,0M361.1,409.0a2.6,2.6 0 1,0 5.2,0a2.6,2.6 0 1,0 -5.2,0M357.5,387.9a2.6,2.6 0 1,0 5.2,0a2.6,2.6 0 1,0 -5.2,0M358.1,377.3a2.6,2.6 0 1,0 5.2,0a2.6,2.6 0 1,0 -5.2,0M366.8,409.6a2.6,2.6 0 1,0 5.2,0a2.6,2.6 0 1,0 -5.2,0M361.2,405.0a2.6,2.6 0 1,0 5.2,0a2.6,2.6 0 1,0 -5.2,0M346.6,382.0a2.6,2.6 0 1,0 5.2,0a2.6,2.6 0 1,0 -5.2,0M356.3,391.5a2.6,2.6 0 1,0 5.2,0a2.6,2.6 0 1,0 -5.2,0M364.5,401.1a2.6,2.6 0 1,0 5.2,0a2.6,2.6 0 1,0 -5.2,0M365.3,384.4a2.6,2.6 0 1,0 5.2,0a2.6,2.6 0 1,0 -5.2,0M359.9,389.4a2.6,2.6 0 1,0 5.2,0a2.6,2.6 0 1,0 -5.2,0M364.5,386.2a2.6,2.6 0 1,0 5.2,0a2.6,2.6 0 1,0 -5.2,0M360.4,380.4a2.6,2.6 0 1,0 5.2,0a2.6,2.6 0 1,0 -5.2,0M359.1,409.6a2.6,2.6 0 1,0 5.2,0a2.6,2.6 0 1,0 -5.2,0M367.7,407.9a2.6,2.6 0 1,0 5.2,0a2.6,2.6 0 1,0 -5.2,0M352.1,398.5a2.6,2.6 0 1,0 5.2,0a2.6,2.6 0 1,0 -5.2,0M357.0,407.8a2.6,2.6 0 1,0 5.2,0a2.6,2.6 0 1,0 -5.2,0M356.8,400.3a2.6,2.6 0 1,0 5.2,0a2.6,2.6 0 1,0 -5.2,0M356.3,405.7a2.6,2.6 0 1,0 5.2,0a2.6,2.6 0 1,0 -5.2,0M357.4,395.1a2.6,2.6 0 1,0 5.2,0a2.6,2.6 0 1,0 -5.2,0M360.4,377.6a2.6,2.6 0 1,0 5.2,0a2.6,2.6 0 1,0 -5.2,0M366.9,390.4a2.6,2.6 0 1,0 5.2,0a2.6,2.6 0 1,0 -5.2,0M346.8,401.6a2.6,2.6 0 1,0 5.2,0a2.6,2.6 0 1,0 -5.2,0M353.5,402.9a2.6,2.6 0 1,0 5.2,0a2.6,2.6 0 1,0 -5.2,0M358.4,386.1a2.6,2.6 0 1,0 5.2,0a2.6,2.6 0 1,0 -5.2,0M364.7,387.6a2.6,2.6 0 1,0 5.2,0a2.6,2.6 0 1,0 -5.2,0M352.4,379.0a2.6,2.6 0 1,0 5.2,0a2.6,2.6 0 1,0 -5.2,0M376.1,381.6a2.6,2.6 0 1,0 5.2,0a2.6,2.6 0 1,0 -5.2,0M355.8,386.5a2.6,2.6 0 1,0 5.2,0a2.6,2.6 0 1,0 -5.2,0M348.4,391.9a2.6,2.6 0 1,0 5.2,0a2.6,2.6 0 1,0 -5.2,0M363.4,403.4a2.6,2.6 0 1,0 5.2,0a2.6,2.6 0 1,0 -5.2,0M358.6,384.4a2.6,2.6 0 1,0 5.2,0a2.6,2.6 0 1,0 -5.2,0M353.0,402.6a2.6,2.6 0 1,0 5.2,0a2.6,2.6 0 1,0 -5.2,0M357.9,381.2a2.6,2.6 0 1,0 5.2,0a2.6,2.6 0 1,0 -5.2,0M349.5,388.0a2.6,2.6 0 1,0 5.2,0a2.6,2.6 0 1,0 -5.2,0M360.6,396.9a2.6,2.6 0 1,0 5.2,0a2.6,2.6 0 1,0 -5.2,0M359.7,390.4a2.6,2.6 0 1,0 5.2,0a2.6,2.6 0 1,0 -5.2,0M355.3,395.0a2.6,2.6 0 1,0 5.2,0a2.6,2.6 0 1,0 -5.2,0M364.0,384.3a2.6,2.6 0 1,0 5.2,0a2.6,2.6 0 1,0 -5.2,0M386.2,380.4a2.6,2.6 0 1,0 5.2,0a2.6,2.6 0 1,0 -5.2,0M352.1,400.6a2.6,2.6 0 1,0 5.2,0a2.6,2.6 0 1,0 -5.2,0M365.8,404.8a2.6,2.6 0 1,0 5.2,0a2.6,2.6 0 1,0 -5.2,0M351.9,376.2a2.6,2.6 0 1,0 5.2,0a2.6,2.6 0 1,0 -5.2,0M358.7,395.0a2.6,2.6 0 1,0 5.2,0a2.6,2.6 0 1,0 -5.2,0M361.0,375.8a2.6,2.6 0 1,0 5.2,0a2.6,2.6 0 1,0 -5.2,0M356.6,379.1a2.6,2.6 0 1,0 5.2,0a2.6,2.6 0 1,0 -5.2,0M362.8,404.5a2.6,2.6 0 1,0 5.2,0a2.6,2.6 0 1,0 -5.2,0M363.5,395.2a2.6,2.6 0 1,0 5.2,0a2.6,2.6 0 1,0 -5.2,0M365.4,403.1a2.6,2.6 0 1,0 5.2,0a2.6,2.6 0 1,0 -5.2,0M351.9,400.4a2.6,2.6 0 1,0 5.2,0a2.6,2.6 0 1,0 -5.2,0M362.0,398.4a2.6,2.6 0 1,0 5.2,0a2.6,2.6 0 1,0 -5.2,0M356.5,400.8a2.6,2.6 0 1,0 5.2,0a2.6,2.6 0 1,0 -5.2,0M359.6,380.1a2.6,2.6 0 1,0 5.2,0a2.6,2.6 0 1,0 -5.2,0M359.7,394.7a2.6,2.6 0 1,0 5.2,0a2.6,2.6 0 1,0 -5.2,0M350.0,380.2a2.6,2.6 0 1,0 5.2,0a2.6,2.6 0 1,0 -5.2,0M361.6,382.0a2.6,2.6 0 1,0 5.2,0a2.6,2.6 0 1,0 -5.2,0M358.6,401.1a2.6,2.6 0 1,0 5.2,0a2.6,2.6 0 1,0 -5.2,0M362.0,388.7a2.6,2.6 0 1,0 5.2,0a2.6,2.6 0 1,0 -5.2,0M366.9,386.6a2.6,2.6 0 1,0 5.2,0a2.6,2.6 0 1,0 -5.2,0M351.1,377.1a2.6,2.6 0 1,0 5.2,0a2.6,2.6 0 1,0 -5.2,0M365.0,383.0a2.6,2.6 0 1,0 5.2,0a2.6,2.6 0 1,0 -5.2,0M357.8,388.7a2.6,2.6 0 1,0 5.2,0a2.6,2.6 0 1,0 -5.2,0M357.9,402.6a2.6,2.6 0 1,0 5.2,0a2.6,2.6 0 1,0 -5.2,0M348.2,375.1a2.6,2.6 0 1,0 5.2,0a2.6,2.6 0 1,0 -5.2,0M357.7,396.0a2.6,2.6 0 1,0 5.2,0a2.6,2.6 0 1,0 -5.2,0M352.9,410.0a2.6,2.6 0 1,0 5.2,0a2.6,2.6 0 1,0 -5.2,0M356.7,409.6a2.6,2.6 0 1,0 5.2,0a2.6,2.6 0 1,0 -5.2,0M351.0,397.7a2.6,2.6 0 1,0 5.2,0a2.6,2.6 0 1,0 -5.2,0M358.1,404.2a2.6,2.6 0 1,0 5.2,0a2.6,2.6 0 1,0 -5.2,0M358.7,391.6a2.6,2.6 0 1,0 5.2,0a2.6,2.6 0 1,0 -5.2,0M358.8,376.5a2.6,2.6 0 1,0 5.2,0a2.6,2.6 0 1,0 -5.2,0M357.3,379.7a2.6,2.6 0 1,0 5.2,0a2.6,2.6 0 1,0 -5.2,0M350.3,399.6a2.6,2.6 0 1,0 5.2,0a2.6,2.6 0 1,0 -5.2,0M365.4,376.6a2.6,2.6 0 1,0 5.2,0a2.6,2.6 0 1,0 -5.2,0M357.9,407.7a2.6,2.6 0 1,0 5.2,0a2.6,2.6 0 1,0 -5.2,0M366.8,391.8a2.6,2.6 0 1,0 5.2,0a2.6,2.6 0 1,0 -5.2,0M361.2,402.7a2.6,2.6 0 1,0 5.2,0a2.6,2.6 0 1,0 -5.2,0M348.6,389.6a2.6,2.6 0 1,0 5.2,0a2.6,2.6 0 1,0 -5.2,0M356.4,386.2a2.6,2.6 0 1,0 5.2,0a2.6,2.6 0 1,0 -5.2,0M364.3,393.2a2.6,2.6 0 1,0 5.2,0a2.6,2.6 0 1,0 -5.2,0M353.0,402.2a2.6,2.6 0 1,0 5.2,0a2.6,2.6 0 1,0 -5.2,0M376.0,399.2a2.6,2.6 0 1,0 5.2,0a2.6,2.6 0 1,0 -5.2,0M363.1,389.3a2.6,2.6 0 1,0 5.2,0a2.6,2.6 0 1,0 -5.2,0M358.2,393.2a2.6,2.6 0 1,0 5.2,0a2.6,2.6 0 1,0 -5.2,0M361.5,392.1a2.6,2.6 0 1,0 5.2,0a2.6,2.6 0 1,0 -5.2,0M360.5,379.5a2.6,2.6 0 1,0 5.2,0a2.6,2.6 0 1,0 -5.2,0M359.8,406.4a2.6,2.6 0 1,0 5.2,0a2.6,2.6 0 1,0 -5.2,0M352.6,416.2a2.6,2.6 0 1,0 5.2,0a2.6,2.6 0 1,0 -5.2,0M352.9,422.6a2.6,2.6 0 1,0 5.2,0a2.6,2.6 0 1,0 -5.2,0M358.9,437.3a2.6,2.6 0 1,0 5.2,0a2.6,2.6 0 1,0 -5.2,0M353.5,420.2a2.6,2.6 0 1,0 5.2,0a2.6,2.6 0 1,0 -5.2,0M344.8,437.8a2.6,2.6 0 1,0 5.2,0a2.6,2.6 0 1,0 -5.2,0M350.6,439.8a2.6,2.6 0 1,0 5.2,0a2.6,2.6 0 1,0 -5.2,0M357.6,426.1a2.6,2.6 0 1,0 5.2,0a2.6,2.6 0 1,0 -5.2,0M351.6,412.6a2.6,2.6 0 1,0 5.2,0a2.6,2.6 0 1,0 -5.2,0M350.5,428.2a2.6,2.6 0 1,0 5.2,0a2.6,2.6 0 1,0 -5.2,0M348.8,438.9a2.6,2.6 0 1,0 5.2,0a2.6,2.6 0 1,0 -5.2,0M357.5,421.7a2.6,2.6 0 1,0 5.2,0a2.6,2.6 0 1,0 -5.2,0M355.3,439.1a2.6,2.6 0 1,0 5.2,0a2.6,2.6 0 1,0 -5.2,0M352.9,442.9a2.6,2.6 0 1,0 5.2,0a2.6,2.6 0 1,0 -5.2,0M350.1,415.5a2.6,2.6 0 1,0 5.2,0a2.6,2.6 0 1,0 -5.2,0M353.8,444.0a2.6,2.6 0 1,0 5.2,0a2.6,2.6 0 1,0 -5.2,0M354.9,420.7a2.6,2.6 0 1,0 5.2,0a2.6,2.6 0 1,0 -5.2,0M350.6,437.2a2.6,2.6 0 1,0 5.2,0a2.6,2.6 0 1,0 -5.2,0M354.5,436.9a2.6,2.6 0 1,0 5.2,0a2.6,2.6 0 1,0 -5.2,0M356.6,413.7a2.6,2.6 0 1,0 5.2,0a2.6,2.6 0 1,0 -5.2,0M350.0,414.3a2.6,2.6 0 1,0 5.2,0a2.6,2.6 0 1,0 -5.2,0M357.3,429.9a2.6,2.6 0 1,0 5.2,0a2.6,2.6 0 1,0 -5.2,0M359.5,433.2a2.6,2.6 0 1,0 5.2,0a2.6,2.6 0 1,0 -5.2,0M353.0,435.8a2.6,2.6 0 1,0 5.2,0a2.6,2.6 0 1,0 -5.2,0M350.2,410.0a2.6,2.6 0 1,0 5.2,0a2.6,2.6 0 1,0 -5.2,0M346.6,441.3a2.6,2.6 0 1,0 5.2,0a2.6,2.6 0 1,0 -5.2,0M355.7,425.4a2.6,2.6 0 1,0 5.2,0a2.6,2.6 0 1,0 -5.2,0M349.4,414.6a2.6,2.6 0 1,0 5.2,0a2.6,2.6 0 1,0 -5.2,0M356.4,438.0a2.6,2.6 0 1,0 5.2,0a2.6,2.6 0 1,0 -5.2,0M361.4,444.5a2.6,2.6 0 1,0 5.2,0a2.6,2.6 0 1,0 -5.2,0M350.2,436.6a2.6,2.6 0 1,0 5.2,0a2.6,2.6 0 1,0 -5.2,0M350.5,405.0a2.6,2.6 0 1,0 5.2,0a2.6,2.6 0 1,0 -5.2,0M358.9,418.3a2.6,2.6 0 1,0 5.2,0a2.6,2.6 0 1,0 -5.2,0M345.1,434.3a2.6,2.6 0 1,0 5.2,0a2.6,2.6 0 1,0 -5.2,0M361.9,437.8a2.6,2.6 0 1,0 5.2,0a2.6,2.6 0 1,0 -5.2,0M347.9,417.9a2.6,2.6 0 1,0 5.2,0a2.6,2.6 0 1,0 -5.2,0M373.1,408.7a2.6,2.6 0 1,0 5.2,0a2.6,2.6 0 1,0 -5.2,0M352.0,426.9a2.6,2.6 0 1,0 5.2,0a2.6,2.6 0 1,0 -5.2,0M354.5,411.0a2.6,2.6 0 1,0 5.2,0a2.6,2.6 0 1,0 -5.2,0M352.1,437.3a2.6,2.6 0 1,0 5.2,0a2.6,2.6 0 1,0 -5.2,0M355.1,442.5a2.6,2.6 0 1,0 5.2,0a2.6,2.6 0 1,0 -5.2,0M351.8,424.5a2.6,2.6 0 1,0 5.2,0a2.6,2.6 0 1,0 -5.2,0M356.5,424.5a2.6,2.6 0 1,0 5.2,0a2.6,2.6 0 1,0 -5.2,0M361.1,418.0a2.6,2.6 0 1,0 5.2,0a2.6,2.6 0 1,0 -5.2,0M351.7,440.9a2.6,2.6 0 1,0 5.2,0a2.6,2.6 0 1,0 -5.2,0M344.1,421.9a2.6,2.6 0 1,0 5.2,0a2.6,2.6 0 1,0 -5.2,0M356.5,425.9a2.6,2.6 0 1,0 5.2,0a2.6,2.6 0 1,0 -5.2,0M359.8,424.0a2.6,2.6 0 1,0 5.2,0a2.6,2.6 0 1,0 -5.2,0M348.1,433.4a2.6,2.6 0 1,0 5.2,0a2.6,2.6 0 1,0 -5.2,0M356.7,415.0a2.6,2.6 0 1,0 5.2,0a2.6,2.6 0 1,0 -5.2,0M355.8,413.5a2.6,2.6 0 1,0 5.2,0a2.6,2.6 0 1,0 -5.2,0M353.0,427.7a2.6,2.6 0 1,0 5.2,0a2.6,2.6 0 1,0 -5.2,0M350.6,426.2a2.6,2.6 0 1,0 5.2,0a2.6,2.6 0 1,0 -5.2,0M356.5,418.3a2.6,2.6 0 1,0 5.2,0a2.6,2.6 0 1,0 -5.2,0M345.7,422.8a2.6,2.6 0 1,0 5.2,0a2.6,2.6 0 1,0 -5.2,0M348.1,417.7a2.6,2.6 0 1,0 5.2,0a2.6,2.6 0 1,0 -5.2,0M393.0,423.4a2.6,2.6 0 1,0 5.2,0a2.6,2.6 0 1,0 -5.2,0M350.2,408.0a2.6,2.6 0 1,0 5.2,0a2.6,2.6 0 1,0 -5.2,0M348.7,424.2a2.6,2.6 0 1,0 5.2,0a2.6,2.6 0 1,0 -5.2,0M364.2,418.4a2.6,2.6 0 1,0 5.2,0a2.6,2.6 0 1,0 -5.2,0M347.1,421.6a2.6,2.6 0 1,0 5.2,0a2.6,2.6 0 1,0 -5.2,0M363.4,409.2a2.6,2.6 0 1,0 5.2,0a2.6,2.6 0 1,0 -5.2,0M350.7,405.1a2.6,2.6 0 1,0 5.2,0a2.6,2.6 0 1,0 -5.2,0M352.2,416.2a2.6,2.6 0 1,0 5.2,0a2.6,2.6 0 1,0 -5.2,0M354.3,411.4a2.6,2.6 0 1,0 5.2,0a2.6,2.6 0 1,0 -5.2,0M359.1,430.8a2.6,2.6 0 1,0 5.2,0a2.6,2.6 0 1,0 -5.2,0M363.9,427.3a2.6,2.6 0 1,0 5.2,0a2.6,2.6 0 1,0 -5.2,0M353.2,412.0a2.6,2.6 0 1,0 5.2,0a2.6,2.6 0 1,0 -5.2,0M360.4,442.9a2.6,2.6 0 1,0 5.2,0a2.6,2.6 0 1,0 -5.2,0M353.3,425.1a2.6,2.6 0 1,0 5.2,0a2.6,2.6 0 1,0 -5.2,0M348.2,415.7a2.6,2.6 0 1,0 5.2,0a2.6,2.6 0 1,0 -5.2,0M348.5,417.4a2.6,2.6 0 1,0 5.2,0a2.6,2.6 0 1,0 -5.2,0M348.3,443.9a2.6,2.6 0 1,0 5.2,0a2.6,2.6 0 1,0 -5.2,0M360.8,413.6a2.6,2.6 0 1,0 5.2,0a2.6,2.6 0 1,0 -5.2,0M355.6,407.4a2.6,2.6 0 1,0 5.2,0a2.6,2.6 0 1,0 -5.2,0M347.0,436.2a2.6,2.6 0 1,0 5.2,0a2.6,2.6 0 1,0 -5.2,0M359.0,411.6a2.6,2.6 0 1,0 5.2,0a2.6,2.6 0 1,0 -5.2,0M346.0,418.9a2.6,2.6 0 1,0 5.2,0a2.6,2.6 0 1,0 -5.2,0M356.1,415.4a2.6,2.6 0 1,0 5.2,0a2.6,2.6 0 1,0 -5.2,0M356.8,417.2a2.6,2.6 0 1,0 5.2,0a2.6,2.6 0 1,0 -5.2,0M348.9,435.6a2.6,2.6 0 1,0 5.2,0a2.6,2.6 0 1,0 -5.2,0M365.7,428.5a2.6,2.6 0 1,0 5.2,0a2.6,2.6 0 1,0 -5.2,0M351.9,443.2a2.6,2.6 0 1,0 5.2,0a2.6,2.6 0 1,0 -5.2,0M344.6,423.6a2.6,2.6 0 1,0 5.2,0a2.6,2.6 0 1,0 -5.2,0M360.8,413.6a2.6,2.6 0 1,0 5.2,0a2.6,2.6 0 1,0 -5.2,0M352.0,432.6a2.6,2.6 0 1,0 5.2,0a2.6,2.6 0 1,0 -5.2,0M370.3,432.6a2.6,2.6 0 1,0 5.2,0a2.6,2.6 0 1,0 -5.2,0M355.3,405.8a2.6,2.6 0 1,0 5.2,0a2.6,2.6 0 1,0 -5.2,0M359.6,437.6a2.6,2.6 0 1,0 5.2,0a2.6,2.6 0 1,0 -5.2,0M353.8,431.9a2.6,2.6 0 1,0 5.2,0a2.6,2.6 0 1,0 -5.2,0M364.1,409.7a2.6,2.6 0 1,0 5.2,0a2.6,2.6 0 1,0 -5.2,0M347.4,433.1a2.6,2.6 0 1,0 5.2,0a2.6,2.6 0 1,0 -5.2,0M358.6,420.3a2.6,2.6 0 1,0 5.2,0a2.6,2.6 0 1,0 -5.2,0M383.9,444.2a2.6,2.6 0 1,0 5.2,0a2.6,2.6 0 1,0 -5.2,0M346.1,421.5a2.6,2.6 0 1,0 5.2,0a2.6,2.6 0 1,0 -5.2,0M353.0,413.3a2.6,2.6 0 1,0 5.2,0a2.6,2.6 0 1,0 -5.2,0M377.5,432.8a2.6,2.6 0 1,0 5.2,0a2.6,2.6 0 1,0 -5.2,0M344.9,407.2a2.6,2.6 0 1,0 5.2,0a2.6,2.6 0 1,0 -5.2,0M354.4,427.6a2.6,2.6 0 1,0 5.2,0a2.6,2.6 0 1,0 -5.2,0M379.5,435.4a2.6,2.6 0 1,0 5.2,0a2.6,2.6 0 1,0 -5.2,0M361.6,421.6a2.6,2.6 0 1,0 5.2,0a2.6,2.6 0 1,0 -5.2,0M353.2,414.3a2.6,2.6 0 1,0 5.2,0a2.6,2.6 0 1,0 -5.2,0M360.2,410.7a2.6,2.6 0 1,0 5.2,0a2.6,2.6 0 1,0 -5.2,0M377.8,424.3a2.6,2.6 0 1,0 5.2,0a2.6,2.6 0 1,0 -5.2,0M354.2,430.4a2.6,2.6 0 1,0 5.2,0a2.6,2.6 0 1,0 -5.2,0M357.3,416.0a2.6,2.6 0 1,0 5.2,0a2.6,2.6 0 1,0 -5.2,0M348.2,457.1a2.6,2.6 0 1,0 5.2,0a2.6,2.6 0 1,0 -5.2,0M354.2,453.6a2.6,2.6 0 1,0 5.2,0a2.6,2.6 0 1,0 -5.2,0M351.9,444.1a2.6,2.6 0 1,0 5.2,0a2.6,2.6 0 1,0 -5.2,0M354.1,442.9a2.6,2.6 0 1,0 5.2,0a2.6,2.6 0 1,0 -5.2,0M346.6,457.0a2.6,2.6 0 1,0 5.2,0a2.6,2.6 0 1,0 -5.2,0M349.9,457.7a2.6,2.6 0 1,0 5.2,0a2.6,2.6 0 1,0 -5.2,0M349.7,473.6a2.6,2.6 0 1,0 5.2,0a2.6,2.6 0 1,0 -5.2,0M348.9,460.0a2.6,2.6 0 1,0 5.2,0a2.6,2.6 0 1,0 -5.2,0M345.8,440.1a2.6,2.6 0 1,0 5.2,0a2.6,2.6 0 1,0 -5.2,0M347.7,440.6a2.6,2.6 0 1,0 5.2,0a2.6,2.6 0 1,0 -5.2,0M345.3,451.1a2.6,2.6 0 1,0 5.2,0a2.6,2.6 0 1,0 -5.2,0M347.7,449.3a2.6,2.6 0 1,0 5.2,0a2.6,2.6 0 1,0 -5.2,0M349.1,471.0a2.6,2.6 0 1,0 5.2,0a2.6,2.6 0 1,0 -5.2,0M348.7,447.8a2.6,2.6 0 1,0 5.2,0a2.6,2.6 0 1,0 -5.2,0M350.3,453.2a2.6,2.6 0 1,0 5.2,0a2.6,2.6 0 1,0 -5.2,0M347.0,467.1a2.6,2.6 0 1,0 5.2,0a2.6,2.6 0 1,0 -5.2,0M346.4,454.2a2.6,2.6 0 1,0 5.2,0a2.6,2.6 0 1,0 -5.2,0M350.3,458.2a2.6,2.6 0 1,0 5.2,0a2.6,2.6 0 1,0 -5.2,0M356.7,446.0a2.6,2.6 0 1,0 5.2,0a2.6,2.6 0 1,0 -5.2,0M355.5,445.4a2.6,2.6 0 1,0 5.2,0a2.6,2.6 0 1,0 -5.2,0M351.0,470.5a2.6,2.6 0 1,0 5.2,0a2.6,2.6 0 1,0 -5.2,0M348.2,451.7a2.6,2.6 0 1,0 5.2,0a2.6,2.6 0 1,0 -5.2,0M348.0,455.9a2.6,2.6 0 1,0 5.2,0a2.6,2.6 0 1,0 -5.2,0M347.4,449.4a2.6,2.6 0 1,0 5.2,0a2.6,2.6 0 1,0 -5.2,0M346.3,440.1a2.6,2.6 0 1,0 5.2,0a2.6,2.6 0 1,0 -5.2,0M346.2,468.8a2.6,2.6 0 1,0 5.2,0a2.6,2.6 0 1,0 -5.2,0M344.7,445.0a2.6,2.6 0 1,0 5.2,0a2.6,2.6 0 1,0 -5.2,0M346.8,462.3a2.6,2.6 0 1,0 5.2,0a2.6,2.6 0 1,0 -5.2,0M345.7,464.1a2.6,2.6 0 1,0 5.2,0a2.6,2.6 0 1,0 -5.2,0M349.8,466.4a2.6,2.6 0 1,0 5.2,0a2.6,2.6 0 1,0 -5.2,0M349.0,465.6a2.6,2.6 0 1,0 5.2,0a2.6,2.6 0 1,0 -5.2,0M348.9,457.9a2.6,2.6 0 1,0 5.2,0a2.6,2.6 0 1,0 -5.2,0M347.5,461.4a2.6,2.6 0 1,0 5.2,0a2.6,2.6 0 1,0 -5.2,0M352.0,461.2a2.6,2.6 0 1,0 5.2,0a2.6,2.6 0 1,0 -5.2,0M348.8,473.3a2.6,2.6 0 1,0 5.2,0a2.6,2.6 0 1,0 -5.2,0M347.3,441.9a2.6,2.6 0 1,0 5.2,0a2.6,2.6 0 1,0 -5.2,0M346.5,447.6a2.6,2.6 0 1,0 5.2,0a2.6,2.6 0 1,0 -5.2,0M345.0,442.0a2.6,2.6 0 1,0 5.2,0a2.6,2.6 0 1,0 -5.2,0" fill="none" stroke="#f00a0a" stroke-width="1.4"/>
<path d="M45.2,180.6H646.5V480.4H45.2ZM55.6,480.4v-6M55.6,180.6v6M109.3,480.4v-12M109.3,180.6v12M163.0,480.4v-6M163.0,180.6v6M216.8,480.4v-12M216.8,180.6v12M270.5,480.4v-6M270.5,180.6v6M324.2,480.4v-12M324.2,180.6v12M377.9,480.4v-6M377.9,180.6v6M431.7,480.4v-12M431.7,180.6v12M485.4,480.4v-6M485.4,180.6v6M539.1,480.4v-12M539.1,180.6v12M592.8,480.4v-6M592.8,180.6v6M646.5,480.4v-12M646.5,180.6v12M45.2,480.4h12M646.5,480.4h-12M45.2,450.4h6M646.5,450.4h-6M45.2,420.3h12M646.5,420.3h-12M45.2,390.3h6M646.5,390.3h-6M45.2,360.3h12M646.5,360.3h-12M45.2,330.2h6M646.5,330.2h-6M45.2,300.2h12M646.5,300.2h-12M45.2,270.2h6M646.5,270.2h-6M45.2,240.2h12M646.5,240.2h-12M45.2,210.1h6M646.5,210.1h-6M45.2,180.1h12M646.5,180.1h-12" fill="none" stroke="#1a1a1a" stroke-width="1.3"/>
<text x="110.7" y="497.8" font-size="16.5" text-anchor="middle">0</text>
<text x="218.2" y="497.8" font-size="16.5" text-anchor="middle">50</text>
<text x="325.6" y="497.8" font-size="16.5" text-anchor="middle">100</text>
<text x="433.1" y="497.8" font-size="16.5" text-anchor="middle">150</text>
<text x="540.5" y="497.8" font-size="16.5" text-anchor="middle">200</text>
<text x="647.9" y="497.8" font-size="16.5" text-anchor="middle">250</text>
<text x="39.8" y="486.5" font-size="16.8" text-anchor="end">0</text>
<text x="39.8" y="426.4" font-size="16.8" text-anchor="end">2</text>
<text x="39.8" y="366.4" font-size="16.8" text-anchor="end">4</text>
<text x="39.8" y="306.3" font-size="16.8" text-anchor="end">6</text>
<text x="39.8" y="246.3" font-size="16.8" text-anchor="end">8</text>
<text x="39.8" y="186.2" font-size="16.8" text-anchor="end">10</text>
<text x="352.6" y="516" font-size="16.95" text-anchor="middle">Distance in t (days)</text>
<text transform="translate(13.2,325.5) rotate(-90)" font-size="16.85" text-anchor="middle">distance (km)</text>
<rect x="495.1" y="0.5" width="188.9" height="217.1" fill="#fff" stroke="#1a1a1a" stroke-width="1.1"/>
<path d="M502,11.4H527" stroke="#ffa21f" stroke-width="1.15" stroke-dasharray="4.6 2.3" fill="none"/>
<text x="539" y="16.4" font-size="14.1">D<tspan font-size="6.8" dx="0.3" dy="3.4">h</tspan><tspan dx="0.3" dy="-3.4">=5 m</tspan><tspan font-size="8.5" dy="-6.5">2</tspan><tspan dy="6.5">/s</tspan></text>
<path d="M502,27.2H527" stroke="#2bff2b" stroke-width="1.15" stroke-dasharray="4.6 2.3" fill="none"/>
<text x="539" y="32.2" font-size="14.1">D<tspan font-size="6.8" dx="0.3" dy="3.4">h</tspan><tspan dx="0.3" dy="-3.4">=4 m</tspan><tspan font-size="8.5" dy="-7.5">2</tspan><tspan dy="7.5">/s</tspan></text>
<path d="M502,43H527" stroke="#1f8f1f" stroke-width="1.15" stroke-dasharray="4.6 2.3" fill="none"/>
<text x="539" y="48.0" font-size="14.1">D<tspan font-size="6.8" dx="0.3" dy="3.4">h</tspan><tspan dx="0.3" dy="-3.4">=3 m</tspan><tspan font-size="8.5" dy="-6.5">2</tspan><tspan dy="6.5">/s</tspan></text>
<path d="M502,58.8H527" stroke="#48e0d0" stroke-width="1.15" stroke-dasharray="4.6 2.3" fill="none"/>
<text x="539" y="63.8" font-size="14.1">D<tspan font-size="6.8" dx="0.3" dy="3.4">h</tspan><tspan dx="0.3" dy="-3.4">=1 m</tspan><tspan font-size="8.5" dy="-6.0">2</tspan><tspan dy="6.0">/s</tspan></text>
<path d="M502,74.7H527" stroke="#1ff4ff" stroke-width="1.15" stroke-dasharray="4.6 2.3" fill="none"/>
<text x="539" y="79.7" font-size="14.1">D<tspan font-size="6.8" dx="0.3" dy="3.4">h</tspan><tspan dx="0.3" dy="-3.4">=0.5 m</tspan><tspan font-size="8.5" dy="-7.5">2</tspan><tspan dy="7.5">/s</tspan></text>
<path d="M502,90.8H527" stroke="#1c1cff" stroke-width="1.15" stroke-dasharray="4.6 2.3" fill="none"/>
<text x="539" y="95.8" font-size="14.1">D<tspan font-size="6.8" dx="0.3" dy="3.4">h</tspan><tspan dx="0.3" dy="-3.4">=0.4 m</tspan><tspan font-size="8.5" dy="-7.5">2</tspan><tspan dy="7.5">/s</tspan></text>
<path d="M502,106.3H527" stroke="#8a3be2" stroke-width="1.15" stroke-dasharray="4.6 2.3" fill="none"/>
<text x="539" y="111.3" font-size="14.1">D<tspan font-size="6.8" dx="0.3" dy="3.4">h</tspan><tspan dx="0.3" dy="-3.4">=0.1 m</tspan><tspan font-size="8.5" dy="-6.0">2</tspan><tspan dy="6.0">/s</tspan></text>
<path d="M502,122.2H527" stroke="#9a18d6" stroke-width="1.15" stroke-dasharray="4.6 2.3" fill="none"/>
<text x="539" y="127.2" font-size="14.1">D<tspan font-size="6.8" dx="0.3" dy="3.4">h</tspan><tspan dx="0.3" dy="-3.4">=0.05 m</tspan><tspan font-size="8.5" dy="-6.0">2</tspan><tspan dy="6.0">/s</tspan></text>
<path d="M502,137.9H527" stroke="#ff30ff" stroke-width="1.15" stroke-dasharray="4.6 2.3" fill="none"/>
<text x="539" y="142.9" font-size="14.1">D<tspan font-size="6.8" dx="0.3" dy="3.4">h</tspan><tspan dx="0.3" dy="-3.4">=0.001 m</tspan><tspan font-size="8.5" dy="-6.0">2</tspan><tspan dy="6.0">/s</tspan></text>
<path d="M502,153.5H527" stroke="#00ffff" stroke-width="2.1" fill="none"/>
<text x="539" y="158.5" font-size="14.1">back front D<tspan font-size="6.8" dx="0.3" dy="3.4">h</tspan><tspan dx="0.3" dy="-3.4">=0.3m</tspan><tspan font-size="8.5" dy="-7.5">2</tspan><tspan dy="7.5">/s</tspan></text>
<path d="M502.3,169.7H523.6" stroke="#00ffff" stroke-width="2.1" stroke-dasharray="1.6 4 9.4 4" fill="none"/>
<text x="539" y="174.7" font-size="14.1">back front D<tspan font-size="6.8" dx="0.3" dy="3.4">h</tspan><tspan dx="0.3" dy="-3.4">=0.08 m</tspan><tspan font-size="8.5" dy="-6.0">2</tspan><tspan dy="6.0">/s</tspan></text>
<rect x="512.3" y="185.5" width="4.4" height="4.4" fill="none" stroke="#bc8f8f"/>
<text x="539" y="191.89999999999998" font-size="14.1">Augmented catalog</text>
<circle cx="514.5" cy="206.5" r="2.6" fill="none" stroke="#f00a0a" stroke-width="1.4"/>
<text x="539" y="210.3" font-size="14.1">Original catalog</text>
</svg></body></html>
